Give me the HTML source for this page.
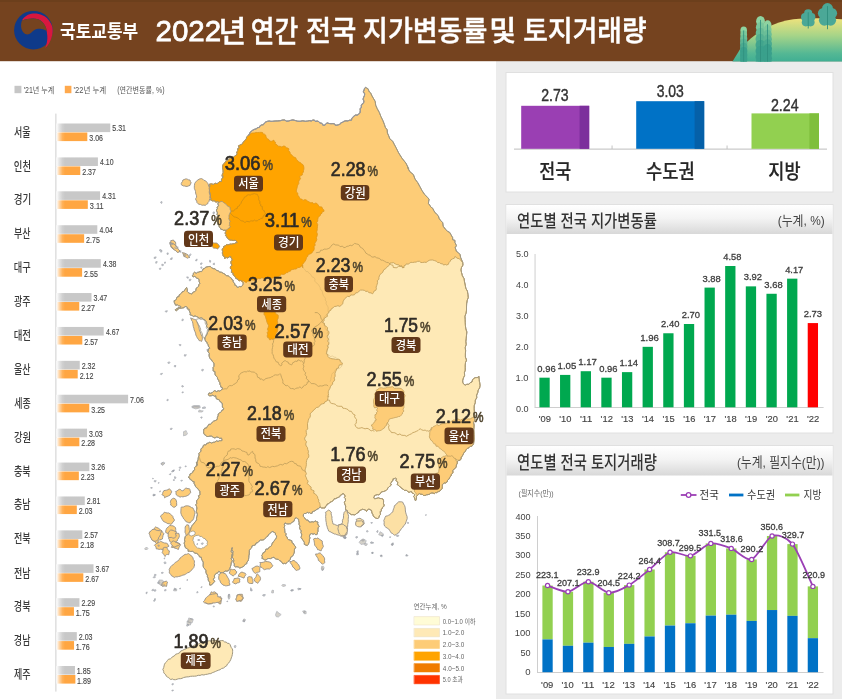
<!DOCTYPE html>
<html lang="ko"><head><meta charset="utf-8"><title>2022년 연간 전국 지가변동률 및 토지거래량</title>
<style>
html,body{margin:0;padding:0;background:#fff;}
body{width:842px;height:699px;overflow:hidden;position:relative;font-family:"Liberation Sans", "Noto Sans CJK KR", sans-serif;}
svg{position:absolute;left:0;top:0;display:block;}
text{font-family:"Liberation Sans", "Noto Sans CJK KR", sans-serif;}
</style></head><body>
<svg width="842" height="699" viewBox="0 0 842 699">
<defs>
<linearGradient id="gGray" gradientUnits="userSpaceOnUse" x1="56.5" y1="0" x2="65" y2="0"><stop offset="0" stop-color="#ffffff"/><stop offset="0.3" stop-color="#e6e6e6"/><stop offset="0.7" stop-color="#d0d0d0"/><stop offset="1" stop-color="#c8c8c8"/></linearGradient>
<linearGradient id="gOr" gradientUnits="userSpaceOnUse" x1="56.5" y1="0" x2="65" y2="0"><stop offset="0" stop-color="#ffffff"/><stop offset="0.3" stop-color="#ffd9ae"/><stop offset="0.7" stop-color="#ffb25a"/><stop offset="1" stop-color="#ffa642"/></linearGradient>
<linearGradient id="gTitle" x1="0" y1="0" x2="0" y2="1"><stop offset="0" stop-color="#ffffff"/><stop offset="0.45" stop-color="#f4f4f4"/><stop offset="1" stop-color="#d8d8d8"/></linearGradient>
<linearGradient id="gHill" x1="0" y1="0" x2="0" y2="1"><stop offset="0" stop-color="#efe27c"/><stop offset="0.4" stop-color="#a6d488"/><stop offset="0.8" stop-color="#55b894"/><stop offset="1" stop-color="#3fae93"/></linearGradient>
<clipPath id="hdr"><rect x="0" y="0" width="842" height="61.4"/></clipPath>
</defs>
<rect x="0" y="0" width="842" height="699" fill="#ffffff"/>
<rect x="496" y="61" width="346" height="638" fill="#ececec"/>
<g clip-path="url(#hdr)">
<rect x="0" y="0" width="842" height="61.4" fill="#75431f"/>
<rect x="0" y="0" width="842" height="2" fill="#6c3f1c"/>
<path d="M732.2 62 L 740.5 48.5 C 746 42, 756 33.5, 764.8 28.5 C 774 23.5, 784 20.3, 793.3 19.2 C 803 18.2, 815 18, 821.8 18.2 L 842 19.2 L 842 62 Z" fill="url(#gHill)"/>
<g>
<ellipse cx="743.7" cy="30.6" rx="3.3" ry="4.0" fill="#8dd3a0"/>
<ellipse cx="743.7" cy="34.6" rx="3.4" ry="4.0" fill="#7cc89c"/>
<ellipse cx="743.7" cy="38.7" rx="3.6" ry="4.0" fill="#6bbe98"/>
<ellipse cx="743.7" cy="42.8" rx="3.7" ry="4.0" fill="#5bb494"/>
<ellipse cx="743.7" cy="46.8" rx="3.7" ry="4.0" fill="#4aaa90"/>
<ellipse cx="743.7" cy="50.9" rx="3.7" ry="4.0" fill="#3aa08c"/>
<ellipse cx="743.7" cy="54.9" rx="3.7" ry="4.0" fill="#3aa08c"/>
<ellipse cx="743.7" cy="59.0" rx="3.7" ry="4.0" fill="#3aa08c"/>
<ellipse cx="743.7" cy="63.0" rx="3.7" ry="4.0" fill="#3aa08c"/>
<rect x="743.30" y="30.5" width="0.8" height="32.5" fill="#2f8f7e"/>
</g>
<g>
<ellipse cx="760.5" cy="21.2" rx="4.4" ry="5.3" fill="#8dd3a0"/>
<ellipse cx="760.5" cy="27.2" rx="4.6" ry="5.3" fill="#7ac79b"/>
<ellipse cx="760.5" cy="33.1" rx="4.8" ry="5.3" fill="#67bb96"/>
<ellipse cx="760.5" cy="39.1" rx="5.0" ry="5.3" fill="#54b092"/>
<ellipse cx="760.5" cy="45.1" rx="5.0" ry="5.3" fill="#41a48d"/>
<ellipse cx="760.5" cy="51.1" rx="5.0" ry="5.3" fill="#3aa08c"/>
<ellipse cx="760.5" cy="57.0" rx="5.0" ry="5.3" fill="#3aa08c"/>
<ellipse cx="760.5" cy="63.0" rx="5.0" ry="5.3" fill="#3aa08c"/>
<rect x="760.10" y="19.9" width="0.8" height="43.1" fill="#2f8f7e"/>
</g>
<g>
<ellipse cx="767.6" cy="24.9" rx="3.9" ry="4.6" fill="#8dd3a0"/>
<ellipse cx="767.6" cy="29.7" rx="4.0" ry="4.6" fill="#7cc89c"/>
<ellipse cx="767.6" cy="34.4" rx="4.2" ry="4.6" fill="#6bbe98"/>
<ellipse cx="767.6" cy="39.2" rx="4.3" ry="4.6" fill="#5bb494"/>
<ellipse cx="767.6" cy="43.9" rx="4.4" ry="4.6" fill="#4aaa90"/>
<ellipse cx="767.6" cy="48.7" rx="4.4" ry="4.6" fill="#3aa08c"/>
<ellipse cx="767.6" cy="53.5" rx="4.4" ry="4.6" fill="#3aa08c"/>
<ellipse cx="767.6" cy="58.2" rx="4.4" ry="4.6" fill="#3aa08c"/>
<ellipse cx="767.6" cy="63.0" rx="4.4" ry="4.6" fill="#3aa08c"/>
<rect x="767.20" y="24.2" width="0.8" height="38.8" fill="#2f8f7e"/>
</g>
<g fill="#4ba897">
<circle cx="808.2" cy="13.4" r="4.1"/>
<circle cx="804.9" cy="17.0" r="3.9"/>
<circle cx="811.5" cy="17.0" r="3.9"/>
<circle cx="805.9" cy="22.3" r="4.1"/>
<circle cx="810.5" cy="22.3" r="4.1"/>
<ellipse cx="808.2" cy="18.7" rx="4.7" ry="6.8"/>
</g>
<rect x="807.75" y="12.3" width="0.9" height="16.2" fill="#2f8f7e"/>
<g fill="#4ba897">
<circle cx="827.5" cy="8.6" r="5.5"/>
<circle cx="823.1" cy="13.3" r="5.2"/>
<circle cx="831.9" cy="13.3" r="5.2"/>
<circle cx="824.4" cy="20.2" r="5.5"/>
<circle cx="830.6" cy="20.2" r="5.5"/>
<ellipse cx="827.5" cy="15.5" rx="6.4" ry="9.0"/>
</g>
<rect x="827.05" y="6.1" width="0.9" height="23.1" fill="#2f8f7e"/>
<g transform="translate(33.4,30.2)">
<circle cx="0" cy="0" r="19.3" fill="#0f3a8a"/>
<path d="M-11.4 -9.6 C -9.5 -13.5, -5 -16.3, -0.4 -16.6 C 6 -17, 11.5 -14.5, 15 -10.5 C 18 -7, 19.3 -3.5, 19.3 0 C 19.3 6.5, 16.5 13.5, 11.8 17.9 C 13.5 13.5, 14.2 9, 13.9 5.7 C 13.5 0, 12.5 -4.5, 9.5 -7.8 C 6.5 -11, 3 -11.8, -0.4 -11.8 C -4.5 -11.8, -8.5 -11, -11.4 -9.6 Z" fill="#d8173f"/>
<path d="M-11.4 -9.6 C -8.5 -11, -4.5 -11.8, -0.4 -11.8 C 3 -11.8, 6.5 -11, 9.5 -7.8 C 11.8 -5.2, 13 -2.5, 13.5 1 C 12.5 0.2, 10.5 -0.9, 8.2 -1.2 C 6.8 -1.5, 5.8 -1.5, 4.6 -1.4 C 1.5 -1.2, -0.5 0.8, -2.5 2.9 C -4.8 5, -8 4.6, -10 2.4 C -12.5 -0.5, -13 -5.5, -11.4 -9.6 Z" fill="#75431f"/>
</g>
<text transform="translate(60.02 37.58) scale(0.1701 0.1802)" font-size="100" font-weight="700" fill="#ffffff" >국토교통부</text>
<text transform="translate(155.52 40.80) scale(0.2953 0.3028)" font-size="100" font-weight="400" fill="#ffffff" stroke="#ffffff" stroke-width="2.6">2022</text>
<text transform="translate(218.49 41.53) scale(0.3014 0.2956)" font-size="100" font-weight="500" fill="#ffffff" stroke="#ffffff" stroke-width="1.6">년</text>
<text transform="translate(250.85 41.53) scale(0.2583 0.2956)" font-size="100" font-weight="500" fill="#ffffff" stroke="#ffffff" stroke-width="1.6">연간</text>
<text transform="translate(306.04 41.00) scale(0.2730 0.2891)" font-size="100" font-weight="500" fill="#ffffff" stroke="#ffffff" stroke-width="1.6">전국</text>
<text transform="translate(363.05 41.03) scale(0.2702 0.2860)" font-size="100" font-weight="500" fill="#ffffff" stroke="#ffffff" stroke-width="1.6">지가변동률</text>
<text transform="translate(489.36 41.29) scale(0.2934 0.2891)" font-size="100" font-weight="500" fill="#ffffff" stroke="#ffffff" stroke-width="1.6">및</text>
<text transform="translate(523.36 41.00) scale(0.2679 0.2891)" font-size="100" font-weight="500" fill="#ffffff" stroke="#ffffff" stroke-width="1.6">토지거래량</text>
</g>
<g id="leftchart">
<rect x="14.5" y="85.8" width="6.9" height="7.4" fill="#c6c6c6"/>
<text transform="translate(23.65 92.90) scale(0.0706 0.0820)" font-size="100" font-weight="400" fill="#555" >'21년 누계</text>
<rect x="64.8" y="85.8" width="6.6" height="7.4" fill="#ffa94d"/>
<text transform="translate(73.62 92.90) scale(0.0754 0.0820)" font-size="100" font-weight="400" fill="#555" >'22년 누계</text>
<text transform="translate(117.18 92.90) scale(0.0706 0.0820)" font-size="100" font-weight="400" fill="#555" >(연간변동률, %)</text>
<rect x="55.2" y="113.6" width="1.3" height="578" fill="#dadada"/>
<text transform="translate(14.04 136.52) scale(0.0903 0.1204)" font-size="100" font-weight="500" fill="#3a3a3a" >서울</text>
<rect x="56.5" y="123.50" width="53.76" height="8.6" fill="url(#gGray)"/>
<rect x="56.5" y="132.50" width="30.81" height="8.6" fill="url(#gOr)"/>
<text transform="translate(112.28 131.41) scale(0.0704 0.0887)" font-size="100" font-weight="400" fill="#484848" stroke="#484848" stroke-width="1.5">5.31</text>
<text transform="translate(89.33 141.32) scale(0.0704 0.0845)" font-size="100" font-weight="400" fill="#484848" stroke="#484848" stroke-width="1.5">3.06</text>
<text transform="translate(13.84 170.63) scale(0.0935 0.1244)" font-size="100" font-weight="500" fill="#3a3a3a" >인천</text>
<rect x="56.5" y="157.41" width="41.42" height="8.6" fill="url(#gGray)"/>
<rect x="56.5" y="166.41" width="23.77" height="8.6" fill="url(#gOr)"/>
<text transform="translate(100.08 165.32) scale(0.0693 0.0887)" font-size="100" font-weight="400" fill="#484848" stroke="#484848" stroke-width="1.5">4.10</text>
<text transform="translate(82.22 175.22) scale(0.0708 0.0845)" font-size="100" font-weight="400" fill="#484848" stroke="#484848" stroke-width="1.5">2.37</text>
<text transform="translate(13.83 204.33) scale(0.0952 0.1204)" font-size="100" font-weight="500" fill="#3a3a3a" >경기</text>
<rect x="56.5" y="191.31" width="43.56" height="8.6" fill="url(#gGray)"/>
<rect x="56.5" y="200.31" width="31.32" height="8.6" fill="url(#gOr)"/>
<text transform="translate(102.22 199.22) scale(0.0697 0.0887)" font-size="100" font-weight="400" fill="#484848" stroke="#484848" stroke-width="1.5">4.31</text>
<text transform="translate(89.83 209.13) scale(0.0736 0.0845)" font-size="100" font-weight="400" fill="#484848" stroke="#484848" stroke-width="1.5">3.11</text>
<text transform="translate(13.95 238.23) scale(0.0898 0.1204)" font-size="100" font-weight="500" fill="#3a3a3a" >부산</text>
<rect x="56.5" y="225.22" width="40.81" height="8.6" fill="url(#gGray)"/>
<rect x="56.5" y="234.22" width="27.65" height="8.6" fill="url(#gOr)"/>
<text transform="translate(99.47 233.13) scale(0.0689 0.0887)" font-size="100" font-weight="400" fill="#484848" stroke="#484848" stroke-width="1.5">4.04</text>
<text transform="translate(86.10 243.03) scale(0.0708 0.0845)" font-size="100" font-weight="400" fill="#484848" stroke="#484848" stroke-width="1.5">2.75</text>
<text transform="translate(13.66 272.13) scale(0.0924 0.1217)" font-size="100" font-weight="500" fill="#3a3a3a" >대구</text>
<rect x="56.5" y="259.12" width="44.28" height="8.6" fill="url(#gGray)"/>
<rect x="56.5" y="268.12" width="25.61" height="8.6" fill="url(#gOr)"/>
<text transform="translate(102.94 267.04) scale(0.0697 0.0887)" font-size="100" font-weight="400" fill="#484848" stroke="#484848" stroke-width="1.5">4.38</text>
<text transform="translate(84.06 276.94) scale(0.0708 0.0845)" font-size="100" font-weight="400" fill="#484848" stroke="#484848" stroke-width="1.5">2.55</text>
<text transform="translate(14.04 306.03) scale(0.0903 0.1217)" font-size="100" font-weight="500" fill="#3a3a3a" >광주</text>
<rect x="56.5" y="293.03" width="34.99" height="8.6" fill="url(#gGray)"/>
<rect x="56.5" y="302.03" width="22.75" height="8.6" fill="url(#gOr)"/>
<text transform="translate(93.51 300.94) scale(0.0704 0.0887)" font-size="100" font-weight="400" fill="#484848" stroke="#484848" stroke-width="1.5">3.47</text>
<text transform="translate(81.20 310.93) scale(0.0708 0.0857)" font-size="100" font-weight="400" fill="#484848" stroke="#484848" stroke-width="1.5">2.27</text>
<text transform="translate(13.64 339.94) scale(0.0946 0.1217)" font-size="100" font-weight="500" fill="#3a3a3a" >대전</text>
<rect x="56.5" y="326.94" width="47.23" height="8.6" fill="url(#gGray)"/>
<rect x="56.5" y="335.94" width="25.81" height="8.6" fill="url(#gOr)"/>
<text transform="translate(105.89 334.85) scale(0.0697 0.0887)" font-size="100" font-weight="400" fill="#484848" stroke="#484848" stroke-width="1.5">4.67</text>
<text transform="translate(84.26 344.75) scale(0.0708 0.0845)" font-size="100" font-weight="400" fill="#484848" stroke="#484848" stroke-width="1.5">2.57</text>
<text transform="translate(13.95 373.97) scale(0.0898 0.1217)" font-size="100" font-weight="500" fill="#3a3a3a" >울산</text>
<rect x="56.5" y="360.84" width="23.26" height="8.6" fill="url(#gGray)"/>
<rect x="56.5" y="369.84" width="21.22" height="8.6" fill="url(#gOr)"/>
<text transform="translate(81.71 368.75) scale(0.0708 0.0887)" font-size="100" font-weight="400" fill="#484848" stroke="#484848" stroke-width="1.5">2.32</text>
<text transform="translate(79.67 378.74) scale(0.0708 0.0857)" font-size="100" font-weight="400" fill="#484848" stroke="#484848" stroke-width="1.5">2.12</text>
<text transform="translate(14.13 407.76) scale(0.0898 0.1204)" font-size="100" font-weight="500" fill="#3a3a3a" >세종</text>
<rect x="56.5" y="394.75" width="71.61" height="8.6" fill="url(#gGray)"/>
<rect x="56.5" y="403.75" width="32.75" height="8.6" fill="url(#gOr)"/>
<text transform="translate(130.06 402.66) scale(0.0708 0.0887)" font-size="100" font-weight="400" fill="#484848" stroke="#484848" stroke-width="1.5">7.06</text>
<text transform="translate(91.27 412.56) scale(0.0704 0.0845)" font-size="100" font-weight="400" fill="#484848" stroke="#484848" stroke-width="1.5">3.25</text>
<text transform="translate(13.93 441.77) scale(0.0935 0.1231)" font-size="100" font-weight="500" fill="#3a3a3a" >강원</text>
<rect x="56.5" y="428.65" width="30.51" height="8.6" fill="url(#gGray)"/>
<rect x="56.5" y="437.65" width="22.86" height="8.6" fill="url(#gOr)"/>
<text transform="translate(89.02 436.57) scale(0.0704 0.0887)" font-size="100" font-weight="400" fill="#484848" stroke="#484848" stroke-width="1.5">3.03</text>
<text transform="translate(81.30 446.47) scale(0.0708 0.0845)" font-size="100" font-weight="400" fill="#484848" stroke="#484848" stroke-width="1.5">2.28</text>
<text transform="translate(13.95 475.58) scale(0.0908 0.1204)" font-size="100" font-weight="500" fill="#3a3a3a" >충북</text>
<rect x="56.5" y="462.56" width="32.85" height="8.6" fill="url(#gGray)"/>
<rect x="56.5" y="471.56" width="22.35" height="8.6" fill="url(#gOr)"/>
<text transform="translate(91.37 470.47) scale(0.0704 0.0887)" font-size="100" font-weight="400" fill="#484848" stroke="#484848" stroke-width="1.5">3.26</text>
<text transform="translate(80.79 480.38) scale(0.0708 0.0845)" font-size="100" font-weight="400" fill="#484848" stroke="#484848" stroke-width="1.5">2.23</text>
<text transform="translate(13.95 509.48) scale(0.0898 0.1204)" font-size="100" font-weight="500" fill="#3a3a3a" >충남</text>
<rect x="56.5" y="496.47" width="28.26" height="8.6" fill="url(#gGray)"/>
<rect x="56.5" y="505.47" width="20.31" height="8.6" fill="url(#gOr)"/>
<text transform="translate(86.71 504.38) scale(0.0708 0.0887)" font-size="100" font-weight="400" fill="#484848" stroke="#484848" stroke-width="1.5">2.81</text>
<text transform="translate(78.75 514.28) scale(0.0708 0.0845)" font-size="100" font-weight="400" fill="#484848" stroke="#484848" stroke-width="1.5">2.03</text>
<text transform="translate(13.95 543.38) scale(0.0908 0.1217)" font-size="100" font-weight="500" fill="#3a3a3a" >전북</text>
<rect x="56.5" y="530.37" width="25.81" height="8.6" fill="url(#gGray)"/>
<rect x="56.5" y="539.37" width="21.84" height="8.6" fill="url(#gOr)"/>
<text transform="translate(84.26 538.28) scale(0.0708 0.0887)" font-size="100" font-weight="400" fill="#484848" stroke="#484848" stroke-width="1.5">2.57</text>
<text transform="translate(80.28 548.19) scale(0.0708 0.0845)" font-size="100" font-weight="400" fill="#484848" stroke="#484848" stroke-width="1.5">2.18</text>
<text transform="translate(13.95 577.51) scale(0.0898 0.1244)" font-size="100" font-weight="500" fill="#3a3a3a" >전남</text>
<rect x="56.5" y="564.28" width="37.03" height="8.6" fill="url(#gGray)"/>
<rect x="56.5" y="573.28" width="26.83" height="8.6" fill="url(#gOr)"/>
<text transform="translate(95.55 572.19) scale(0.0704 0.0887)" font-size="100" font-weight="400" fill="#484848" stroke="#484848" stroke-width="1.5">3.67</text>
<text transform="translate(85.28 582.09) scale(0.0708 0.0845)" font-size="100" font-weight="400" fill="#484848" stroke="#484848" stroke-width="1.5">2.67</text>
<text transform="translate(13.85 611.19) scale(0.0913 0.1217)" font-size="100" font-weight="500" fill="#3a3a3a" >경북</text>
<rect x="56.5" y="598.18" width="22.96" height="8.6" fill="url(#gGray)"/>
<rect x="56.5" y="607.18" width="17.45" height="8.6" fill="url(#gOr)"/>
<text transform="translate(81.40 606.10) scale(0.0708 0.0887)" font-size="100" font-weight="400" fill="#484848" stroke="#484848" stroke-width="1.5">2.29</text>
<text transform="translate(75.67 616.00) scale(0.0720 0.0857)" font-size="100" font-weight="400" fill="#484848" stroke="#484848" stroke-width="1.5">1.75</text>
<text transform="translate(13.86 645.21) scale(0.0903 0.1231)" font-size="100" font-weight="500" fill="#3a3a3a" >경남</text>
<rect x="56.5" y="632.09" width="20.31" height="8.6" fill="url(#gGray)"/>
<rect x="56.5" y="641.09" width="17.55" height="8.6" fill="url(#gOr)"/>
<text transform="translate(78.75 640.00) scale(0.0708 0.0887)" font-size="100" font-weight="400" fill="#484848" stroke="#484848" stroke-width="1.5">2.03</text>
<text transform="translate(75.78 649.91) scale(0.0720 0.0845)" font-size="100" font-weight="400" fill="#484848" stroke="#484848" stroke-width="1.5">1.76</text>
<text transform="translate(14.04 679.01) scale(0.0903 0.1204)" font-size="100" font-weight="500" fill="#3a3a3a" >제주</text>
<rect x="56.5" y="666.00" width="18.47" height="8.6" fill="url(#gGray)"/>
<rect x="56.5" y="675.00" width="18.88" height="8.6" fill="url(#gOr)"/>
<text transform="translate(76.69 673.91) scale(0.0720 0.0887)" font-size="100" font-weight="400" fill="#484848" stroke="#484848" stroke-width="1.5">1.85</text>
<text transform="translate(77.10 683.81) scale(0.0720 0.0845)" font-size="100" font-weight="400" fill="#484848" stroke="#484848" stroke-width="1.5">1.89</text>
</g>
<g id="map" stroke-linejoin="round" stroke-linecap="round">
<path d="M248.9 135.0 L249.5 133.7 L250.1 132.5 L251.4 131.1 L252.9 130.1 L254.6 129.3 L256.4 128.8 L257.5 127.6 L259.3 127.4 L260.1 125.8 L261.4 125.0 L263.3 124.7 L264.5 123.1 L265.8 121.9 L267.6 121.3 L269.3 121.0 L270.9 121.4 L272.6 121.3 L275.1 121.0 L277.7 120.9 L280.2 120.7 L282.7 120.0 L284.6 120.0 L286.4 121.1 L288.3 121.1 L290.2 120.5 L292.8 119.9 L295.2 120.5 L297.7 121.2 L300.2 121.3 L302.7 120.8 L305.2 121.3 L307.7 121.0 L310.2 120.5 L310.0 120.8 L311.5 120.9 L312.8 120.1 L314.3 120.1 L315.4 121.4 L317.2 121.1 L318.6 121.5 L319.9 122.9 L321.9 123.4 L322.9 125.1 L324.8 125.2 L325.9 123.8 L327.2 122.9 L329.1 123.5 L331.0 123.7 L332.9 123.6 L334.4 123.8 L335.5 125.3 L337.2 125.1 L338.6 124.7 L340.0 124.2 L340.8 122.9 L342.5 122.3 L344.0 121.3 L345.8 120.8 L347.7 120.9 L349.6 120.2 L351.5 120.1 L351.8 118.5 L352.9 117.2 L354.1 116.0 L355.4 115.1 L357.2 115.1 L358.6 114.3 L360.0 112.6 L360.3 110.7 L360.1 108.6 L361.4 107.5 L361.3 105.4 L362.2 104.0 L363.6 102.9 L363.9 101.1 L363.1 99.2 L363.6 97.4 L364.4 95.7 L364.7 93.8 L363.3 91.9 L364.1 90.0 L364.5 88.4 L365.8 87.4 L366.8 88.2 L367.9 88.6 L368.6 90.3 L369.4 92.0 L370.9 93.2 L371.5 95.0 L373.3 98.2 L375.2 101.4 L375.7 105.2 L377.2 108.6 L379.3 112.4 L380.9 116.5 L382.8 120.4 L384.4 124.4 L385.3 127.3 L387.2 129.8 L387.4 133.0 L388.7 135.8 L389.9 139.0 L392.7 141.2 L394.2 144.2 L395.8 147.2 L398.6 152.8 L401.9 158.1 L405.9 163.1 L408.7 168.7 L407.6 167.6 L409.8 171.6 L413.4 174.6 L415.0 179.0 L417.7 182.6 L419.9 186.6 L422.0 190.6 L424.5 194.3 L427.7 197.6 L429.1 199.2 L428.7 201.3 L428.4 203.4 L429.7 205.1 L430.9 207.1 L432.9 208.5 L433.8 210.7 L435.2 212.6 L436.7 214.3 L438.4 215.9 L439.0 218.2 L440.2 220.1 L442.7 222.5 L443.2 226.2 L445.2 229.0 L447.7 231.4 L449.7 232.4 L450.7 234.2 L451.7 236.0 L452.7 237.7 L452.6 239.7 L455.0 240.4 L454.9 242.4 L455.7 243.9 L456.4 245.7 L455.2 247.7 L455.9 249.6 L456.4 251.4 L458.2 252.5 L460.1 254.6 L460.6 257.4 L461.7 259.9 L462.7 262.5 L462.9 265.1 L461.5 267.4 L460.9 269.9 L461.5 272.5 L462.3 275.7 L464.0 278.6 L464.5 281.9 L465.2 285.1 L465.8 288.3 L467.4 291.2 L467.9 294.4 L468.2 297.6 L467.1 300.6 L466.6 303.8 L466.5 306.9 L466.5 310.1 L466.0 313.2 L464.9 316.3 L465.1 319.4 L465.2 322.6 L465.4 325.7 L465.8 328.9 L466.8 331.9 L466.5 335.1 L466.2 338.2 L465.8 341.3 L466.1 344.5 L465.2 347.6 L465.6 350.7 L465.4 353.9 L465.4 357.1 L466.5 360.1 L465.5 362.5 L465.2 365.1 L465.2 367.6 L465.2 370.2 L464.4 372.6 L464.6 375.4 L463.5 377.7 L462.7 380.2 L462.7 382.3 L463.5 383.9 L465.2 385.2 L466.8 384.3 L468.9 384.3 L470.2 382.7 L472.0 382.0 L472.5 380.0 L473.6 378.6 L475.2 377.7 L476.6 377.6 L477.9 377.4 L479.0 376.4 L478.9 378.0 L479.2 379.6 L479.3 381.1 L479.7 382.7 L480.0 385.4 L479.6 387.9 L478.1 390.2 L477.7 392.7 L476.6 395.1 L476.7 397.8 L475.3 400.1 L475.2 402.7 L474.2 405.7 L474.1 408.8 L474.3 411.9 L474.0 415.0 L475.2 415.0 L474.3 417.4 L474.8 420.0 L473.5 422.4 L474.0 425.0 L473.7 429.7 L473.9 434.4 L474.0 439.1 L473.5 443.8 L472.7 445.0 L471.9 446.2 L470.2 446.3 L469.0 447.6 L467.3 448.4 L466.1 449.7 L465.2 451.3 L463.9 452.8 L463.0 454.5 L462.2 456.3 L461.0 457.3 L461.0 458.9 L460.2 460.1 L458.6 460.5 L457.3 461.6 L457.2 463.3 L456.4 464.9 L456.2 466.6 L455.4 468.1 L453.9 469.1 L452.7 470.6 L452.9 472.8 L451.4 474.1 L450.9 475.9 L449.7 477.4 L449.0 479.1 L447.6 480.1 L447.1 482.0 L445.6 482.9 L444.1 482.8 L443.3 483.9 L442.3 484.6 L442.3 486.5 L442.1 488.4 L440.8 490.0 L439.9 491.0 L438.7 491.5 L437.6 491.9 L436.6 492.6 L435.4 492.6 L434.3 493.6 L433.0 492.9 L431.5 492.9 L430.1 493.6 L429.2 494.3 L428.0 494.6 L426.5 494.7 L425.1 495.5 L423.5 495.4 L422.3 494.3 L420.8 494.2 L419.4 493.6 L418.4 494.3 L417.5 495.0 L416.4 496.2 L416.5 497.9 L416.2 499.4 L415.5 500.8 L414.9 499.4 L414.7 497.9 L413.7 496.6 L414.9 494.8 L413.7 493.6 L412.2 493.0 L411.5 491.5 L410.3 491.7 L409.1 492.3 L407.9 491.7 L407.0 490.5 L405.8 490.3 L404.4 490.3 L403.1 489.1 L401.5 488.3 L400.8 487.1 L399.5 486.5 L398.7 485.4 L397.2 484.5 L398.0 482.4 L396.7 481.4 L396.0 480.3 L396.5 478.9 L395.5 477.9 L394.3 478.7 L392.9 478.9 L393.1 480.3 L391.9 481.1 L391.5 482.2 L390.5 483.3 L391.3 485.0 L390.1 486.0 L388.9 486.9 L387.9 487.9 L387.2 489.3 L386.2 490.4 L384.9 490.9 L383.6 491.5 L382.0 491.7 L380.8 492.5 L380.1 494.0 L378.8 494.8 L377.2 494.6 L375.7 495.1 L374.3 495.7 L374.2 496.9 L373.6 497.9 L374.6 498.7 L375.8 498.6 L377.2 498.2 L378.6 497.9 L380.0 498.5 L381.5 498.6 L383.0 499.2 L383.6 500.8 L383.5 502.2 L383.5 503.7 L384.1 505.0 L383.8 506.4 L382.5 507.2 L382.2 508.6 L381.1 509.3 L381.5 511.0 L380.1 511.5 L380.3 513.0 L380.4 514.5 L379.3 515.8 L378.9 517.3 L377.9 518.6 L376.7 518.3 L375.5 517.9 L374.2 517.0 L373.3 515.9 L372.9 514.3 L372.0 513.1 L371.8 511.7 L371.5 510.3 L370.0 509.6 L368.6 508.9 L367.4 510.1 L366.5 511.5 L365.5 509.9 L363.6 509.5 L362.3 509.2 L361.2 509.9 L360.0 510.3 L358.9 511.0 L358.6 512.5 L357.2 512.9 L356.0 514.2 L354.7 514.8 L352.9 514.6 L351.2 514.6 L350.0 513.6 L348.6 512.9 L347.7 511.9 L347.1 510.5 L345.7 510.0 L345.5 508.1 L345.7 506.1 L344.9 504.3 L344.4 502.3 L345.5 500.5 L345.4 498.6 L344.4 497.6 L345.3 496.1 L344.6 495.0 L343.6 493.6 L342.2 493.8 L341.4 495.0 L340.2 495.3 L339.7 496.7 L338.6 497.2 L337.1 497.8 L335.7 498.6 L334.2 498.7 L333.6 499.8 L332.9 500.8 L331.5 501.6 L330.0 502.2 L329.0 503.5 L327.2 504.0 L326.6 505.7 L325.4 506.3 L325.0 507.9 L323.4 507.9 L321.6 507.9 L320.1 506.8 L319.4 507.9 L318.4 508.7 L317.1 509.2 L316.0 510.0 L315.0 510.8 L313.7 511.3 L312.4 511.7 L312.1 513.3 L310.7 513.5 L309.7 512.6 L308.3 513.0 L307.3 512.2 L306.1 513.5 L304.3 513.5 L303.3 514.8 L303.4 516.5 L304.5 517.6 L305.2 518.9 L306.4 519.9 L308.1 520.2 L309.0 521.9 L310.7 522.1 L312.1 521.7 L313.8 522.1 L315.0 520.8 L316.4 521.6 L318.0 522.1 L317.7 523.7 L318.3 525.1 L319.3 526.3 L318.1 527.8 L318.0 529.7 L318.0 531.5 L317.4 532.7 L317.3 534.2 L315.9 534.9 L314.7 533.7 L313.0 534.2 L311.6 533.6 L310.0 534.4 L309.4 536.2 L310.0 537.9 L309.4 539.7 L309.4 541.4 L308.9 542.9 L308.3 544.4 L307.3 545.6 L305.8 545.1 L304.3 544.4 L304.3 542.3 L303.2 540.6 L302.1 539.0 L301.0 537.6 L301.5 535.8 L301.7 534.1 L300.8 532.6 L301.3 530.9 L300.1 529.4 L299.5 527.8 L300.0 526.1 L299.0 524.5 L299.1 522.6 L298.7 520.8 L298.6 519.3 L297.4 518.7 L296.5 517.8 L295.0 518.4 L294.4 519.9 L293.9 521.4 L292.6 522.1 L291.4 522.9 L290.4 523.8 L289.2 523.8 L288.0 524.0 L286.4 523.7 L285.0 522.9 L284.3 524.3 L284.9 525.9 L284.1 527.2 L284.7 528.9 L284.8 530.8 L285.0 532.6 L286.2 533.8 L285.7 535.8 L287.1 536.9 L287.4 538.6 L288.5 539.6 L290.1 540.1 L291.8 540.7 L292.0 542.7 L293.5 543.5 L294.0 545.0 L295.3 546.2 L295.7 547.8 L294.5 549.0 L294.4 550.5 L294.4 552.1 L293.9 553.6 L293.2 555.1 L292.3 556.4 L290.6 557.3 L290.3 559.3 L289.2 560.7 L287.9 561.6 L286.9 562.7 L285.8 563.7 L284.6 563.3 L283.1 563.8 L282.0 562.8 L281.1 561.3 L279.5 560.6 L278.3 559.4 L276.6 559.2 L275.1 558.7 L274.0 557.2 L272.3 557.7 L270.6 558.6 L268.7 558.5 L267.2 558.8 L266.1 560.1 L264.4 559.8 L263.2 558.9 L261.8 558.3 L262.5 557.0 L261.7 555.4 L262.6 554.2 L263.1 552.7 L264.7 552.1 L265.4 550.8 L265.9 549.1 L268.0 549.1 L268.7 547.6 L270.1 546.8 L271.3 545.9 L271.9 544.4 L272.3 543.1 L273.2 542.0 L274.2 541.1 L274.7 539.8 L275.9 538.8 L276.4 537.5 L276.7 535.9 L275.4 534.7 L275.5 533.2 L274.1 532.4 L272.9 531.5 L271.6 531.8 L270.8 532.8 L269.9 533.6 L268.5 534.5 L267.9 536.2 L266.5 537.1 L265.2 538.3 L264.0 539.7 L262.2 540.1 L260.3 540.1 L259.0 541.2 L257.9 542.6 L256.1 543.0 L255.4 545.0 L253.6 545.4 L252.0 545.9 L251.7 547.7 L250.6 548.7 L249.4 550.3 L249.3 552.1 L249.3 554.0 L248.9 555.8 L248.8 557.6 L248.5 559.4 L248.1 560.9 L246.9 562.1 L246.8 563.7 L245.5 564.1 L244.7 565.1 L244.0 566.2 L242.6 566.9 L241.2 567.6 L239.7 568.0 L238.4 567.1 L237.0 566.7 L235.4 566.9 L234.1 565.8 L234.4 563.8 L233.3 562.6 L233.8 560.7 L233.3 558.8 L232.2 557.0 L232.8 555.1 L232.7 553.2 L233.0 551.3 L231.7 549.5 L232.2 547.6 L231.7 549.5 L231.1 551.3 L232.5 553.3 L231.8 555.1 L231.8 557.0 L231.1 558.8 L232.4 560.8 L231.3 562.6 L231.1 564.5 L230.6 566.2 L230.0 568.0 L229.3 569.4 L228.5 570.7 L226.8 571.2 L225.1 571.0 L223.9 572.2 L222.5 572.7 L221.0 573.0 L219.9 572.1 L218.9 571.2 L218.1 572.1 L217.5 573.2 L216.1 573.3 L215.2 574.6 L214.3 575.9 L214.6 577.6 L213.3 579.2 L214.7 581.4 L213.3 583.0 L212.3 584.0 L211.3 585.1 L209.7 585.1 L209.5 583.7 L209.9 582.3 L208.6 581.2 L208.2 579.7 L208.2 578.1 L207.4 576.8 L207.4 575.2 L206.5 574.0 L205.9 572.4 L205.9 570.5 L204.9 569.0 L203.6 567.6 L203.1 565.9 L203.2 564.0 L203.2 562.1 L202.3 560.6 L201.5 559.0 L201.4 557.3 L199.6 557.0 L199.0 555.7 L198.0 554.3 L196.7 553.4 L194.9 553.2 L193.7 552.1 L192.4 551.3 L190.7 551.5 L189.5 551.2 L188.2 551.4 L188.1 549.7 L187.2 548.7 L185.7 548.1 L184.9 546.5 L184.6 544.8 L184.1 543.1 L184.8 541.5 L184.5 539.7 L184.9 538.1 L185.2 536.4 L186.6 535.3 L187.4 533.9 L188.0 532.6 L188.9 531.6 L189.9 530.6 L190.7 529.3 L190.9 527.8 L191.6 526.5 L192.3 525.2 L193.3 524.2 L194.1 523.1 L195.0 522.0 L195.9 521.0 L196.6 519.8 L196.5 518.1 L196.9 516.4 L197.4 514.8 L197.0 513.1 L196.3 511.6 L196.6 509.8 L196.9 508.0 L196.5 506.4 L195.7 504.8 L196.7 503.6 L196.6 502.1 L196.6 500.7 L197.5 499.6 L198.3 498.6 L199.0 497.4 L198.4 495.8 L200.1 494.7 L199.9 493.2 L199.8 491.2 L198.5 489.7 L197.4 488.2 L196.2 487.4 L195.4 486.3 L194.9 484.9 L194.0 483.4 L194.1 481.6 L192.7 481.6 L191.9 480.3 L190.7 479.9 L189.9 479.1 L189.5 477.8 L188.2 477.4 L189.1 476.5 L189.8 475.4 L189.9 474.1 L191.4 473.4 L192.7 472.5 L193.2 470.8 L194.7 469.8 L194.4 467.7 L195.7 466.6 L197.1 465.2 L196.8 463.2 L197.4 461.6 L196.4 462.9 L196.7 464.6 L196.2 466.1 L197.5 464.8 L196.4 462.8 L197.4 461.4 L198.0 459.8 L198.2 458.1 L198.6 456.4 L199.2 455.1 L198.8 453.5 L199.9 452.3 L201.0 451.1 L200.8 449.4 L201.6 448.1 L202.9 447.4 L203.1 445.7 L204.1 444.8 L205.8 445.0 L206.7 443.4 L208.2 443.1 L209.8 442.2 L211.6 443.0 L213.2 442.3 L214.9 442.1 L216.4 440.9 L218.2 441.4 L219.3 440.7 L220.6 440.7 L221.9 440.6 L221.9 439.3 L221.5 438.1 L219.7 438.4 L218.2 437.3 L216.5 437.1 L214.9 438.0 L213.2 437.3 L211.7 436.2 L210.0 436.1 L208.2 436.5 L206.7 436.5 L205.8 435.3 L204.6 434.8 L203.7 433.3 L203.6 431.5 L203.7 430.2 L203.9 429.0 L204.9 428.1 L206.5 428.0 L207.1 426.5 L208.2 425.7 L208.8 424.3 L210.6 424.3 L211.5 423.2 L212.4 422.1 L213.5 421.2 L214.9 420.7 L216.5 420.1 L217.3 418.9 L217.4 417.3 L218.1 415.7 L218.2 414.0 L219.3 413.0 L220.7 412.4 L221.4 411.4 L221.9 410.2 L223.2 409.9 L223.6 408.4 L222.4 407.1 L222.4 405.7 L222.3 403.9 L221.5 402.4 L219.9 401.5 L219.3 399.9 L217.9 399.4 L216.5 399.0 L215.9 397.4 L215.7 395.7 L214.3 396.3 L212.9 395.1 L211.5 395.7 L209.7 395.9 L208.2 394.9 L209.0 392.9 L210.7 393.3 L212.0 392.8 L213.2 391.6 L214.7 390.6 L216.6 391.6 L218.2 390.7 L219.9 391.1 L221.1 390.0 L222.4 389.1 L222.4 387.7 L220.8 387.1 L220.7 385.7 L219.9 384.4 L219.9 382.8 L219.0 381.6 L218.6 380.2 L217.6 378.9 L217.4 377.4 L216.3 376.2 L215.2 375.0 L214.9 373.3 L215.0 371.6 L213.0 370.8 L213.2 369.1 L213.0 367.6 L213.9 366.4 L214.0 365.0 L213.9 363.0 L212.5 361.6 L211.5 360.0 L210.1 358.6 L209.3 356.9 L209.0 355.0 L209.4 353.2 L207.9 351.8 L208.2 350.0 L208.7 348.7 L209.9 348.1 L209.1 347.1 L208.3 346.1 L208.2 344.8 L207.3 343.7 L207.0 342.2 L205.7 341.4 L205.0 339.8 L204.9 338.1 L205.0 336.8 L206.1 335.9 L206.6 334.8 L207.3 333.8 L207.4 332.5 L208.2 331.5 L208.6 330.0 L208.6 328.5 L207.4 327.3 L206.3 326.1 L207.1 324.5 L206.6 323.2 L206.5 321.8 L205.6 320.9 L204.9 319.8 L203.4 319.4 L202.4 318.2 L201.0 317.8 L199.5 318.3 L198.2 317.3 L196.6 316.6 L195.1 315.9 L193.3 316.5 L192.3 315.6 L191.1 315.1 L189.9 314.8 L190.3 313.3 L189.8 312.0 L189.1 310.7 L189.2 309.3 L187.2 308.9 L187.4 307.4 L186.2 306.7 L184.9 306.5 L184.1 307.7 L182.9 307.9 L181.6 308.2 L179.5 308.2 L178.0 309.3 L176.6 310.7 L175.0 309.9 L176.0 308.9 L177.5 309.0 L178.1 307.5 L180.2 307.9 L180.8 306.5 L179.6 305.9 L178.3 305.7 L177.4 304.8 L175.7 305.3 L175.0 304.0 L174.3 302.4 L174.1 300.7 L175.3 300.2 L176.3 299.5 L176.6 298.2 L177.2 296.9 L179.0 296.5 L179.1 294.9 L180.4 294.0 L181.6 293.0 L182.4 291.6 L184.0 291.3 L184.9 289.9 L185.6 288.5 L186.6 287.4 L187.1 288.6 L187.4 289.9 L187.2 291.4 L188.1 292.3 L189.1 293.2 L190.4 293.5 L191.6 294.1 L192.5 293.0 L193.4 291.9 L194.9 291.6 L195.9 290.3 L196.0 288.4 L197.4 287.4 L198.6 286.3 L198.9 284.5 L199.9 283.3 L199.1 281.7 L199.1 279.9 L198.3 278.6 L196.8 278.2 L195.7 277.4 L194.9 276.2 L193.2 277.0 L192.4 275.8 L193.2 274.7 L193.3 273.3 L194.5 272.2 L196.2 273.3 L197.4 272.4 L198.8 272.1 L200.1 271.5 L201.6 271.6 L202.5 270.3 L203.2 268.8 L204.9 268.3 L205.7 267.1 L206.9 266.9 L208.2 266.6 L210.2 266.4 L211.6 267.7 L213.2 268.6 L215.1 268.8 L216.4 270.4 L218.2 270.8 L219.7 272.0 L221.6 272.3 L223.2 273.3 L224.9 274.1 L226.2 275.7 L228.2 275.8 L229.3 276.6 L230.3 277.6 L231.5 278.3 L231.8 279.5 L233.2 280.2 L233.2 281.6 L233.8 282.8 L234.9 283.7 L234.8 285.2 L236.2 285.5 L236.8 287.0 L238.1 287.4 L239.4 286.5 L241.1 286.8 L242.3 285.7 L242.9 284.6 L243.1 283.3 L243.1 282.4 L242.1 281.1 L240.7 280.5 L239.0 280.8 L238.2 279.6 L237.0 278.8 L235.7 278.3 L235.3 276.9 L234.2 275.9 L233.2 274.9 L233.3 273.3 L231.4 272.4 L231.5 270.8 L231.4 269.4 L230.2 268.1 L230.7 266.6 L232.0 265.2 L231.0 263.2 L231.0 261.5 L232.2 260.1 L232.0 258.8 L230.9 257.8 L230.8 256.5 L229.1 256.8 L227.9 258.0 L226.2 257.5 L224.6 258.4 L224.6 256.8 L223.1 255.9 L222.9 254.4 L222.2 253.0 L222.9 251.5 L222.2 250.1 L222.4 248.8 L223.6 247.9 L223.6 246.5 L225.2 245.9 L226.5 244.7 L227.7 244.8 L229.0 244.6 L230.1 244.1 L231.3 244.2 L232.5 243.9 L233.7 243.7 L234.9 243.4 L236.0 242.7 L237.2 242.7 L236.5 241.2 L235.0 240.2 L233.2 240.5 L231.5 240.1 L229.8 240.0 L228.4 239.0 L227.2 237.9 L226.7 236.8 L225.7 235.8 L226.1 234.4 L225.0 233.1 L226.0 231.4 L225.1 230.1 L223.5 230.3 L222.2 229.4 L220.8 229.2 L220.3 227.9 L219.4 227.2 L219.0 225.6 L217.9 224.4 L217.6 223.0 L217.3 221.6 L217.2 220.1 L216.7 218.6 L216.9 217.1 L217.9 215.8 L217.1 214.5 L217.5 212.9 L216.9 211.5 L216.3 210.0 L217.4 208.7 L217.2 207.2 L218.5 205.8 L218.0 203.8 L218.6 202.2 L217.2 201.6 L215.8 202.2 L214.9 200.9 L213.6 200.8 L212.2 200.8 L210.7 200.1 L211.0 198.3 L210.1 197.2 L210.3 195.2 L210.2 193.3 L209.3 191.5 L208.9 189.7 L208.6 187.9 L210.1 186.1 L209.3 184.3 L211.3 183.9 L213.3 184.4 L215.2 183.3 L217.2 183.6 L218.5 182.5 L219.7 181.5 L221.5 181.4 L221.5 179.4 L222.7 177.7 L222.9 175.7 L222.6 177.6 L222.1 175.1 L223.2 172.6 L223.1 170.1 L222.6 167.6 L222.7 165.6 L223.5 163.9 L225.1 162.6 L225.8 160.9 L227.6 160.7 L228.5 159.2 L230.1 158.8 L231.4 157.3 L233.4 157.3 L234.8 155.9 L236.4 155.1 L237.1 153.6 L236.7 151.9 L238.1 150.5 L237.6 148.8 L239.2 148.1 L238.5 145.8 L240.1 145.1 L242.2 144.0 L243.4 142.1 L244.9 140.4 L246.4 138.8 L246.5 137.1 L247.7 136.0 L248.9 135.0Z" fill="#fdcc77" stroke="#a0977f" stroke-width="1"/>
<path d="M450.2 261.3 L449.0 262.6 L448.3 264.4 L446.4 265.0 L445.2 264.4 L443.6 265.1 L442.7 263.8 L440.9 263.7 L439.4 262.6 L437.7 262.5 L436.3 261.2 L434.5 260.6 L432.7 260.0 L430.9 260.0 L429.2 260.3 L427.7 261.3 L426.2 262.4 L424.4 262.2 L422.7 262.5 L420.9 262.5 L419.5 261.3 L417.7 261.3 L416.1 262.1 L414.3 262.2 L412.6 262.5 L410.9 262.3 L409.5 263.3 L408.1 264.2 L406.4 263.8 L405.7 265.1 L404.0 265.8 L403.9 267.5 L402.5 267.7 L401.6 265.9 L400.1 266.3 L398.8 264.8 L396.8 264.6 L395.1 263.8 L393.6 262.7 L391.8 262.9 L390.1 263.0 L389.5 265.0 L388.0 266.3 L386.4 267.5 L385.6 268.8 L383.9 269.6 L383.2 271.0 L382.6 272.5 L381.3 273.5 L380.0 274.5 L379.4 275.9 L378.9 277.5 L378.9 279.3 L377.3 280.7 L377.6 282.6 L377.2 284.1 L376.7 285.6 L376.1 287.1 L376.4 288.8 L375.8 290.3 L374.1 291.0 L373.5 292.5 L372.6 293.8 L371.0 292.9 L369.0 292.7 L367.6 291.3 L365.8 291.4 L364.3 290.3 L362.6 290.1 L360.5 290.1 L359.0 291.3 L357.6 292.6 L355.7 292.9 L354.5 294.7 L352.6 295.1 L350.8 294.9 L349.5 296.7 L347.6 296.3 L346.2 297.5 L344.8 298.6 L343.8 300.1 L343.0 301.8 L342.8 303.8 L341.3 305.1 L339.8 306.4 L337.9 305.7 L336.3 306.3 L334.3 306.5 L333.0 307.9 L331.3 308.8 L330.8 310.3 L329.1 311.0 L328.8 312.6 L327.7 313.6 L327.1 314.8 L327.5 316.3 L326.1 317.0 L325.0 318.0 L323.8 318.8 L324.2 320.4 L323.4 321.5 L322.5 322.6 L324.4 323.3 L324.6 325.5 L326.3 326.4 L327.6 327.8 L327.2 330.1 L328.8 331.4 L329.0 333.1 L328.5 334.6 L327.1 335.9 L327.5 337.6 L328.6 339.1 L327.6 341.1 L328.8 342.6 L328.9 344.3 L327.3 345.6 L328.2 347.4 L327.5 348.9 L327.2 350.6 L326.7 352.2 L326.3 353.9 L327.8 354.7 L327.9 356.4 L328.8 357.6 L330.4 358.3 L332.0 358.8 L333.8 358.9 L335.4 359.3 L337.0 359.4 L338.6 359.3 L340.1 360.1 L340.4 361.7 L341.5 362.8 L342.6 363.9 L341.4 364.8 L339.5 364.8 L338.8 366.4 L338.4 368.0 L336.6 368.6 L336.3 370.2 L335.6 371.7 L335.0 373.2 L335.1 374.8 L335.1 376.4 L334.1 377.9 L334.7 379.9 L333.8 381.4 L332.6 382.4 L332.6 384.3 L331.3 385.2 L330.4 386.8 L329.8 388.6 L328.8 390.2 L328.3 391.7 L328.3 393.3 L328.5 395.0 L327.5 396.4 L328.8 396.3 L328.1 397.4 L327.8 398.7 L327.5 400.0 L326.5 401.3 L324.9 401.8 L324.2 403.4 L322.5 403.8 L320.7 404.4 L319.7 406.1 L318.2 407.2 L316.3 407.5 L315.2 408.9 L313.7 409.9 L312.7 411.4 L311.3 412.5 L310.1 413.9 L310.4 415.8 L309.9 417.4 L308.8 418.8 L308.3 420.3 L308.0 421.9 L307.5 423.4 L307.5 425.0 L307.6 427.0 L307.7 428.9 L306.1 430.6 L306.3 432.6 L306.6 434.6 L305.7 436.4 L304.6 438.1 L305.0 440.1 L306.5 441.7 L305.7 444.0 L306.2 446.0 L307.5 447.6 L307.7 449.5 L308.5 451.3 L308.1 453.3 L308.8 455.1 L308.7 457.2 L307.3 458.8 L306.6 460.6 L306.3 462.6 L306.4 464.5 L306.1 466.4 L305.6 468.3 L305.0 470.1 L305.6 471.9 L306.4 473.7 L305.3 475.8 L306.3 477.6 L306.9 479.5 L308.2 481.1 L307.3 483.5 L308.8 485.1 L310.0 486.2 L311.2 487.2 L310.9 489.4 L312.5 490.1 L314.1 490.9 L313.6 493.2 L315.3 493.9 L316.3 495.1 L317.5 496.6 L317.9 498.5 L318.8 500.1 L318.6 501.7 L319.7 503.1 L320.0 504.6 L320.1 506.8 L321.6 507.9 L323.4 507.9 L325.0 507.9 L325.4 506.3 L326.6 505.7 L327.2 504.0 L329.0 503.5 L330.0 502.2 L331.5 501.6 L332.9 500.8 L333.6 499.8 L334.2 498.7 L335.7 498.6 L337.1 497.8 L338.6 497.2 L339.7 496.7 L340.2 495.3 L341.4 495.0 L342.2 493.8 L343.6 493.6 L344.6 495.0 L345.3 496.1 L344.4 497.6 L345.4 498.6 L345.5 500.5 L344.4 502.3 L344.9 504.3 L345.7 506.1 L345.5 508.1 L345.7 510.0 L347.1 510.5 L347.7 511.9 L348.6 512.9 L350.0 513.6 L351.2 514.6 L352.9 514.6 L354.7 514.8 L356.0 514.2 L357.2 512.9 L358.6 512.5 L358.9 511.0 L360.0 510.3 L361.2 509.9 L362.3 509.2 L363.6 509.5 L365.5 509.9 L366.5 511.5 L367.4 510.1 L368.6 508.9 L370.0 509.6 L371.5 510.3 L371.8 511.7 L372.0 513.1 L372.9 514.3 L373.3 515.9 L374.2 517.0 L375.5 517.9 L376.7 518.3 L377.9 518.6 L378.9 517.3 L379.3 515.8 L380.4 514.5 L380.3 513.0 L380.1 511.5 L381.5 511.0 L381.1 509.3 L382.2 508.6 L382.5 507.2 L383.8 506.4 L384.1 505.0 L383.5 503.7 L383.5 502.2 L383.6 500.8 L383.0 499.2 L381.5 498.6 L380.0 498.5 L378.6 497.9 L377.2 498.2 L375.8 498.6 L374.6 498.7 L373.6 497.9 L374.2 496.9 L374.3 495.7 L375.7 495.1 L377.2 494.6 L378.8 494.8 L380.1 494.0 L380.8 492.5 L382.0 491.7 L383.6 491.5 L384.9 490.9 L386.2 490.4 L387.2 489.3 L387.9 487.9 L388.9 486.9 L390.1 486.0 L391.3 485.0 L390.5 483.3 L391.5 482.2 L391.9 481.1 L393.1 480.3 L392.9 478.9 L394.3 478.7 L395.5 477.9 L396.5 478.9 L396.0 480.3 L396.7 481.4 L398.0 482.4 L397.2 484.5 L398.7 485.4 L399.5 486.5 L400.8 487.1 L401.5 488.3 L403.1 489.1 L404.4 490.3 L405.8 490.3 L407.0 490.5 L407.9 491.7 L409.1 492.3 L410.3 491.7 L411.5 491.5 L412.2 493.0 L413.7 493.6 L414.9 494.8 L413.7 496.6 L414.7 497.9 L414.9 499.4 L415.5 500.8 L416.2 499.4 L416.5 497.9 L416.4 496.2 L417.5 495.0 L418.4 494.3 L419.4 493.6 L420.8 494.2 L422.3 494.3 L423.5 495.4 L425.1 495.5 L426.5 494.7 L428.0 494.6 L429.2 494.3 L430.1 493.6 L431.5 492.9 L433.0 492.9 L434.3 493.6 L435.4 492.6 L436.6 492.6 L437.6 491.9 L438.7 491.5 L439.9 491.0 L440.8 490.0 L442.1 488.4 L442.3 486.5 L442.3 484.6 L443.3 483.9 L444.1 482.8 L445.6 482.9 L447.1 482.0 L447.6 480.1 L449.0 479.1 L449.7 477.4 L450.9 475.9 L451.4 474.1 L452.9 472.8 L452.7 470.6 L453.9 469.1 L455.4 468.1 L456.2 466.6 L456.4 464.9 L457.2 463.3 L457.3 461.6 L458.6 460.5 L460.2 460.1 L461.0 458.9 L461.0 457.3 L462.2 456.3 L463.0 454.5 L463.9 452.8 L465.2 451.3 L466.1 449.7 L467.3 448.4 L469.0 447.6 L470.2 446.3 L471.9 446.2 L472.7 445.0 L473.5 443.8 L474.0 439.1 L473.9 434.4 L473.7 429.7 L474.0 425.0 L473.5 422.4 L474.8 420.0 L474.3 417.4 L475.2 415.0 L474.0 415.0 L474.3 411.9 L474.1 408.8 L474.2 405.7 L475.2 402.7 L475.3 400.1 L476.7 397.8 L476.6 395.1 L477.7 392.7 L478.1 390.2 L479.6 387.9 L480.0 385.4 L479.7 382.7 L479.3 381.1 L479.2 379.6 L478.9 378.0 L479.0 376.4 L477.9 377.4 L476.6 377.6 L475.2 377.7 L473.6 378.6 L472.5 380.0 L472.0 382.0 L470.2 382.7 L468.9 384.3 L466.8 384.3 L465.2 385.2 L463.5 383.9 L462.7 382.3 L462.7 380.2 L463.5 377.7 L464.6 375.4 L464.4 372.6 L465.2 370.2 L465.2 367.6 L465.2 365.1 L465.5 362.5 L466.5 360.1 L465.4 357.1 L465.4 353.9 L465.6 350.7 L465.2 347.6 L466.1 344.5 L465.8 341.3 L466.2 338.2 L466.5 335.1 L466.8 331.9 L465.8 328.9 L465.4 325.7 L465.2 322.6 L465.1 319.4 L464.9 316.3 L466.0 313.2 L466.5 310.1 L466.5 306.9 L466.6 303.8 L467.1 300.6 L468.2 297.6 L467.9 294.4 L467.4 291.2 L465.8 288.3 L465.2 285.1 L464.5 281.9 L464.0 278.6 L462.3 275.7 L461.5 272.5 L460.9 269.9 L461.5 267.4 L462.9 265.1 L462.7 262.5 L461.0 260.7 L459.5 258.8 L456.8 258.1 L455.2 256.3 L454.5 258.1 L452.7 258.8 L451.1 259.7Z" fill="#fee9b6" stroke="#c4a15e" stroke-width="0.9"/>
<path d="M248.9 135.0 L250.0 134.2 L251.2 133.3 L252.6 133.0 L254.3 132.9 L255.9 132.4 L257.6 132.5 L259.3 132.4 L260.9 132.3 L262.6 132.5 L263.1 134.0 L264.6 134.2 L265.6 135.0 L266.0 136.4 L266.4 137.8 L267.6 138.8 L268.9 139.6 L269.7 141.1 L271.4 141.3 L272.7 140.8 L273.9 140.1 L274.2 141.4 L275.6 142.3 L275.1 143.8 L276.8 144.6 L278.1 146.2 L280.2 146.3 L281.9 147.0 L283.5 146.0 L285.2 146.3 L286.0 147.8 L287.7 148.0 L288.9 148.8 L288.6 150.7 L290.0 152.1 L290.2 153.8 L291.6 154.7 L292.6 156.1 L293.9 157.1 L295.7 157.7 L296.4 159.4 L297.7 160.6 L298.7 162.0 L300.4 162.5 L301.4 163.8 L302.9 164.6 L303.6 166.0 L303.9 167.6 L303.9 169.1 L303.5 170.6 L303.4 172.1 L302.4 173.2 L302.3 175.0 L300.7 175.6 L299.7 176.9 L300.5 178.8 L299.4 180.1 L298.7 181.7 L298.8 183.6 L297.7 185.1 L297.3 186.8 L296.9 188.5 L296.4 190.1 L296.4 191.9 L297.9 193.3 L297.7 195.1 L298.8 196.2 L299.5 197.5 L300.2 198.9 L301.8 199.1 L303.1 200.4 L304.9 199.6 L306.4 200.1 L307.8 201.3 L309.3 202.0 L310.8 202.8 L312.7 202.6 L313.7 204.0 L315.8 203.0 L317.2 203.7 L318.2 205.1 L319.4 206.8 L321.8 206.9 L322.7 208.9 L323.9 209.9 L324.0 211.4 L322.3 211.5 L322.0 213.3 L320.7 213.9 L320.3 215.4 L319.2 216.5 L318.2 217.6 L317.8 219.3 L317.7 221.1 L316.7 222.7 L317.7 224.5 L317.5 226.4 L317.3 228.3 L317.2 230.2 L316.6 232.0 L317.4 234.0 L317.1 235.9 L316.4 237.7 L316.8 239.7 L316.0 241.5 L314.8 243.2 L315.2 245.2 L314.0 246.7 L314.3 248.5 L313.9 250.2 L312.8 251.5 L311.8 253.0 L310.2 253.9 L308.3 254.5 L307.7 256.5 L306.4 257.7 L306.0 259.6 L305.1 261.2 L303.9 262.7 L302.7 264.2 L302.2 265.8 L302.7 267.7 L302.6 266.4 L302.7 265.0 L301.3 266.4 L299.7 267.4 L297.7 267.5 L296.4 269.0 L294.5 269.1 L292.7 269.5 L291.2 269.7 L290.4 271.2 L288.9 271.3 L287.9 272.6 L286.3 272.7 L285.2 273.8 L283.6 274.5 L281.6 274.2 L280.2 275.5 L278.6 276.4 L276.9 277.0 L275.1 277.0 L273.3 277.8 L271.5 278.3 L269.4 277.3 L267.6 278.0 L265.7 277.8 L263.9 278.5 L261.9 277.7 L260.1 278.8 L258.1 278.3 L256.5 280.1 L254.5 280.2 L252.6 280.0 L251.1 279.7 L250.3 281.3 L248.9 281.3 L247.5 281.1 L246.5 282.5 L245.1 282.1 L244.1 281.0 L242.7 280.9 L241.4 280.5 L242.0 281.7 L243.1 282.4 L242.1 281.1 L240.7 280.5 L239.0 280.8 L238.2 279.6 L237.0 278.8 L235.7 278.3 L235.3 276.9 L234.2 275.9 L233.2 274.9 L233.3 273.3 L231.4 272.4 L231.5 270.8 L231.4 269.4 L230.2 268.1 L230.7 266.6 L232.0 265.2 L231.0 263.2 L231.0 261.5 L232.2 260.1 L232.0 258.8 L230.9 257.8 L230.8 256.5 L229.1 256.8 L227.9 258.0 L226.2 257.5 L224.6 258.4 L224.6 256.8 L223.1 255.9 L222.9 254.4 L222.2 253.0 L222.9 251.5 L222.2 250.1 L222.4 248.8 L223.6 247.9 L223.6 246.5 L225.2 245.9 L226.5 244.7 L227.7 244.8 L229.0 244.6 L230.1 244.1 L231.3 244.2 L232.5 243.9 L233.7 243.7 L234.9 243.4 L236.0 242.7 L237.2 242.7 L236.5 241.2 L235.0 240.2 L233.2 240.5 L231.5 240.1 L229.8 240.0 L228.4 239.0 L227.2 237.9 L226.7 236.8 L225.7 235.8 L226.1 234.4 L225.0 233.1 L226.0 231.4 L225.1 230.1 L226.8 229.9 L227.9 228.6 L229.4 228.0 L230.1 226.5 L229.2 225.4 L229.8 224.1 L229.4 222.9 L230.1 221.3 L229.4 220.0 L228.7 218.6 L229.1 217.2 L228.9 215.7 L229.4 214.3 L230.0 212.9 L230.8 211.5 L230.6 210.3 L230.0 209.2 L230.1 207.9 L229.4 206.8 L228.1 206.5 L227.2 205.8 L226.3 204.5 L225.1 203.6 L224.1 203.0 L223.2 202.2 L222.2 201.5 L220.9 201.4 L219.9 202.3 L218.6 202.2 L217.2 201.6 L215.8 202.2 L214.9 200.9 L213.6 200.8 L212.2 200.8 L210.7 200.1 L211.0 198.3 L210.1 197.2 L210.3 195.2 L210.2 193.3 L209.3 191.5 L208.9 189.7 L208.6 187.9 L210.1 186.1 L209.3 184.3 L211.3 183.9 L213.3 184.4 L215.2 183.3 L217.2 183.6 L218.5 182.5 L219.7 181.5 L221.5 181.4 L221.5 179.4 L222.7 177.7 L222.9 175.7 L222.6 177.6 L222.1 175.1 L223.2 172.6 L223.1 170.1 L222.6 167.6 L222.7 165.6 L223.5 163.9 L225.1 162.6 L225.8 160.9 L227.6 160.7 L228.5 159.2 L230.1 158.8 L231.4 157.3 L233.4 157.3 L234.8 155.9 L236.4 155.1 L237.1 153.6 L236.7 151.9 L238.1 150.5 L237.6 148.8 L239.2 148.1 L238.5 145.8 L240.1 145.1 L242.2 144.0 L243.4 142.1 L244.9 140.4 L246.4 138.8 L246.5 137.1 L247.7 136.0 L248.9 135.0Z" fill="#ffa400" stroke="#e0971a" stroke-width="0.8"/>
<path d="M376.4 390.2 L378.0 389.2 L379.4 388.0 L381.4 387.7 L383.6 388.2 L385.8 387.9 L387.9 387.0 L390.1 387.2 L392.4 386.6 L394.4 388.3 L396.7 388.2 L398.9 388.2 L401.1 388.5 L402.6 389.7 L403.9 391.4 L403.8 393.6 L405.1 395.7 L404.1 398.0 L404.6 400.2 L404.4 402.1 L403.9 403.9 L403.9 405.8 L403.9 407.7 L403.0 409.2 L403.9 411.1 L402.6 412.5 L402.3 414.1 L401.1 415.2 L400.1 416.3 L398.4 416.6 L396.8 417.3 L395.1 417.5 L393.5 418.0 L391.8 418.4 L390.1 418.8 L388.8 419.7 L388.6 421.4 L387.6 422.5 L386.7 423.7 L386.5 425.4 L385.1 426.3 L384.4 428.0 L382.8 429.0 L381.4 430.1 L379.8 430.7 L378.0 430.8 L376.4 431.3 L375.5 429.9 L373.9 429.6 L372.6 428.8 L372.8 427.3 L371.9 426.2 L371.3 425.0 L372.6 424.6 L373.2 423.6 L373.8 422.5 L374.9 421.9 L375.0 420.3 L376.4 420.0 L375.6 418.9 L374.8 417.8 L375.1 416.3 L374.9 414.8 L376.6 414.0 L376.4 412.5 L377.6 411.5 L376.4 409.8 L377.6 408.8 L376.8 407.3 L374.6 407.9 L373.8 406.4 L373.9 404.2 L373.6 402.0 L373.7 399.8 L374.6 397.7 L374.9 395.8 L374.6 393.7 L376.5 392.2Z" fill="#fdcc77" stroke="#c4a15e" stroke-width="0.8"/>
<path d="M430.2 431.3 L431.1 430.0 L431.7 428.6 L432.7 427.3 L433.9 426.3 L435.5 425.8 L436.8 424.5 L438.9 425.8 L440.2 424.5 L442.0 423.7 L444.0 423.6 L446.0 423.6 L447.7 422.5 L449.8 422.4 L451.5 421.3 L453.2 420.1 L455.2 420.0 L457.6 418.8 L460.3 420.1 L462.7 419.0 L465.2 418.8 L467.6 418.9 L470.1 419.0 L472.3 417.6 L474.7 417.5 L475.4 419.5 L474.5 421.3 L473.4 423.1 L474.0 425.0 L473.7 429.7 L473.9 434.4 L474.0 439.1 L473.5 443.8 L472.7 445.0 L471.9 446.2 L470.2 446.3 L469.0 447.6 L467.3 448.4 L466.1 449.7 L465.2 451.3 L463.9 452.8 L463.0 454.5 L462.2 456.3 L461.0 457.3 L461.0 458.9 L460.2 460.1 L458.9 460.1 L457.7 460.1 L456.1 459.3 L454.5 458.6 L452.7 458.8 L451.4 457.2 L449.2 457.5 L447.7 456.3 L446.9 454.9 L445.8 453.8 L445.1 452.4 L443.9 451.3 L442.5 450.6 L441.5 449.4 L440.1 448.6 L438.9 447.6 L438.0 446.2 L436.0 446.2 L435.6 444.1 L433.9 443.8 L433.1 442.5 L432.3 441.1 L430.9 440.2 L430.2 438.8 L429.3 436.9 L429.7 435.1 L429.7 433.2Z" fill="#fdcc77" stroke="#c4a15e" stroke-width="0.8"/>
<path d="M457.3 461.6 L457.2 463.3 L456.4 464.9 L456.2 466.6 L455.4 468.1 L453.9 469.1 L452.7 470.6 L452.9 472.8 L451.4 474.1 L450.9 475.9 L449.7 477.4 L449.0 479.1 L447.6 480.1 L447.1 482.0 L445.6 482.9 L444.1 482.8 L443.3 483.9 L442.3 484.6 L442.3 486.5 L442.1 488.4 L440.8 490.0 L439.9 491.0 L438.7 491.5 L437.6 491.9 L436.6 492.6 L435.4 492.6 L434.3 493.6 L433.0 492.9 L431.5 492.9 L430.1 493.6 L429.2 494.3 L428.0 494.6 L426.5 494.7 L425.1 495.5 L423.5 495.4 L422.3 494.3 L420.8 494.2 L419.4 493.6 L418.4 494.3 L417.5 495.0 L416.4 494.2 L415.8 492.9 L414.5 491.8 L414.4 490.0 L414.5 488.3 L415.8 487.2 L417.0 486.8 L418.0 486.1 L418.7 485.0 L420.2 484.4 L421.9 484.3 L423.0 482.9 L424.0 481.4 L426.0 481.8 L427.3 480.7 L428.6 479.6 L430.6 479.6 L431.5 477.9 L432.6 476.8 L433.9 475.9 L435.1 475.0 L435.9 473.4 L438.0 473.1 L438.7 471.4 L439.2 468.5 L438.6 465.7 L438.1 462.9 L438.1 460.0 L439.5 459.5 L440.7 458.8 L441.5 457.5 L442.6 457.1 L443.5 456.2 L444.8 456.3 L446.2 455.6 L447.6 456.3 L449.0 456.0 L450.3 456.3 L451.8 455.7 L453.1 456.6 L453.9 458.1 L455.6 458.6 L455.9 460.4Z" fill="#fdcc77" stroke="#c4a15e" stroke-width="0.8"/>
<path d="M263.9 311.3 L265.6 311.3 L267.1 310.2 L268.9 310.6 L270.4 311.1 L271.8 312.1 L273.7 311.0 L275.1 312.1 L275.7 313.5 L276.9 314.4 L278.2 315.1 L278.3 316.9 L278.1 318.5 L277.2 320.1 L277.6 321.8 L277.7 323.6 L278.9 325.1 L278.2 326.7 L277.7 328.3 L277.7 330.1 L277.3 331.8 L276.2 333.3 L276.4 335.1 L275.9 336.6 L275.4 338.1 L273.9 338.9 L272.7 339.5 L271.1 338.9 L270.1 340.1 L269.2 339.3 L269.0 337.9 L267.6 337.6 L267.1 336.0 L267.7 334.2 L267.1 332.6 L268.3 331.1 L267.4 329.2 L268.1 327.6 L268.6 325.8 L267.9 324.2 L267.1 322.6 L266.6 320.9 L266.2 319.2 L265.6 317.6 L265.3 315.8 L263.9 314.6 L264.1 313.0Z" fill="#ffa400" stroke="#d9992c" stroke-width="0.8"/>
<path d="M230.8 211.5 L232.0 210.9 L233.5 211.2 L234.4 210.0 L235.5 208.8 L237.2 208.6 L237.5 206.7 L239.3 205.9 L240.1 204.3 L241.1 203.3 L241.4 201.9 L242.2 200.8 L243.0 199.7 L243.8 198.5 L244.4 197.2 L245.5 196.7 L246.6 196.2 L247.2 195.0 L248.6 194.7 L250.2 195.1 L251.5 194.3 L253.0 194.0 L254.4 193.6 L255.8 194.1 L257.3 194.3 L257.9 195.8 L258.7 197.2 L258.7 198.5 L258.7 199.7 L259.4 200.8 L260.1 201.9 L259.6 203.4 L260.8 204.3 L260.5 205.8 L262.3 206.5 L262.3 207.9 L262.3 209.4 L263.1 210.2 L264.4 210.8 L264.3 212.0 L265.5 213.0 L265.1 214.3 L264.1 215.1 L263.3 215.9 L263.0 217.2 L262.4 218.4 L260.9 218.3 L260.1 219.3 L258.5 219.7 L257.3 220.8 L255.7 220.9 L254.4 220.1 L253.1 221.1 L251.5 220.8 L250.4 221.1 L249.3 221.9 L248.0 221.5 L246.7 221.3 L245.6 222.2 L244.4 222.2 L243.2 221.1 L241.5 220.8 L240.4 220.3 L239.5 219.5 L238.7 218.6 L237.3 217.8 L235.8 217.2 L234.2 216.9 L232.9 215.8 L231.8 214.8 L230.8 213.6Z" fill="none" stroke="#d38e12" stroke-width="0.9"/>
<path d="M218.6 202.2 L219.9 202.3 L220.9 201.4 L222.2 201.5 L223.2 202.2 L224.1 203.0 L225.1 203.6 L226.3 204.5 L227.2 205.8 L228.1 206.5 L229.4 206.8 L230.1 207.9 L230.0 209.2 L230.6 210.3 L230.8 211.5 L230.0 212.9 L229.4 214.3 L228.9 215.7 L229.1 217.2 L228.7 218.6 L229.4 220.0 L230.1 221.3 L229.4 222.9 L229.8 224.1 L229.2 225.4 L230.1 226.5 L229.4 228.0 L227.9 228.6 L226.8 229.9 L225.1 230.1 L225.1 230.1 L223.5 230.3 L222.2 229.4 L220.8 229.2 L220.3 227.9 L219.4 227.2 L219.0 225.6 L217.9 224.4 L217.6 223.0 L217.3 221.6 L217.2 220.1 L216.7 218.6 L216.9 217.1 L217.9 215.8 L217.1 214.5 L217.5 212.9 L216.9 211.5 L216.3 210.0 L217.4 208.7 L217.2 207.2 L218.5 205.8 L218.0 203.8Z" fill="#fdcc77" stroke="#a0977f" stroke-width="0.8"/>
<path d="M302.7 265.0 L303.1 266.9 L303.8 268.6 L305.2 270.0 L306.0 271.6 L307.9 271.6 L308.8 273.1 L310.2 273.8 L311.2 275.3 L312.0 276.9 L313.9 277.5 L315.0 279.1 L314.7 281.3 L316.4 282.6 L317.3 283.9 L318.7 284.8 L319.3 286.3 L320.2 287.6 L320.3 289.4 L322.0 290.5 L322.4 292.1 L322.7 293.8 L323.3 295.4 L324.3 296.8 L325.4 298.2 L325.2 300.1 L326.3 301.4 L326.1 303.3 L326.7 304.9 L327.7 306.3 L328.2 307.8 L328.1 309.5 L328.0 311.2 L329.0 312.6 L327.4 313.5 L326.4 315.0 L325.2 316.3 L323.9 317.3 L323.9 319.4 L322.2 320.1 L322.2 322.0 L324.1 323.2 L324.0 325.1 L325.0 326.7 L325.3 328.6 L326.5 330.1 L327.8 331.5 L327.1 333.6 L328.2 335.1 L329.2 336.6 L328.8 338.4 L329.0 340.1 L329.0 341.7 L328.7 343.3 L328.4 344.8 L328.2 346.4 L328.2 348.3 L326.8 349.6 L326.5 351.4 L326.8 353.0 L327.4 354.4 L329.0 355.1 L330.3 356.6 L332.5 356.0 L334.0 357.1 L335.9 357.4 L337.3 358.9 L339.0 359.6 L340.2 360.4 L341.2 361.5 L342.2 362.6 L342.2 363.9 L342.1 365.2 L341.5 366.4 L340.5 367.6 L339.2 368.4 L337.7 368.9 L335.9 369.4 L334.8 370.6 L334.0 372.2 L332.5 373.2 L331.7 374.6 L331.5 376.4 L330.9 378.0 L330.8 379.8 L330.2 381.4" fill="none" stroke="#c4a15e" stroke-width="0.8" opacity="0.4"/>
<path d="M316.3 252.7 L318.0 252.4 L319.7 252.3 L320.7 250.2 L322.5 250.2 L324.2 249.1 L326.3 249.2 L328.2 248.7 L330.0 247.7 L331.0 246.2 L332.2 244.8 L333.8 243.9 L335.3 244.9 L337.1 245.0 L338.8 245.2 L340.1 246.7 L342.5 246.1 L343.8 247.7 L345.5 247.3 L346.9 246.3 L348.6 246.1 L350.1 245.2 L351.8 245.7 L353.2 244.7 L354.6 243.4 L356.3 243.9 L358.0 244.3 L359.3 245.1 L360.0 246.9 L361.3 247.7 L362.9 248.6 L363.8 250.2 L365.1 251.4 L365.8 253.1 L367.2 253.9 L368.5 254.8 L370.1 255.2 L371.3 256.7 L372.9 257.2 L375.0 256.6 L376.4 257.7 L378.1 258.1 L379.7 258.5 L380.8 260.1 L382.6 260.2 L384.5 261.2 L386.3 262.3 L388.4 262.6 L390.1 264.0 L391.3 264.9 L393.0 265.3 L393.3 267.5 L395.1 267.7 L396.9 267.7 L398.3 266.4 L400.1 266.3 L401.6 265.9 L402.5 267.7 L403.9 267.5" fill="none" stroke="#c4a15e" stroke-width="0.9"/>
<path d="M222.4 389.1 L223.8 389.1 L225.1 388.7 L226.5 389.1 L227.5 387.9 L228.2 386.6 L229.7 385.6 L231.5 385.7 L232.7 385.4 L233.6 384.3 L234.8 384.1 L235.5 383.1 L236.7 382.6 L237.3 381.6 L237.6 380.1 L239.1 379.1 L239.0 377.4 L238.7 375.7 L239.9 374.6 L240.6 373.3 L242.0 372.6 L243.3 372.0 L244.8 371.6 L246.2 372.0 L247.6 371.1 L249.0 371.3 L250.0 370.8 L251.2 372.0 L252.8 372.0 L254.3 372.2 L255.5 373.2 L257.0 374.0 L257.2 375.8 L257.7 377.3 L259.5 377.8 L260.0 379.3 L261.6 378.8 L262.8 380.2 L264.3 380.1 L265.4 378.7 L267.0 378.3 L268.6 377.9 L270.1 377.7 L271.4 376.9 L272.9 376.5 L274.1 375.2 L275.5 374.8 L277.2 375.1 L278.8 374.8 L280.0 373.6 L280.8 374.7 L281.1 376.0 L281.5 377.2 L282.0 378.6 L282.7 380.0 L282.9 381.5 L282.8 383.2 L284.2 384.0 L285.0 385.1 L286.1 385.8 L287.6 385.4 L288.6 386.5 L289.6 387.2 L290.2 388.4 L291.5 388.6 L293.0 388.5 L294.3 389.4 L295.6 388.5 L297.0 388.0 L298.6 387.9 L299.9 386.8 L301.6 388.3 L302.9 387.2 L303.5 386.0 L304.5 385.3 L305.8 385.1 L307.1 383.9 L307.2 382.2 L308.3 381.9 L309.4 381.5 L310.4 382.5 L311.3 383.6 L312.9 383.6 L314.3 383.7 L315.6 384.0 L316.5 385.1 L317.6 385.8 L318.7 386.4 L320.1 385.8 L321.6 386.0 L323.0 385.8 L324.4 385.1 L325.6 385.0 L326.9 385.0 L327.9 385.8" fill="none" stroke="#c4a15e" stroke-width="0.9"/>
<path d="M273.9 338.9 L273.6 340.7 L273.4 342.4 L272.5 344.0 L272.9 345.7 L272.5 347.6 L272.1 349.5 L272.2 351.5 L272.1 353.3 L273.1 354.8 L273.6 356.5 L273.9 358.1 L274.9 359.4 L275.7 360.8 L276.5 362.0 L278.1 362.2 L278.6 363.6 L279.4 365.0 L280.8 365.8 L282.0 364.9 L281.7 363.1 L282.9 362.2 L284.1 360.9 L285.8 360.8 L286.7 361.7 L288.2 362.1 L288.6 363.6 L290.1 364.2 L291.5 365.0 L292.3 363.9 L292.8 362.6 L294.3 362.2 L295.2 361.0 L297.1 361.5 L297.9 360.0 L299.2 359.9 L300.2 361.1 L301.5 360.8 L302.5 361.5 L303.1 362.5 L303.6 363.6 L304.3 362.0 L304.2 360.1 L305.1 358.6 L305.0 356.8 L306.0 355.5 L307.2 354.3 L308.0 352.7 L309.1 351.4 L310.1 350.0 L311.2 348.6 L311.7 346.6 L313.6 345.7 L314.5 344.4 L314.1 342.7 L315.1 341.4 L314.6 340.1 L314.3 338.6 L314.4 337.2 L313.1 336.0 L313.1 334.4 L312.9 332.9 L311.7 331.7 L311.8 330.0 L314.3 327.3 L317.6 325.4 L320.4 323.1 L322.7 320.1 L321.1 318.8 L320.7 316.9 L320.2 315.1 L318.8 313.8 L317.3 312.6 L315.2 312.6" fill="none" stroke="#c4a15e" stroke-width="0.9"/>
<path d="M303.6 363.6 L303.0 364.8 L304.0 366.0 L303.6 367.2 L303.1 368.8 L303.7 370.1 L304.4 371.5 L305.7 372.7 L305.0 374.5 L305.8 375.8 L306.8 376.8 L306.2 378.4 L307.2 379.3 L308.3 380.1 L308.6 381.5" fill="none" stroke="#c4a15e" stroke-width="0.9"/>
<path d="M198.8 456.3 L199.3 457.5 L199.8 458.8 L200.1 460.1 L200.8 461.7 L202.0 462.5 L203.8 462.6 L204.6 464.0 L205.8 465.0 L206.3 466.6 L207.6 467.6 L209.3 467.9 L211.1 467.5 L212.6 468.8 L214.0 467.8 L215.4 466.8 L217.0 466.2 L218.8 466.3 L220.6 465.2 L221.0 462.9 L223.0 462.0 L223.8 460.1 L224.0 457.8 L225.6 456.3 L227.3 454.8 L227.6 452.6 L228.4 451.0 L230.2 450.8 L230.8 449.0 L232.6 448.8 L234.2 448.9 L235.8 449.5 L237.3 448.6 L238.9 448.8 L240.7 449.4 L242.0 451.0 L243.9 451.3 L245.4 452.0 L247.0 452.5 L247.3 454.6 L248.9 455.1 L249.9 453.6 L251.2 452.4 L252.6 451.3 L253.0 453.2 L254.8 454.4 L255.1 456.3 L255.0 458.0 L255.7 459.5 L255.8 461.1 L256.4 462.6 L258.2 463.3 L259.5 464.4 L260.1 466.3 L261.7 466.6 L263.2 467.1 L264.9 467.1 L266.4 467.6 L267.8 466.6 L269.6 467.6 L271.1 466.9 L272.6 466.3 L274.3 466.7 L275.9 466.2 L277.4 465.9 L278.9 465.1 L280.7 464.4 L282.8 465.1 L284.4 463.3 L286.4 463.8 L288.0 462.9 L289.6 461.8 L291.4 461.3 L293.3 461.6 L294.5 463.5 L296.4 463.8 L297.1 465.4 L298.8 465.9 L300.5 466.2 L301.4 467.6 L302.0 469.5 L303.6 470.5 L305.2 471.4" fill="none" stroke="#c4a15e" stroke-width="0.9"/>
<path d="M327.5 400.0 L329.5 400.2 L330.2 402.6 L331.8 403.5 L333.8 403.8 L335.4 404.3 L336.7 405.8 L338.3 406.2 L340.1 406.3 L341.9 406.3 L342.9 408.2 L344.6 408.4 L346.3 408.8 L348.0 409.6 L349.3 411.2 L351.3 411.3 L352.3 412.8 L353.3 414.3 L355.1 415.0 L354.5 416.7 L355.5 418.2 L356.6 419.6 L356.3 421.3 L356.3 423.0 L355.0 424.5 L355.6 426.3 L356.8 427.7 L358.3 428.3 L360.1 428.1 L361.9 427.6 L363.5 428.3 L365.1 428.8 L367.0 428.3 L368.6 428.9 L370.1 430.1 L371.2 430.9 L372.8 430.1 L373.8 431.3" fill="none" stroke="#c4a15e" stroke-width="0.9"/>
<path d="M387.6 422.5 L387.9 424.1 L389.1 425.5 L388.5 427.2 L388.9 428.8 L389.3 430.3 L390.8 431.2 L391.4 432.6 L393.2 432.6 L394.9 432.8 L396.4 433.8 L397.9 434.9 L399.9 433.9 L401.4 435.1 L403.1 435.4 L404.8 435.4 L406.4 436.3 L408.0 435.4 L409.7 434.5 L411.4 433.8 L412.9 432.6 L414.7 432.1 L416.4 431.3 L417.8 430.7 L418.9 429.6 L420.2 428.8 L421.7 429.8 L423.3 430.4 L425.2 430.1 L426.3 430.9 L427.7 430.8 L428.9 431.3 L430.0 430.3 L431.0 429.1 L431.4 427.6" fill="none" stroke="#c4a15e" stroke-width="0.9"/>
<path d="M225.1 460.1 L227.0 459.7 L228.8 459.1 L230.1 457.6 L231.6 458.1 L233.3 457.5 L234.8 457.8 L236.4 458.1 L238.0 458.8 L239.7 459.5 L241.4 460.1 L242.7 461.6 L244.8 461.5 L246.4 462.6 L247.7 464.1 L248.8 465.6 L248.9 467.6 L247.8 469.1 L248.4 471.0 L247.6 472.6 L248.7 474.0 L248.5 475.7 L249.0 477.2 L248.9 478.9 L248.8 480.7 L249.4 482.3 L250.7 483.6 L251.4 485.1 L252.4 486.6 L251.3 488.7 L252.6 490.1 L252.5 491.8 L250.3 492.2 L250.1 493.9 L249.1 494.9 L247.7 495.2 L246.4 495.6 L244.7 495.6 L243.2 496.1 L241.8 497.2 L240.1 497.1 L238.2 496.4 L236.3 496.9 L234.5 497.2 L232.6 497.6 L230.8 496.5 L228.8 497.6 L227.0 496.7 L225.1 496.4 L224.4 494.8 L223.1 493.9 L221.7 493.1 L220.1 492.6 L219.6 491.0 L218.3 489.7 L218.9 487.7 L217.6 486.4 L217.3 484.4 L218.0 482.6 L217.6 480.6 L218.8 478.9 L219.2 477.0 L219.8 475.1 L221.4 473.5 L221.3 471.4 L222.1 469.9 L222.2 468.3 L223.2 466.9 L222.6 465.1 L224.1 463.8 L224.2 461.7Z" fill="none" stroke="#c4a15e" stroke-width="0.9"/>
<path d="M193.6 537.2 L194.7 536.4 L195.8 535.6 L197.2 535.4 L198.7 535.3 L200.0 536.5 L201.5 536.4 L202.6 537.4 L203.6 538.3 L205.1 538.6 L205.7 539.9 L207.1 540.7 L207.5 542.2 L207.0 543.3 L207.4 544.6 L206.7 545.7 L205.4 546.2 L204.4 547.0 L203.6 548.0 L202.4 547.8 L201.3 548.8 L200.1 548.6 L198.9 548.1 L197.5 548.2 L196.5 547.2 L195.8 546.2 L195.0 545.4 L194.4 544.3 L193.9 543.1 L193.8 541.7 L192.9 540.7 L193.1 539.5 L193.3 538.3Z" fill="#ffffff" stroke="#a0977f" stroke-width="0.8"/>
<path d="M189.3 532.9 L190.6 531.8 L192.2 531.1 L193.8 531.2 L195.1 532.1 L195.1 533.6 L194.4 535.0 L192.9 535.4 L191.5 536.0 L190.4 535.6 L189.3 535.0Z" fill="#ffffff" stroke="#a0977f" stroke-width="0.8"/>
<path d="M195.7 319.8 L196.8 319.2 L198.0 318.9 L199.1 318.5 L200.3 319.3 L201.5 319.4 L202.9 319.2 L204.2 320.2 L205.2 321.5 L205.2 323.1 L205.8 324.4 L206.6 325.7 L206.3 327.7 L207.5 329.5 L207.2 331.5 L207.2 333.0 L206.4 334.2 L205.9 335.6 L205.8 336.9 L204.6 337.7 L204.6 339.0 L203.9 337.7 L202.9 336.5 L202.5 335.1 L202.3 333.6 L201.6 332.3 L200.6 330.8 L200.7 328.9 L199.9 327.3 L199.4 325.9 L198.5 324.6 L197.9 323.2 L197.1 322.1 L196.1 321.2Z" fill="#ffffff" stroke="#a0977f" stroke-width="0.8"/>
<path d="M248.9 135.0 L249.5 133.7 L250.1 132.5 L251.4 131.1 L252.9 130.1 L254.6 129.3 L256.4 128.8 L257.5 127.6 L259.3 127.4 L260.1 125.8 L261.4 125.0 L263.3 124.7 L264.5 123.1 L265.8 121.9 L267.6 121.3 L269.3 121.0 L270.9 121.4 L272.6 121.3 L275.1 121.0 L277.7 120.9 L280.2 120.7 L282.7 120.0 L284.6 120.0 L286.4 121.1 L288.3 121.1 L290.2 120.5 L292.8 119.9 L295.2 120.5 L297.7 121.2 L300.2 121.3 L302.7 120.8 L305.2 121.3 L307.7 121.0 L310.2 120.5 L310.0 120.8 L311.5 120.9 L312.8 120.1 L314.3 120.1 L315.4 121.4 L317.2 121.1 L318.6 121.5 L319.9 122.9 L321.9 123.4 L322.9 125.1 L324.8 125.2 L325.9 123.8 L327.2 122.9 L329.1 123.5 L331.0 123.7 L332.9 123.6 L334.4 123.8 L335.5 125.3 L337.2 125.1 L338.6 124.7 L340.0 124.2 L340.8 122.9 L342.5 122.3 L344.0 121.3 L345.8 120.8 L347.7 120.9 L349.6 120.2 L351.5 120.1 L351.8 118.5 L352.9 117.2 L354.1 116.0 L355.4 115.1 L357.2 115.1 L358.6 114.3 L360.0 112.6 L360.3 110.7 L360.1 108.6 L361.4 107.5 L361.3 105.4 L362.2 104.0 L363.6 102.9 L363.9 101.1 L363.1 99.2 L363.6 97.4 L364.4 95.7 L364.7 93.8 L363.3 91.9 L364.1 90.0 L364.5 88.4 L365.8 87.4 L366.8 88.2 L367.9 88.6 L368.6 90.3 L369.4 92.0 L370.9 93.2 L371.5 95.0 L373.3 98.2 L375.2 101.4 L375.7 105.2 L377.2 108.6 L379.3 112.4 L380.9 116.5 L382.8 120.4 L384.4 124.4 L385.3 127.3 L387.2 129.8 L387.4 133.0 L388.7 135.8 L389.9 139.0 L392.7 141.2 L394.2 144.2 L395.8 147.2 L398.6 152.8 L401.9 158.1 L405.9 163.1 L408.7 168.7 L407.6 167.6 L409.8 171.6 L413.4 174.6 L415.0 179.0 L417.7 182.6 L419.9 186.6 L422.0 190.6 L424.5 194.3 L427.7 197.6 L429.1 199.2 L428.7 201.3 L428.4 203.4 L429.7 205.1 L430.9 207.1 L432.9 208.5 L433.8 210.7 L435.2 212.6 L436.7 214.3 L438.4 215.9 L439.0 218.2 L440.2 220.1 L442.7 222.5 L443.2 226.2 L445.2 229.0 L447.7 231.4 L449.7 232.4 L450.7 234.2 L451.7 236.0 L452.7 237.7 L452.6 239.7 L455.0 240.4 L454.9 242.4 L455.7 243.9 L456.4 245.7 L455.2 247.7 L455.9 249.6 L456.4 251.4 L458.2 252.5 L460.1 254.6 L460.6 257.4 L461.7 259.9 L462.7 262.5 L462.9 265.1 L461.5 267.4 L460.9 269.9 L461.5 272.5 L462.3 275.7 L464.0 278.6 L464.5 281.9 L465.2 285.1 L465.8 288.3 L467.4 291.2 L467.9 294.4 L468.2 297.6 L467.1 300.6 L466.6 303.8 L466.5 306.9 L466.5 310.1 L466.0 313.2 L464.9 316.3 L465.1 319.4 L465.2 322.6 L465.4 325.7 L465.8 328.9 L466.8 331.9 L466.5 335.1 L466.2 338.2 L465.8 341.3 L466.1 344.5 L465.2 347.6 L465.6 350.7 L465.4 353.9 L465.4 357.1 L466.5 360.1 L465.5 362.5 L465.2 365.1 L465.2 367.6 L465.2 370.2 L464.4 372.6 L464.6 375.4 L463.5 377.7 L462.7 380.2 L462.7 382.3 L463.5 383.9 L465.2 385.2 L466.8 384.3 L468.9 384.3 L470.2 382.7 L472.0 382.0 L472.5 380.0 L473.6 378.6 L475.2 377.7 L476.6 377.6 L477.9 377.4 L479.0 376.4 L478.9 378.0 L479.2 379.6 L479.3 381.1 L479.7 382.7 L480.0 385.4 L479.6 387.9 L478.1 390.2 L477.7 392.7 L476.6 395.1 L476.7 397.8 L475.3 400.1 L475.2 402.7 L474.2 405.7 L474.1 408.8 L474.3 411.9 L474.0 415.0 L475.2 415.0 L474.3 417.4 L474.8 420.0 L473.5 422.4 L474.0 425.0 L473.7 429.7 L473.9 434.4 L474.0 439.1 L473.5 443.8 L472.7 445.0 L471.9 446.2 L470.2 446.3 L469.0 447.6 L467.3 448.4 L466.1 449.7 L465.2 451.3 L463.9 452.8 L463.0 454.5 L462.2 456.3 L461.0 457.3 L461.0 458.9 L460.2 460.1 L458.6 460.5 L457.3 461.6 L457.2 463.3 L456.4 464.9 L456.2 466.6 L455.4 468.1 L453.9 469.1 L452.7 470.6 L452.9 472.8 L451.4 474.1 L450.9 475.9 L449.7 477.4 L449.0 479.1 L447.6 480.1 L447.1 482.0 L445.6 482.9 L444.1 482.8 L443.3 483.9 L442.3 484.6 L442.3 486.5 L442.1 488.4 L440.8 490.0 L439.9 491.0 L438.7 491.5 L437.6 491.9 L436.6 492.6 L435.4 492.6 L434.3 493.6 L433.0 492.9 L431.5 492.9 L430.1 493.6 L429.2 494.3 L428.0 494.6 L426.5 494.7 L425.1 495.5 L423.5 495.4 L422.3 494.3 L420.8 494.2 L419.4 493.6 L418.4 494.3 L417.5 495.0 L416.4 496.2 L416.5 497.9 L416.2 499.4 L415.5 500.8 L414.9 499.4 L414.7 497.9 L413.7 496.6 L414.9 494.8 L413.7 493.6 L412.2 493.0 L411.5 491.5 L410.3 491.7 L409.1 492.3 L407.9 491.7 L407.0 490.5 L405.8 490.3 L404.4 490.3 L403.1 489.1 L401.5 488.3 L400.8 487.1 L399.5 486.5 L398.7 485.4 L397.2 484.5 L398.0 482.4 L396.7 481.4 L396.0 480.3 L396.5 478.9 L395.5 477.9 L394.3 478.7 L392.9 478.9 L393.1 480.3 L391.9 481.1 L391.5 482.2 L390.5 483.3 L391.3 485.0 L390.1 486.0 L388.9 486.9 L387.9 487.9 L387.2 489.3 L386.2 490.4 L384.9 490.9 L383.6 491.5 L382.0 491.7 L380.8 492.5 L380.1 494.0 L378.8 494.8 L377.2 494.6 L375.7 495.1 L374.3 495.7 L374.2 496.9 L373.6 497.9 L374.6 498.7 L375.8 498.6 L377.2 498.2 L378.6 497.9 L380.0 498.5 L381.5 498.6 L383.0 499.2 L383.6 500.8 L383.5 502.2 L383.5 503.7 L384.1 505.0 L383.8 506.4 L382.5 507.2 L382.2 508.6 L381.1 509.3 L381.5 511.0 L380.1 511.5 L380.3 513.0 L380.4 514.5 L379.3 515.8 L378.9 517.3 L377.9 518.6 L376.7 518.3 L375.5 517.9 L374.2 517.0 L373.3 515.9 L372.9 514.3 L372.0 513.1 L371.8 511.7 L371.5 510.3 L370.0 509.6 L368.6 508.9 L367.4 510.1 L366.5 511.5 L365.5 509.9 L363.6 509.5 L362.3 509.2 L361.2 509.9 L360.0 510.3 L358.9 511.0 L358.6 512.5 L357.2 512.9 L356.0 514.2 L354.7 514.8 L352.9 514.6 L351.2 514.6 L350.0 513.6 L348.6 512.9 L347.7 511.9 L347.1 510.5 L345.7 510.0 L345.5 508.1 L345.7 506.1 L344.9 504.3 L344.4 502.3 L345.5 500.5 L345.4 498.6 L344.4 497.6 L345.3 496.1 L344.6 495.0 L343.6 493.6 L342.2 493.8 L341.4 495.0 L340.2 495.3 L339.7 496.7 L338.6 497.2 L337.1 497.8 L335.7 498.6 L334.2 498.7 L333.6 499.8 L332.9 500.8 L331.5 501.6 L330.0 502.2 L329.0 503.5 L327.2 504.0 L326.6 505.7 L325.4 506.3 L325.0 507.9 L323.4 507.9 L321.6 507.9 L320.1 506.8 L319.4 507.9 L318.4 508.7 L317.1 509.2 L316.0 510.0 L315.0 510.8 L313.7 511.3 L312.4 511.7 L312.1 513.3 L310.7 513.5 L309.7 512.6 L308.3 513.0 L307.3 512.2 L306.1 513.5 L304.3 513.5 L303.3 514.8 L303.4 516.5 L304.5 517.6 L305.2 518.9 L306.4 519.9 L308.1 520.2 L309.0 521.9 L310.7 522.1 L312.1 521.7 L313.8 522.1 L315.0 520.8 L316.4 521.6 L318.0 522.1 L317.7 523.7 L318.3 525.1 L319.3 526.3 L318.1 527.8 L318.0 529.7 L318.0 531.5 L317.4 532.7 L317.3 534.2 L315.9 534.9 L314.7 533.7 L313.0 534.2 L311.6 533.6 L310.0 534.4 L309.4 536.2 L310.0 537.9 L309.4 539.7 L309.4 541.4 L308.9 542.9 L308.3 544.4 L307.3 545.6 L305.8 545.1 L304.3 544.4 L304.3 542.3 L303.2 540.6 L302.1 539.0 L301.0 537.6 L301.5 535.8 L301.7 534.1 L300.8 532.6 L301.3 530.9 L300.1 529.4 L299.5 527.8 L300.0 526.1 L299.0 524.5 L299.1 522.6 L298.7 520.8 L298.6 519.3 L297.4 518.7 L296.5 517.8 L295.0 518.4 L294.4 519.9 L293.9 521.4 L292.6 522.1 L291.4 522.9 L290.4 523.8 L289.2 523.8 L288.0 524.0 L286.4 523.7 L285.0 522.9 L284.3 524.3 L284.9 525.9 L284.1 527.2 L284.7 528.9 L284.8 530.8 L285.0 532.6 L286.2 533.8 L285.7 535.8 L287.1 536.9 L287.4 538.6 L288.5 539.6 L290.1 540.1 L291.8 540.7 L292.0 542.7 L293.5 543.5 L294.0 545.0 L295.3 546.2 L295.7 547.8 L294.5 549.0 L294.4 550.5 L294.4 552.1 L293.9 553.6 L293.2 555.1 L292.3 556.4 L290.6 557.3 L290.3 559.3 L289.2 560.7 L287.9 561.6 L286.9 562.7 L285.8 563.7 L284.6 563.3 L283.1 563.8 L282.0 562.8 L281.1 561.3 L279.5 560.6 L278.3 559.4 L276.6 559.2 L275.1 558.7 L274.0 557.2 L272.3 557.7 L270.6 558.6 L268.7 558.5 L267.2 558.8 L266.1 560.1 L264.4 559.8 L263.2 558.9 L261.8 558.3 L262.5 557.0 L261.7 555.4 L262.6 554.2 L263.1 552.7 L264.7 552.1 L265.4 550.8 L265.9 549.1 L268.0 549.1 L268.7 547.6 L270.1 546.8 L271.3 545.9 L271.9 544.4 L272.3 543.1 L273.2 542.0 L274.2 541.1 L274.7 539.8 L275.9 538.8 L276.4 537.5 L276.7 535.9 L275.4 534.7 L275.5 533.2 L274.1 532.4 L272.9 531.5 L271.6 531.8 L270.8 532.8 L269.9 533.6 L268.5 534.5 L267.9 536.2 L266.5 537.1 L265.2 538.3 L264.0 539.7 L262.2 540.1 L260.3 540.1 L259.0 541.2 L257.9 542.6 L256.1 543.0 L255.4 545.0 L253.6 545.4 L252.0 545.9 L251.7 547.7 L250.6 548.7 L249.4 550.3 L249.3 552.1 L249.3 554.0 L248.9 555.8 L248.8 557.6 L248.5 559.4 L248.1 560.9 L246.9 562.1 L246.8 563.7 L245.5 564.1 L244.7 565.1 L244.0 566.2 L242.6 566.9 L241.2 567.6 L239.7 568.0 L238.4 567.1 L237.0 566.7 L235.4 566.9 L234.1 565.8 L234.4 563.8 L233.3 562.6 L233.8 560.7 L233.3 558.8 L232.2 557.0 L232.8 555.1 L232.7 553.2 L233.0 551.3 L231.7 549.5 L232.2 547.6 L231.7 549.5 L231.1 551.3 L232.5 553.3 L231.8 555.1 L231.8 557.0 L231.1 558.8 L232.4 560.8 L231.3 562.6 L231.1 564.5 L230.6 566.2 L230.0 568.0 L229.3 569.4 L228.5 570.7 L226.8 571.2 L225.1 571.0 L223.9 572.2 L222.5 572.7 L221.0 573.0 L219.9 572.1 L218.9 571.2 L218.1 572.1 L217.5 573.2 L216.1 573.3 L215.2 574.6 L214.3 575.9 L214.6 577.6 L213.3 579.2 L214.7 581.4 L213.3 583.0 L212.3 584.0 L211.3 585.1 L209.7 585.1 L209.5 583.7 L209.9 582.3 L208.6 581.2 L208.2 579.7 L208.2 578.1 L207.4 576.8 L207.4 575.2 L206.5 574.0 L205.9 572.4 L205.9 570.5 L204.9 569.0 L203.6 567.6 L203.1 565.9 L203.2 564.0 L203.2 562.1 L202.3 560.6 L201.5 559.0 L201.4 557.3 L199.6 557.0 L199.0 555.7 L198.0 554.3 L196.7 553.4 L194.9 553.2 L193.7 552.1 L192.4 551.3 L190.7 551.5 L189.5 551.2 L188.2 551.4 L188.1 549.7 L187.2 548.7 L185.7 548.1 L184.9 546.5 L184.6 544.8 L184.1 543.1 L184.8 541.5 L184.5 539.7 L184.9 538.1 L185.2 536.4 L186.6 535.3 L187.4 533.9 L188.0 532.6 L188.9 531.6 L189.9 530.6 L190.7 529.3 L190.9 527.8 L191.6 526.5 L192.3 525.2 L193.3 524.2 L194.1 523.1 L195.0 522.0 L195.9 521.0 L196.6 519.8 L196.5 518.1 L196.9 516.4 L197.4 514.8 L197.0 513.1 L196.3 511.6 L196.6 509.8 L196.9 508.0 L196.5 506.4 L195.7 504.8 L196.7 503.6 L196.6 502.1 L196.6 500.7 L197.5 499.6 L198.3 498.6 L199.0 497.4 L198.4 495.8 L200.1 494.7 L199.9 493.2 L199.8 491.2 L198.5 489.7 L197.4 488.2 L196.2 487.4 L195.4 486.3 L194.9 484.9 L194.0 483.4 L194.1 481.6 L192.7 481.6 L191.9 480.3 L190.7 479.9 L189.9 479.1 L189.5 477.8 L188.2 477.4 L189.1 476.5 L189.8 475.4 L189.9 474.1 L191.4 473.4 L192.7 472.5 L193.2 470.8 L194.7 469.8 L194.4 467.7 L195.7 466.6 L197.1 465.2 L196.8 463.2 L197.4 461.6 L196.4 462.9 L196.7 464.6 L196.2 466.1 L197.5 464.8 L196.4 462.8 L197.4 461.4 L198.0 459.8 L198.2 458.1 L198.6 456.4 L199.2 455.1 L198.8 453.5 L199.9 452.3 L201.0 451.1 L200.8 449.4 L201.6 448.1 L202.9 447.4 L203.1 445.7 L204.1 444.8 L205.8 445.0 L206.7 443.4 L208.2 443.1 L209.8 442.2 L211.6 443.0 L213.2 442.3 L214.9 442.1 L216.4 440.9 L218.2 441.4 L219.3 440.7 L220.6 440.7 L221.9 440.6 L221.9 439.3 L221.5 438.1 L219.7 438.4 L218.2 437.3 L216.5 437.1 L214.9 438.0 L213.2 437.3 L211.7 436.2 L210.0 436.1 L208.2 436.5 L206.7 436.5 L205.8 435.3 L204.6 434.8 L203.7 433.3 L203.6 431.5 L203.7 430.2 L203.9 429.0 L204.9 428.1 L206.5 428.0 L207.1 426.5 L208.2 425.7 L208.8 424.3 L210.6 424.3 L211.5 423.2 L212.4 422.1 L213.5 421.2 L214.9 420.7 L216.5 420.1 L217.3 418.9 L217.4 417.3 L218.1 415.7 L218.2 414.0 L219.3 413.0 L220.7 412.4 L221.4 411.4 L221.9 410.2 L223.2 409.9 L223.6 408.4 L222.4 407.1 L222.4 405.7 L222.3 403.9 L221.5 402.4 L219.9 401.5 L219.3 399.9 L217.9 399.4 L216.5 399.0 L215.9 397.4 L215.7 395.7 L214.3 396.3 L212.9 395.1 L211.5 395.7 L209.7 395.9 L208.2 394.9 L209.0 392.9 L210.7 393.3 L212.0 392.8 L213.2 391.6 L214.7 390.6 L216.6 391.6 L218.2 390.7 L219.9 391.1 L221.1 390.0 L222.4 389.1 L222.4 387.7 L220.8 387.1 L220.7 385.7 L219.9 384.4 L219.9 382.8 L219.0 381.6 L218.6 380.2 L217.6 378.9 L217.4 377.4 L216.3 376.2 L215.2 375.0 L214.9 373.3 L215.0 371.6 L213.0 370.8 L213.2 369.1 L213.0 367.6 L213.9 366.4 L214.0 365.0 L213.9 363.0 L212.5 361.6 L211.5 360.0 L210.1 358.6 L209.3 356.9 L209.0 355.0 L209.4 353.2 L207.9 351.8 L208.2 350.0 L208.7 348.7 L209.9 348.1 L209.1 347.1 L208.3 346.1 L208.2 344.8 L207.3 343.7 L207.0 342.2 L205.7 341.4 L205.0 339.8 L204.9 338.1 L205.0 336.8 L206.1 335.9 L206.6 334.8 L207.3 333.8 L207.4 332.5 L208.2 331.5 L208.6 330.0 L208.6 328.5 L207.4 327.3 L206.3 326.1 L207.1 324.5 L206.6 323.2 L206.5 321.8 L205.6 320.9 L204.9 319.8 L203.4 319.4 L202.4 318.2 L201.0 317.8 L199.5 318.3 L198.2 317.3 L196.6 316.6 L195.1 315.9 L193.3 316.5 L192.3 315.6 L191.1 315.1 L189.9 314.8 L190.3 313.3 L189.8 312.0 L189.1 310.7 L189.2 309.3 L187.2 308.9 L187.4 307.4 L186.2 306.7 L184.9 306.5 L184.1 307.7 L182.9 307.9 L181.6 308.2 L179.5 308.2 L178.0 309.3 L176.6 310.7 L175.0 309.9 L176.0 308.9 L177.5 309.0 L178.1 307.5 L180.2 307.9 L180.8 306.5 L179.6 305.9 L178.3 305.7 L177.4 304.8 L175.7 305.3 L175.0 304.0 L174.3 302.4 L174.1 300.7 L175.3 300.2 L176.3 299.5 L176.6 298.2 L177.2 296.9 L179.0 296.5 L179.1 294.9 L180.4 294.0 L181.6 293.0 L182.4 291.6 L184.0 291.3 L184.9 289.9 L185.6 288.5 L186.6 287.4 L187.1 288.6 L187.4 289.9 L187.2 291.4 L188.1 292.3 L189.1 293.2 L190.4 293.5 L191.6 294.1 L192.5 293.0 L193.4 291.9 L194.9 291.6 L195.9 290.3 L196.0 288.4 L197.4 287.4 L198.6 286.3 L198.9 284.5 L199.9 283.3 L199.1 281.7 L199.1 279.9 L198.3 278.6 L196.8 278.2 L195.7 277.4 L194.9 276.2 L193.2 277.0 L192.4 275.8 L193.2 274.7 L193.3 273.3 L194.5 272.2 L196.2 273.3 L197.4 272.4 L198.8 272.1 L200.1 271.5 L201.6 271.6 L202.5 270.3 L203.2 268.8 L204.9 268.3 L205.7 267.1 L206.9 266.9 L208.2 266.6 L210.2 266.4 L211.6 267.7 L213.2 268.6 L215.1 268.8 L216.4 270.4 L218.2 270.8 L219.7 272.0 L221.6 272.3 L223.2 273.3 L224.9 274.1 L226.2 275.7 L228.2 275.8 L229.3 276.6 L230.3 277.6 L231.5 278.3 L231.8 279.5 L233.2 280.2 L233.2 281.6 L233.8 282.8 L234.9 283.7 L234.8 285.2 L236.2 285.5 L236.8 287.0 L238.1 287.4 L239.4 286.5 L241.1 286.8 L242.3 285.7 L242.9 284.6 L243.1 283.3 L243.1 282.4 L242.1 281.1 L240.7 280.5 L239.0 280.8 L238.2 279.6 L237.0 278.8 L235.7 278.3 L235.3 276.9 L234.2 275.9 L233.2 274.9 L233.3 273.3 L231.4 272.4 L231.5 270.8 L231.4 269.4 L230.2 268.1 L230.7 266.6 L232.0 265.2 L231.0 263.2 L231.0 261.5 L232.2 260.1 L232.0 258.8 L230.9 257.8 L230.8 256.5 L229.1 256.8 L227.9 258.0 L226.2 257.5 L224.6 258.4 L224.6 256.8 L223.1 255.9 L222.9 254.4 L222.2 253.0 L222.9 251.5 L222.2 250.1 L222.4 248.8 L223.6 247.9 L223.6 246.5 L225.2 245.9 L226.5 244.7 L227.7 244.8 L229.0 244.6 L230.1 244.1 L231.3 244.2 L232.5 243.9 L233.7 243.7 L234.9 243.4 L236.0 242.7 L237.2 242.7 L236.5 241.2 L235.0 240.2 L233.2 240.5 L231.5 240.1 L229.8 240.0 L228.4 239.0 L227.2 237.9 L226.7 236.8 L225.7 235.8 L226.1 234.4 L225.0 233.1 L226.0 231.4 L225.1 230.1 L223.5 230.3 L222.2 229.4 L220.8 229.2 L220.3 227.9 L219.4 227.2 L219.0 225.6 L217.9 224.4 L217.6 223.0 L217.3 221.6 L217.2 220.1 L216.7 218.6 L216.9 217.1 L217.9 215.8 L217.1 214.5 L217.5 212.9 L216.9 211.5 L216.3 210.0 L217.4 208.7 L217.2 207.2 L218.5 205.8 L218.0 203.8 L218.6 202.2 L217.2 201.6 L215.8 202.2 L214.9 200.9 L213.6 200.8 L212.2 200.8 L210.7 200.1 L211.0 198.3 L210.1 197.2 L210.3 195.2 L210.2 193.3 L209.3 191.5 L208.9 189.7 L208.6 187.9 L210.1 186.1 L209.3 184.3 L211.3 183.9 L213.3 184.4 L215.2 183.3 L217.2 183.6 L218.5 182.5 L219.7 181.5 L221.5 181.4 L221.5 179.4 L222.7 177.7 L222.9 175.7 L222.6 177.6 L222.1 175.1 L223.2 172.6 L223.1 170.1 L222.6 167.6 L222.7 165.6 L223.5 163.9 L225.1 162.6 L225.8 160.9 L227.6 160.7 L228.5 159.2 L230.1 158.8 L231.4 157.3 L233.4 157.3 L234.8 155.9 L236.4 155.1 L237.1 153.6 L236.7 151.9 L238.1 150.5 L237.6 148.8 L239.2 148.1 L238.5 145.8 L240.1 145.1 L242.2 144.0 L243.4 142.1 L244.9 140.4 L246.4 138.8 L246.5 137.1 L247.7 136.0 L248.9 135.0Z" fill="none" stroke="#a0977f" stroke-width="0.9"/>
<path d="M248.9 135.0 L249.5 133.7 L250.1 132.5 L251.4 131.1 L252.9 130.1 L254.6 129.3 L256.4 128.8 L257.5 127.6 L259.3 127.4 L260.1 125.8 L261.4 125.0 L263.3 124.7 L264.5 123.1 L265.8 121.9 L267.6 121.3 L269.3 121.0 L270.9 121.4 L272.6 121.3 L275.1 121.0 L277.7 120.9 L280.2 120.7 L282.7 120.0 L284.6 120.0 L286.4 121.1 L288.3 121.1 L290.2 120.5 L292.8 119.9 L295.2 120.5 L297.7 121.2 L300.2 121.3 L302.7 120.8 L305.2 121.3 L307.7 121.0 L310.2 120.5 L310.0 120.8 L311.5 120.9 L312.8 120.1 L314.3 120.1 L315.4 121.4 L317.2 121.1 L318.6 121.5 L319.9 122.9 L321.9 123.4 L322.9 125.1 L324.8 125.2 L325.9 123.8 L327.2 122.9 L329.1 123.5 L331.0 123.7 L332.9 123.6 L334.4 123.8 L335.5 125.3 L337.2 125.1 L338.6 124.7 L340.0 124.2 L340.8 122.9 L342.5 122.3 L344.0 121.3 L345.8 120.8 L347.7 120.9 L349.6 120.2 L351.5 120.1 L351.8 118.5 L352.9 117.2 L354.1 116.0 L355.4 115.1 L357.2 115.1 L358.6 114.3 L360.0 112.6 L360.3 110.7 L360.1 108.6 L361.4 107.5 L361.3 105.4 L362.2 104.0 L363.6 102.9 L363.9 101.1 L363.1 99.2 L363.6 97.4 L364.4 95.7 L364.7 93.8 L363.3 91.9 L364.1 90.0 L364.5 88.4 L365.8 87.4" fill="none" stroke="#9496a0" stroke-width="1.1" opacity="0.8"/>
<path d="M195.0 182.9 L195.9 181.8 L196.7 180.8 L197.9 180.0 L199.0 179.2 L200.2 178.8 L201.5 178.6 L202.8 179.2 L203.8 180.2 L205.1 180.7 L206.3 181.4 L207.1 182.5 L207.9 183.6 L208.4 184.8 L208.7 186.1 L209.3 187.2 L209.1 188.6 L209.5 190.1 L209.3 191.5 L209.3 192.9 L209.6 194.3 L210.1 195.7 L209.8 197.1 L209.9 198.6 L209.3 200.0 L209.1 201.3 L208.1 202.3 L207.9 203.6 L206.4 204.4 L205.1 205.5 L204.0 205.0 L202.7 205.3 L201.5 205.0 L200.4 204.4 L199.0 204.3 L197.9 203.6 L196.9 202.5 L196.8 201.0 L195.8 200.0 L195.7 198.5 L196.6 197.2 L196.5 195.7 L196.0 194.4 L195.6 193.0 L195.5 191.5 L195.1 190.1 L194.4 188.7 L194.3 187.2 L194.4 185.7 L194.6 184.3Z" fill="#fdcc77" stroke="#958f86" stroke-width="0.9"/>
<path d="M181.5 182.9 L182.4 181.6 L182.9 180.0 L184.1 179.6 L185.2 179.0 L186.5 178.9 L187.6 179.3 L188.7 179.9 L190.0 180.0 L190.4 181.5 L191.2 182.9 L190.4 184.0 L190.0 185.4 L188.6 185.9 L187.2 186.4 L186.0 186.4 L184.8 186.0 L183.6 186.0 L181.7 185.0Z" fill="#fdcc77" stroke="#958f86" stroke-width="0.9"/>
<path d="M170.7 240.8 L172.1 240.3 L173.6 240.1 L174.0 241.2 L175.3 241.8 L175.7 242.9 L175.7 244.3 L175.9 245.8 L176.0 247.2 L174.9 248.3 L174.3 249.8 L173.0 248.8 L171.7 247.9 L170.9 246.9 L170.6 245.6 L170.3 244.4 L170.6 243.2 L170.8 242.0Z" fill="#fdcc77" stroke="#958f86" stroke-width="0.9"/>
<path d="M212.6 242.7 L214.1 243.1 L215.6 243.0 L217.1 243.2 L217.9 244.3 L219.0 245.2 L219.6 246.4 L218.8 247.8 L217.6 248.9 L216.4 248.4 L215.1 248.1 L213.8 248.2 L212.5 247.1 L211.6 245.7 L212.2 244.2Z" fill="#ffa400" stroke="#958f86" stroke-width="0.9"/>
<path d="M170.0 242.7 L171.2 243.3 L172.5 243.7 L173.8 243.9 L175.1 245.2 L176.5 246.2 L177.5 247.7 L178.1 249.1 L179.3 250.1 L180.0 251.4 L178.9 251.9 L178.0 252.7 L176.8 251.9 L175.9 250.7 L174.5 250.2 L173.5 248.8 L172.4 247.4 L171.0 246.4 L170.6 245.2 L170.1 244.0Z" fill="#fdcc77" stroke="#958f86" stroke-width="0.9"/>
<path d="M182.5 252.7 L183.8 252.9 L185.1 253.3 L186.3 253.9 L187.8 254.7 L188.5 256.4 L190.0 257.2 L188.7 257.6 L187.5 258.2 L186.3 257.5 L185.1 256.8 L183.8 256.4 L183.6 255.1 L183.1 253.9Z" fill="#fdcc77" stroke="#958f86" stroke-width="0.9"/>
<path d="M190.8 318.2 L192.1 318.4 L193.3 319.0 L194.5 319.4 L195.7 319.8 L196.6 320.8 L197.0 322.0 L197.4 323.2 L198.1 324.8 L198.7 326.4 L199.1 328.1 L199.4 329.8 L200.0 331.5 L200.7 333.1 L201.2 334.8 L202.1 336.3 L202.4 338.1 L202.2 339.8 L201.6 341.4 L200.4 340.8 L199.1 340.6 L198.3 339.2 L197.3 337.9 L196.6 336.5 L195.8 334.9 L195.6 333.1 L194.9 331.5 L194.2 329.9 L193.9 328.2 L193.3 326.5 L193.0 324.8 L192.8 323.2 L192.4 321.5 L191.6 320.5 L191.3 319.3Z" fill="#fdcc77" stroke="#958f86" stroke-width="0.9"/>
<path d="M325.7 512.2 L326.8 511.6 L327.6 510.6 L328.7 510.0 L330.1 511.0 L331.3 512.2 L331.1 513.8 L331.5 515.4 L332.0 517.0 L331.9 518.6 L332.2 520.4 L332.6 522.2 L333.0 524.0 L334.5 524.3 L335.9 525.0 L337.3 525.5 L338.7 524.8 L340.1 524.4 L341.6 524.0 L342.5 522.3 L342.4 520.3 L343.3 518.6 L343.5 517.0 L343.5 515.4 L343.8 513.8 L344.2 512.2 L345.0 511.3 L345.9 510.6 L347.0 510.0 L347.1 511.7 L347.5 513.3 L348.3 514.8 L348.5 516.5 L348.3 518.1 L348.2 519.7 L348.3 521.3 L348.0 522.9 L347.7 524.5 L347.7 526.1 L347.4 527.7 L347.6 529.3 L347.0 531.0 L347.2 532.9 L346.7 534.7 L345.6 535.6 L344.4 536.1 L343.3 536.9 L342.2 536.1 L340.7 536.1 L339.5 535.4 L338.2 535.0 L336.8 534.7 L335.6 534.1 L334.3 534.0 L333.1 533.2 L331.9 532.8 L331.0 532.0 L329.7 531.7 L328.7 531.1 L328.1 529.5 L327.4 527.8 L327.0 526.1 L326.4 524.4 L326.3 522.6 L325.9 520.8 L325.8 518.7 L325.6 516.5 L325.9 514.3Z" fill="#fce0a4" stroke="#958f86" stroke-width="0.9"/>
<path d="M394.4 505.8 L396.0 504.6 L397.2 503.0 L398.7 501.8 L400.1 501.8 L401.5 501.8 L402.9 502.3 L403.5 504.0 L404.6 505.5 L405.1 507.2 L405.3 509.1 L405.4 511.0 L405.8 512.9 L406.4 514.8 L407.1 516.6 L407.2 518.6 L406.7 520.1 L406.2 521.5 L405.7 523.0 L405.1 524.4 L403.7 525.6 L402.8 527.3 L401.5 528.6 L400.5 530.0 L399.5 531.4 L398.7 532.9 L397.2 533.4 L396.1 534.7 L394.6 535.2 L393.6 534.6 L392.7 533.6 L391.5 533.2 L390.5 531.8 L389.6 530.3 L388.6 528.9 L387.2 528.1 L385.8 527.2 L384.6 526.1 L384.0 524.2 L384.2 522.2 L383.8 520.3 L384.6 518.9 L385.0 517.4 L385.8 516.1 L387.3 515.9 L388.7 515.2 L390.1 514.6 L390.8 513.5 L391.7 512.5 L392.9 511.8 L393.1 510.2 L393.6 508.8 L394.2 507.3Z" fill="#fce0a4" stroke="#958f86" stroke-width="0.9"/>
<path d="M356.5 519.3 L357.6 518.8 L358.8 518.4 L360.0 518.3 L361.2 519.0 L362.4 519.7 L363.6 520.3 L363.8 522.0 L364.3 523.6 L363.2 524.9 L361.8 525.8 L360.6 525.9 L359.4 525.4 L358.3 525.1 L357.7 524.0 L356.7 523.2 L356.0 522.2 L356.5 520.8Z" fill="#fce0a4" stroke="#958f86" stroke-width="0.9"/>
<path d="M338.6 525.1 L340.0 524.7 L341.5 524.4 L342.9 524.1 L343.9 525.1 L345.1 525.9 L346.4 526.5 L346.6 528.2 L347.3 529.8 L347.2 531.5 L346.4 532.6 L345.8 533.9 L345.0 535.1 L343.9 535.7 L342.6 535.4 L341.4 535.8 L340.5 534.9 L339.6 534.0 L338.9 532.9 L338.6 531.5 L338.2 530.0 L337.9 528.6 L338.2 527.5 L338.4 526.3Z" fill="#fce0a4" stroke="#958f86" stroke-width="0.9"/>
<path d="M170.8 493.6 L170.1 495.0 L168.5 495.9 L167.2 496.5 L165.8 496.9 L164.7 497.9 L164.4 496.7 L163.9 495.6 L162.9 495.2 L161.9 494.7 L162.6 493.6 L162.9 492.3 L163.9 490.6 L165.1 490.4 L166.4 490.2 L168.0 489.7 L169.4 488.7 L170.5 490.0 L171.6 491.2 L171.4 492.5Z" fill="#fdcc77" stroke="#958f86" stroke-width="0.9"/>
<path d="M175.8 491.5 L177.1 491.0 L178.1 490.0 L179.3 489.3 L180.6 489.5 L181.6 490.7 L182.9 490.8 L184.0 489.9 L184.8 488.9 L185.8 487.9 L186.9 488.4 L188.1 488.7 L189.3 488.6 L190.0 489.7 L190.2 491.0 L190.8 492.2 L190.1 493.2 L189.3 494.1 L188.6 495.1 L187.2 495.7 L185.8 496.3 L184.3 496.5 L182.9 496.9 L181.4 496.6 L180.0 497.2 L178.9 496.3 L177.6 495.9 L176.5 495.1 L176.0 493.9 L176.0 492.7Z" fill="#fdcc77" stroke="#958f86" stroke-width="0.9"/>
<path d="M176.6 503.3 L176.8 505.3 L175.9 506.1 L175.1 507.0 L173.8 507.3 L172.6 506.7 L171.7 505.7 L170.6 505.0 L170.9 503.7 L170.4 502.5 L170.5 501.2 L171.3 499.5 L172.4 498.7 L173.8 498.2 L175.6 499.2 L176.4 501.0 L176.6 502.1Z" fill="#fdcc77" stroke="#958f86" stroke-width="0.9"/>
<path d="M181.5 507.2 L183.5 507.0 L185.2 506.0 L187.2 505.8 L188.8 506.0 L190.1 506.6 L191.4 507.5 L192.9 507.9 L193.7 509.5 L194.5 511.2 L195.1 512.9 L194.5 514.8 L194.1 516.8 L193.6 518.7 L192.7 520.3 L191.0 521.3 L190.1 522.9 L188.6 522.7 L187.2 522.1 L185.8 521.5 L184.9 520.0 L183.6 518.8 L182.9 517.2 L181.9 515.9 L181.3 514.4 L180.8 512.9 L180.9 511.0 L181.0 509.1Z" fill="#fdcc77" stroke="#958f86" stroke-width="0.9"/>
<path d="M160.7 515.8 L162.0 514.7 L163.4 513.7 L164.3 512.2 L165.7 512.6 L167.1 513.0 L168.6 512.9 L170.2 513.9 L171.6 515.1 L172.9 516.5 L173.1 518.0 L174.2 519.2 L174.3 520.8 L173.0 521.8 L172.2 523.4 L170.8 524.4 L169.4 523.7 L167.8 523.7 L166.5 522.9 L165.3 522.3 L164.0 521.7 L162.9 520.8 L162.0 519.2 L161.2 517.6Z" fill="#fdcc77" stroke="#958f86" stroke-width="0.9"/>
<path d="M175.6 530.7 L175.2 531.9 L174.5 532.9 L174.1 534.2 L173.7 535.5 L172.5 535.8 L171.3 536.0 L170.1 536.2 L169.0 535.2 L168.3 533.9 L167.1 533.1 L165.7 532.5 L165.7 531.1 L166.1 529.7 L166.5 528.4 L168.0 527.2 L168.9 526.4 L169.7 525.4 L171.3 525.7 L172.9 525.8 L174.3 526.6 L175.5 527.6 L175.7 529.1Z" fill="#fdcc77" stroke="#958f86" stroke-width="0.9"/>
<path d="M163.8 534.1 L163.0 535.6 L162.7 537.3 L162.4 539.0 L161.1 539.5 L159.8 539.8 L158.4 540.8 L157.9 542.5 L156.5 543.5 L155.1 542.3 L153.8 541.0 L152.1 540.1 L151.9 538.5 L150.8 537.3 L150.5 535.7 L150.4 534.4 L150.1 533.1 L149.6 531.9 L150.7 531.4 L151.6 530.7 L152.7 530.1 L153.9 529.2 L154.6 527.8 L155.8 526.8 L156.8 527.6 L158.1 527.9 L159.1 528.8 L160.2 529.4 L161.0 530.3 L161.9 531.1 L162.4 532.2 L163.4 533.0Z" fill="#fdcc77" stroke="#958f86" stroke-width="0.9"/>
<path d="M179.3 536.5 L178.7 538.0 L177.7 539.4 L177.2 541.0 L176.1 541.6 L175.0 542.2 L173.8 543.0 L172.4 543.2 L171.4 542.7 L170.5 542.1 L169.7 541.1 L169.4 539.7 L168.6 538.7 L168.9 537.4 L168.7 536.0 L168.5 534.7 L170.3 533.6 L171.8 533.1 L173.2 532.5 L174.3 533.1 L175.5 533.3 L177.2 533.3 L178.8 533.4 L179.2 534.9Z" fill="#fdcc77" stroke="#958f86" stroke-width="0.9"/>
<path d="M168.8 546.2 L167.4 547.2 L165.9 548.1 L164.7 548.7 L163.7 549.6 L162.2 549.4 L160.7 549.2 L159.2 549.4 L157.8 549.0 L156.3 548.9 L155.9 546.7 L154.4 545.3 L155.4 544.3 L156.5 543.5 L157.8 543.0 L159.3 542.2 L160.7 541.2 L161.9 541.9 L163.2 542.5 L164.6 543.0 L166.2 543.1 L167.6 543.8 L168.1 545.1Z" fill="#fdcc77" stroke="#958f86" stroke-width="0.9"/>
<path d="M180.4 545.1 L179.6 546.4 L178.9 547.7 L178.5 549.4 L177.3 549.1 L176.2 548.4 L175.0 548.2 L173.4 547.5 L171.3 547.3 L172.0 546.2 L172.4 545.0 L173.3 543.5 L174.7 542.3 L176.9 542.5 L178.1 542.8 L179.3 543.4Z" fill="#fdcc77" stroke="#958f86" stroke-width="0.9"/>
<path d="M189.8 531.1 L189.0 532.4 L188.2 533.5 L187.7 534.8 L186.9 535.5 L185.8 534.6 L185.6 533.4 L185.0 532.3 L185.1 531.0 L185.2 529.7 L185.1 528.4 L185.2 527.0 L185.8 525.8 L186.9 524.8 L188.5 525.0 L188.9 526.3 L189.1 527.7 L189.3 529.4Z" fill="#fdcc77" stroke="#958f86" stroke-width="0.9"/>
<path d="M169.3 569.3 L170.0 567.9 L170.8 566.5 L171.9 565.4 L173.2 564.7 L174.3 563.6 L175.3 562.4 L176.6 561.7 L177.9 560.8 L179.2 559.7 L180.0 558.1 L181.5 557.2 L182.5 556.0 L183.9 555.2 L185.1 554.3 L186.3 554.4 L187.4 553.9 L188.6 553.6 L189.8 554.6 L191.0 555.6 L192.2 556.5 L193.0 557.9 L193.3 559.5 L194.4 560.8 L194.4 562.2 L194.2 563.6 L194.6 565.0 L194.2 566.3 L193.8 567.6 L192.9 568.6 L192.1 569.7 L191.1 570.6 L190.1 571.5 L189.0 572.4 L187.6 572.8 L186.5 573.6 L185.4 574.3 L184.2 574.9 L182.9 575.1 L181.5 575.7 L180.1 576.2 L178.6 576.5 L177.2 576.9 L175.7 576.8 L174.3 577.5 L173.0 576.5 L171.5 575.8 L170.9 574.7 L170.1 573.8 L169.3 572.9 L169.4 571.7 L169.4 570.5Z" fill="#fdcc77" stroke="#958f86" stroke-width="0.9"/>
<path d="M219.0 574.3 L220.2 573.9 L221.0 572.9 L222.2 572.6 L223.6 573.2 L225.1 573.6 L226.2 574.6 L226.8 575.9 L227.5 577.2 L228.4 578.5 L229.0 579.9 L229.4 581.5 L229.2 582.7 L229.8 583.9 L229.8 585.1 L228.2 585.5 L226.5 585.8 L225.3 585.8 L224.2 585.3 L223.0 585.1 L222.1 584.1 L221.1 583.3 L220.4 582.2 L220.0 580.7 L218.9 579.5 L218.7 577.9 L218.7 576.7 L219.0 575.5Z" fill="#fdcc77" stroke="#958f86" stroke-width="0.9"/>
<path d="M236.7 572.2 L236.0 573.8 L234.6 574.7 L233.1 576.1 L231.9 575.1 L230.6 574.3 L229.3 573.2 L229.9 571.4 L230.2 569.3 L231.4 569.3 L232.6 569.7 L233.7 569.5 L234.9 569.5 L235.8 571.0Z" fill="#fdcc77" stroke="#958f86" stroke-width="0.9"/>
<path d="M245.7 575.0 L244.8 576.1 L244.0 578.1 L242.9 577.7 L241.8 577.3 L240.1 576.6 L238.2 576.3 L239.0 574.4 L239.8 573.3 L240.8 572.5 L242.0 572.0 L243.2 572.6 L245.0 573.2Z" fill="#fdcc77" stroke="#958f86" stroke-width="0.9"/>
<path d="M239.6 580.5 L239.8 582.1 L238.6 582.7 L237.3 582.9 L235.7 583.9 L233.6 583.2 L232.5 582.1 L233.1 581.1 L233.8 580.2 L234.2 578.5 L236.1 578.4 L238.0 577.9 L239.7 578.9Z" fill="#fdcc77" stroke="#958f86" stroke-width="0.9"/>
<path d="M252.8 580.3 L253.0 581.9 L252.7 583.5 L250.8 583.5 L249.3 583.3 L248.4 582.8 L247.7 581.7 L247.7 580.0 L247.6 578.7 L247.6 577.4 L249.3 576.5 L250.5 576.8 L251.8 577.0 L252.0 578.1 L252.5 579.1Z" fill="#fdcc77" stroke="#958f86" stroke-width="0.9"/>
<path d="M259.7 569.0 L259.8 570.3 L259.9 571.6 L258.8 572.1 L257.6 572.3 L256.5 572.7 L255.5 573.4 L254.4 572.8 L253.5 571.8 L252.7 570.2 L251.9 568.5 L253.0 568.1 L254.0 567.4 L254.9 566.8 L255.9 566.2 L257.6 566.1 L258.9 566.6 L260.1 567.4Z" fill="#fdcc77" stroke="#958f86" stroke-width="0.9"/>
<path d="M260.5 578.7 L260.1 580.5 L259.3 581.2 L258.5 581.9 L257.6 583.4 L256.8 582.6 L255.7 582.2 L254.7 581.0 L254.1 579.6 L254.6 578.4 L255.6 577.5 L256.2 576.4 L256.5 574.9 L257.3 573.7 L258.6 575.2 L259.8 576.5 L260.3 577.6Z" fill="#fdcc77" stroke="#958f86" stroke-width="0.9"/>
<path d="M212.8 601.2 L212.7 602.4 L212.4 603.5 L211.2 603.8 L209.9 603.9 L208.2 603.9 L206.3 603.4 L205.1 602.7 L205.7 600.8 L205.6 599.5 L205.9 598.3 L208.1 598.9 L209.5 598.5 L211.0 598.5 L211.9 600.2Z" fill="#fdcc77" stroke="#958f86" stroke-width="0.9"/>
<path d="M216.8 594.5 L216.0 595.8 L215.5 597.2 L214.1 597.6 L212.7 597.7 L211.9 597.7 L211.3 596.7 L210.7 595.7 L209.7 594.4 L210.7 593.2 L211.2 591.8 L212.6 592.4 L214.4 591.8 L216.0 592.7Z" fill="#fdcc77" stroke="#958f86" stroke-width="0.9"/>
<path d="M221.3 600.0 L221.1 601.9 L220.7 604.0 L219.0 603.7 L218.1 602.2 L217.7 601.3 L217.5 600.2 L217.4 599.0 L217.2 597.3 L219.1 597.2 L220.6 596.6 L220.8 597.8 L221.1 599.0Z" fill="#fdcc77" stroke="#958f86" stroke-width="0.9"/>
<path d="M243.2 598.1 L242.4 599.8 L241.2 601.4 L239.6 601.0 L238.4 600.8 L237.1 600.7 L236.1 599.6 L236.8 598.7 L237.1 597.6 L236.9 596.3 L236.9 595.0 L238.4 594.5 L239.9 594.3 L241.1 594.3 L242.3 594.3 L242.6 595.5 L242.7 596.7Z" fill="#fdcc77" stroke="#958f86" stroke-width="0.9"/>
<path d="M160.6 534.4 L159.7 536.2 L158.7 537.4 L158.3 539.0 L157.5 540.3 L156.3 540.9 L155.0 541.4 L153.8 541.0 L152.7 540.3 L151.6 539.6 L151.1 538.1 L150.2 536.8 L149.9 535.5 L149.5 534.3 L148.9 533.1 L150.0 531.9 L151.0 530.8 L152.1 529.6 L153.4 529.4 L154.8 529.3 L156.2 530.2 L157.8 530.6 L159.1 530.6 L160.4 530.8 L161.7 530.6 L161.5 531.9 L160.7 533.0Z" fill="#fdcc77" stroke="#958f86" stroke-width="0.9"/>
<path d="M175.5 533.6 L175.8 534.9 L176.3 536.2 L175.2 537.1 L174.4 538.2 L172.7 538.0 L171.2 537.3 L170.0 537.6 L168.7 537.5 L168.2 536.5 L168.1 535.4 L168.2 534.1 L168.3 532.8 L169.1 531.5 L170.6 530.1 L172.0 530.1 L173.4 530.6 L174.9 531.3 L176.5 531.9Z" fill="#fdcc77" stroke="#958f86" stroke-width="0.9"/>
<path d="M179.6 544.4 L178.2 545.7 L176.9 545.9 L175.7 546.5 L173.8 547.4 L172.9 546.0 L171.4 544.6 L170.6 543.2 L171.9 541.6 L173.3 540.9 L174.5 541.4 L175.5 542.2 L176.8 542.5 L177.9 543.2Z" fill="#fdcc77" stroke="#958f86" stroke-width="0.9"/>
<path d="M169.4 551.3 L169.0 553.0 L168.7 554.7 L167.6 554.5 L166.5 554.6 L165.6 555.4 L165.1 556.5 L164.3 555.4 L163.6 554.2 L162.2 552.7 L162.7 551.3 L163.0 549.8 L163.2 547.9 L164.8 547.3 L166.5 547.3 L167.1 548.2 L167.6 549.2 L168.3 550.4Z" fill="#fdcc77" stroke="#958f86" stroke-width="0.9"/>
<path d="M167.0 583.5 L166.9 584.6 L166.5 586.4 L165.4 586.1 L164.2 586.0 L162.3 586.2 L161.4 585.4 L160.9 584.4 L162.5 582.9 L162.7 582.2 L164.2 581.8 L166.3 581.1 L167.5 582.2Z" fill="#fdcc77" stroke="#958f86" stroke-width="0.9"/>
<path d="M313.7 539.0 L315.0 538.3 L316.6 538.5 L318.0 537.9 L319.3 539.2 L320.8 540.1 L322.3 541.1 L322.3 543.0 L322.8 544.7 L323.4 546.5 L322.5 547.9 L321.7 549.3 L321.2 550.8 L320.0 550.6 L318.9 549.8 L317.6 549.7 L317.0 548.1 L315.9 546.7 L314.8 545.4 L314.5 543.8 L314.3 542.2 L314.0 540.6Z" fill="#fdcc77" stroke="#958f86" stroke-width="0.9"/>
<path d="M315.9 554.0 L317.4 554.0 L318.7 553.2 L320.1 552.9 L321.5 554.2 L322.8 555.7 L324.0 557.2 L324.7 558.9 L324.5 560.8 L324.9 562.6 L323.7 563.6 L322.3 564.1 L321.0 562.9 L319.9 561.5 L318.4 560.5 L318.1 558.7 L317.2 557.2 L316.2 555.8Z" fill="#fdcc77" stroke="#958f86" stroke-width="0.9"/>
<path d="M290.1 561.5 L291.6 561.5 L292.9 560.5 L294.4 560.5 L295.2 561.8 L296.8 562.4 L297.5 563.8 L298.7 564.7 L299.2 566.1 L299.8 567.5 L299.8 569.0 L298.8 569.7 L297.6 570.0 L296.5 570.5 L295.1 569.5 L294.1 567.9 L292.7 566.9 L292.1 565.0 L290.8 563.4Z" fill="#fdcc77" stroke="#958f86" stroke-width="0.9"/>
<path d="M260.1 562.6 L261.9 562.5 L263.7 562.1 L265.4 561.5 L267.2 561.6 L269.1 561.9 L270.8 562.6 L271.5 563.7 L272.1 564.8 L272.9 565.8 L271.9 566.9 L270.8 568.0 L269.7 569.0 L267.9 568.9 L266.1 569.1 L264.4 569.7 L263.1 568.8 L262.0 567.5 L260.5 566.9 L260.1 565.5 L260.4 564.0Z" fill="#fdcc77" stroke="#958f86" stroke-width="0.9"/>
<path d="M363.5 524.3 L361.7 525.3 L361.2 526.8 L359.2 526.9 L357.7 526.6 L356.4 525.9 L355.8 525.2 L355.6 524.0 L355.7 522.7 L356.4 521.3 L357.7 521.0 L359.1 521.0 L360.4 520.9 L361.7 520.8 L363.0 522.0 L363.2 523.2Z" fill="#fce0a4" stroke="#958f86" stroke-width="0.9"/>
<path d="M221.8 598.4 L221.5 599.6 L220.6 600.6 L220.2 601.8 L218.6 602.3 L216.9 602.4 L215.3 602.8 L214.1 603.0 L212.8 602.9 L211.6 603.4 L210.1 603.6 L208.6 603.8 L207.1 603.6 L205.9 602.8 L204.4 602.8 L203.3 601.8 L204.6 600.4 L205.4 598.7 L206.6 597.3 L207.5 596.4 L208.5 595.7 L209.7 594.9 L211.0 594.4 L212.6 594.1 L214.1 593.9 L215.7 593.6 L217.3 593.8 L217.7 595.2 L217.7 596.7 L219.2 596.9 L220.4 598.0Z" fill="#fdcc77" stroke="#958f86" stroke-width="0.9"/>
<path d="M243.0 598.2 L242.4 599.6 L240.6 600.4 L239.0 600.7 L237.9 601.2 L236.7 601.4 L236.3 600.2 L235.8 599.0 L236.5 597.6 L236.9 596.5 L237.6 595.6 L238.3 594.6 L240.4 594.8 L241.6 596.3 L242.4 597.2Z" fill="#fdcc77" stroke="#958f86" stroke-width="0.9"/>
<path d="M164.2 463.5 L163.4 464.3 L162.0 464.4 L161.2 464.0 L161.6 462.9 L163.1 462.8Z" fill="#c3beb3" stroke="#8d9199" stroke-width="0.7" opacity="0.70"/>
<path d="M174.3 470.5 L173.8 471.4 L173.2 471.2 L173.0 471.0 L173.1 470.0 L174.3 470.0Z" fill="#a4a8af" stroke="#8d9199" stroke-width="0.7" opacity="0.75"/>
<path d="M170.9 474.1 L170.3 474.9 L169.6 474.6 L169.3 474.4 L169.6 474.0 L170.6 473.7Z" fill="#a4a8af" stroke="#8d9199" stroke-width="0.7" opacity="0.75"/>
<path d="M186.2 466.4 L185.9 467.0 L185.4 466.9 L185.1 466.2 L185.4 465.8 L185.9 466.0Z" fill="#a4a8af" stroke="#8d9199" stroke-width="0.7" opacity="0.75"/>
<path d="M174.5 480.2 L173.7 480.4 L173.3 480.4 L173.0 480.0 L173.1 479.8 L174.0 479.8Z" fill="#a4a8af" stroke="#8d9199" stroke-width="0.7" opacity="0.75"/>
<path d="M152.0 487.9 L152.1 488.3 L150.8 488.2 L150.5 487.8 L150.7 487.6 L151.9 487.5Z" fill="#a4a8af" stroke="#8d9199" stroke-width="0.7" opacity="0.75"/>
<path d="M155.1 495.3 L154.7 495.4 L153.9 495.8 L153.6 494.9 L154.2 494.4 L154.9 494.4Z" fill="#a4a8af" stroke="#8d9199" stroke-width="0.7" opacity="0.75"/>
<path d="M153.3 478.6 L153.2 478.9 L152.7 479.0 L152.6 478.7 L152.6 478.2 L152.9 478.3Z" fill="#a4a8af" stroke="#8d9199" stroke-width="0.7" opacity="0.75"/>
<path d="M160.5 491.3 L160.2 491.9 L159.7 492.1 L159.4 491.3 L159.7 491.0 L160.4 490.9Z" fill="#a4a8af" stroke="#8d9199" stroke-width="0.7" opacity="0.75"/>
<path d="M182.3 480.7 L181.7 481.0 L181.1 481.2 L180.7 480.6 L181.4 480.3 L181.9 480.3Z" fill="#a4a8af" stroke="#8d9199" stroke-width="0.7" opacity="0.75"/>
<path d="M179.7 470.1 L179.7 470.4 L179.2 470.5 L178.8 470.0 L179.0 469.7 L179.4 469.7Z" fill="#a4a8af" stroke="#8d9199" stroke-width="0.7" opacity="0.75"/>
<path d="M158.9 482.9 L158.8 483.4 L158.3 483.3 L158.3 482.8 L158.5 482.6 L158.7 482.4Z" fill="#a4a8af" stroke="#8d9199" stroke-width="0.7" opacity="0.75"/>
<path d="M199.7 540.3 L199.2 540.6 L197.9 540.5 L197.9 539.9 L197.9 539.5 L199.2 539.5Z" fill="#a4a8af" stroke="#8d9199" stroke-width="0.7" opacity="0.75"/>
<path d="M203.2 543.9 L202.7 544.4 L201.5 544.2 L201.1 543.6 L201.9 543.1 L202.7 542.9Z" fill="#a4a8af" stroke="#8d9199" stroke-width="0.7" opacity="0.75"/>
<path d="M197.6 544.4 L197.3 544.8 L196.9 544.6 L196.7 544.2 L197.0 544.0 L197.4 543.5Z" fill="#a4a8af" stroke="#8d9199" stroke-width="0.7" opacity="0.75"/>
<path d="M147.9 548.7 L147.3 549.4 L145.0 549.6 L144.7 548.7 L145.5 547.7 L146.6 547.5Z" fill="#c3beb3" stroke="#8d9199" stroke-width="0.7" opacity="0.70"/>
<path d="M159.3 545.9 L159.2 546.3 L158.3 546.4 L157.8 545.6 L158.2 544.9 L159.0 545.1Z" fill="#a4a8af" stroke="#8d9199" stroke-width="0.7" opacity="0.75"/>
<path d="M166.1 563.1 L165.7 563.5 L164.5 563.7 L164.0 562.7 L164.7 561.8 L165.4 562.1Z" fill="#a4a8af" stroke="#8d9199" stroke-width="0.7" opacity="0.75"/>
<path d="M155.4 577.2 L154.9 577.6 L153.6 577.9 L153.2 577.3 L153.9 576.5 L154.7 576.8Z" fill="#a4a8af" stroke="#8d9199" stroke-width="0.7" opacity="0.75"/>
<path d="M153.7 590.3 L153.0 590.8 L151.9 590.6 L151.7 590.4 L152.3 589.5 L153.0 589.2Z" fill="#a4a8af" stroke="#8d9199" stroke-width="0.7" opacity="0.75"/>
<path d="M147.0 593.0 L146.7 593.8 L146.0 593.5 L145.9 593.1 L146.2 592.3 L147.0 592.1Z" fill="#a4a8af" stroke="#8d9199" stroke-width="0.7" opacity="0.75"/>
<path d="M176.8 589.9 L176.5 590.9 L173.7 590.8 L173.4 589.8 L174.2 589.3 L175.3 589.1Z" fill="#c3beb3" stroke="#8d9199" stroke-width="0.7" opacity="0.70"/>
<path d="M154.9 600.8 L154.5 601.3 L153.9 601.4 L153.6 600.5 L154.0 600.0 L154.6 600.0Z" fill="#a4a8af" stroke="#8d9199" stroke-width="0.7" opacity="0.75"/>
<path d="M190.7 622.9 L190.5 625.0 L188.0 625.0 L187.1 623.6 L187.1 621.0 L189.3 620.8Z" fill="#c3beb3" stroke="#8d9199" stroke-width="0.7" opacity="0.70"/>
<path d="M245.0 620.3 L244.5 621.9 L242.8 621.5 L242.8 620.9 L243.6 620.1 L244.2 620.0Z" fill="#a4a8af" stroke="#8d9199" stroke-width="0.7" opacity="0.75"/>
<path d="M229.3 596.0 L229.0 597.2 L228.4 597.4 L228.3 595.5 L228.5 594.4 L229.1 594.3Z" fill="#a4a8af" stroke="#8d9199" stroke-width="0.7" opacity="0.75"/>
<path d="M197.9 592.5 L197.3 592.8 L196.9 593.1 L196.8 592.1 L197.1 591.5 L197.6 591.7Z" fill="#a4a8af" stroke="#8d9199" stroke-width="0.7" opacity="0.75"/>
<path d="M187.6 580.1 L187.4 580.6 L186.9 580.4 L186.6 580.0 L186.9 579.7 L187.5 579.5Z" fill="#a4a8af" stroke="#8d9199" stroke-width="0.7" opacity="0.75"/>
<path d="M164.7 558.6 L164.7 559.0 L164.0 558.9 L163.9 558.6 L164.2 558.2 L164.6 557.9Z" fill="#a4a8af" stroke="#8d9199" stroke-width="0.7" opacity="0.75"/>
<path d="M202.0 587.1 L201.7 587.6 L201.2 587.9 L200.9 587.2 L201.3 586.7 L201.8 586.8Z" fill="#a4a8af" stroke="#8d9199" stroke-width="0.7" opacity="0.75"/>
<path d="M214.3 606.5 L214.2 607.0 L213.5 607.1 L213.2 606.5 L213.2 605.9 L213.9 606.0Z" fill="#a4a8af" stroke="#8d9199" stroke-width="0.7" opacity="0.75"/>
<path d="M227.7 601.4 L227.5 601.8 L227.1 602.0 L226.8 601.6 L227.0 601.1 L227.4 601.1Z" fill="#a4a8af" stroke="#8d9199" stroke-width="0.7" opacity="0.75"/>
<path d="M251.2 588.7 L251.1 589.7 L250.6 589.7 L250.5 588.3 L250.5 587.8 L251.1 588.1Z" fill="#a4a8af" stroke="#8d9199" stroke-width="0.7" opacity="0.75"/>
<path d="M163.1 573.1 L162.3 573.5 L161.6 573.3 L161.0 572.8 L161.5 572.5 L162.6 572.3Z" fill="#a4a8af" stroke="#8d9199" stroke-width="0.7" opacity="0.75"/>
<path d="M159.9 583.3 L159.6 583.8 L157.8 583.5 L157.5 582.8 L158.1 581.7 L159.5 581.9Z" fill="#a4a8af" stroke="#8d9199" stroke-width="0.7" opacity="0.75"/>
<path d="M164.5 585.1 L163.2 586.0 L162.2 586.1 L161.5 584.6 L162.3 584.5 L163.2 584.2Z" fill="#c3beb3" stroke="#8d9199" stroke-width="0.7" opacity="0.70"/>
<path d="M180.6 588.6 L180.3 589.1 L179.6 588.9 L179.5 588.5 L179.9 588.3 L180.5 588.2Z" fill="#a4a8af" stroke="#8d9199" stroke-width="0.7" opacity="0.75"/>
<path d="M192.3 619.5 L191.3 619.9 L190.3 619.8 L189.5 619.3 L190.4 618.5 L192.2 618.8Z" fill="#a4a8af" stroke="#8d9199" stroke-width="0.7" opacity="0.75"/>
<path d="M161.9 251.3 L161.9 251.8 L160.8 252.3 L160.6 251.3 L161.1 250.6 L161.5 250.3Z" fill="#a4a8af" stroke="#8d9199" stroke-width="0.7" opacity="0.75"/>
<path d="M168.4 253.8 L168.1 254.4 L167.0 254.3 L167.0 253.6 L166.9 253.1 L167.8 252.9Z" fill="#a4a8af" stroke="#8d9199" stroke-width="0.7" opacity="0.75"/>
<path d="M172.2 258.6 L172.0 259.4 L170.5 259.5 L170.2 259.2 L171.1 258.0 L172.0 257.8Z" fill="#a4a8af" stroke="#8d9199" stroke-width="0.7" opacity="0.75"/>
<path d="M163.3 265.4 L162.7 265.6 L162.1 265.9 L161.8 265.2 L161.9 264.1 L163.1 264.4Z" fill="#a4a8af" stroke="#8d9199" stroke-width="0.7" opacity="0.75"/>
<path d="M160.8 268.7 L160.6 269.3 L159.7 269.6 L159.2 268.9 L159.7 268.1 L160.7 268.2Z" fill="#a4a8af" stroke="#8d9199" stroke-width="0.7" opacity="0.75"/>
<path d="M190.8 255.0 L190.2 255.8 L189.4 255.9 L189.3 254.9 L189.9 254.3 L190.4 254.0Z" fill="#a4a8af" stroke="#8d9199" stroke-width="0.7" opacity="0.75"/>
<path d="M202.0 263.7 L201.5 264.4 L200.6 264.5 L200.4 264.1 L200.8 263.0 L201.7 262.9Z" fill="#a4a8af" stroke="#8d9199" stroke-width="0.7" opacity="0.75"/>
<path d="M210.7 261.2 L210.5 262.3 L209.4 261.9 L209.5 261.5 L209.5 260.3 L210.6 260.8Z" fill="#a4a8af" stroke="#8d9199" stroke-width="0.7" opacity="0.75"/>
<path d="M214.6 263.7 L214.5 264.7 L213.1 264.4 L212.9 264.2 L213.3 263.4 L214.3 263.2Z" fill="#a4a8af" stroke="#8d9199" stroke-width="0.7" opacity="0.75"/>
<path d="M167.2 311.0 L166.8 312.1 L165.7 312.1 L165.1 311.5 L165.9 310.8 L166.9 310.9Z" fill="#a4a8af" stroke="#8d9199" stroke-width="0.7" opacity="0.75"/>
<path d="M183.5 320.1 L182.9 320.7 L181.9 320.7 L181.9 319.8 L182.3 319.2 L182.7 319.0Z" fill="#a4a8af" stroke="#8d9199" stroke-width="0.7" opacity="0.75"/>
<path d="M180.8 345.3 L180.2 346.1 L179.9 345.7 L179.2 344.9 L179.2 344.4 L180.5 344.4Z" fill="#a4a8af" stroke="#8d9199" stroke-width="0.7" opacity="0.75"/>
<path d="M186.2 355.0 L185.3 356.3 L184.7 356.2 L184.1 355.0 L184.8 354.4 L185.5 354.8Z" fill="#a4a8af" stroke="#8d9199" stroke-width="0.7" opacity="0.75"/>
<path d="M169.7 363.0 L169.3 363.4 L168.3 363.6 L167.7 363.0 L168.5 361.9 L169.5 362.0Z" fill="#a4a8af" stroke="#8d9199" stroke-width="0.7" opacity="0.75"/>
<path d="M175.6 366.3 L175.5 367.0 L174.7 367.0 L174.3 366.4 L174.4 365.5 L175.7 365.5Z" fill="#a4a8af" stroke="#8d9199" stroke-width="0.7" opacity="0.75"/>
<path d="M162.4 373.6 L161.6 374.7 L161.0 374.6 L160.3 374.2 L161.1 373.2 L161.5 373.4Z" fill="#a4a8af" stroke="#8d9199" stroke-width="0.7" opacity="0.75"/>
<path d="M183.4 386.4 L182.8 387.2 L182.3 387.0 L181.5 386.2 L182.3 385.3 L182.8 385.9Z" fill="#a4a8af" stroke="#8d9199" stroke-width="0.7" opacity="0.75"/>
<path d="M200.0 406.5 L198.3 407.4 L194.2 407.4 L191.7 406.5 L193.7 405.5 L199.1 405.5Z" fill="#c3beb3" stroke="#8d9199" stroke-width="0.7" opacity="0.70"/>
<path d="M203.4 370.3 L202.8 370.8 L202.0 371.1 L201.6 369.7 L202.2 369.5 L202.7 369.2Z" fill="#a4a8af" stroke="#8d9199" stroke-width="0.7" opacity="0.75"/>
<path d="M208.4 350.2 L207.9 351.1 L207.0 350.6 L206.9 350.1 L207.1 349.1 L207.8 349.6Z" fill="#a4a8af" stroke="#8d9199" stroke-width="0.7" opacity="0.75"/>
<path d="M188.6 277.8 L188.3 278.2 L187.1 278.1 L186.8 277.6 L186.8 276.8 L188.0 277.1Z" fill="#a4a8af" stroke="#8d9199" stroke-width="0.7" opacity="0.75"/>
<path d="M190.9 280.0 L190.3 280.8 L189.4 280.8 L189.2 279.8 L189.8 279.1 L190.7 279.3Z" fill="#a4a8af" stroke="#8d9199" stroke-width="0.7" opacity="0.75"/>
<path d="M157.0 262.3 L156.5 263.1 L156.1 263.5 L155.6 262.7 L155.9 261.6 L157.0 261.7Z" fill="#a4a8af" stroke="#8d9199" stroke-width="0.7" opacity="0.75"/>
<path d="M205.7 407.8 L205.2 408.2 L203.1 408.5 L202.0 408.0 L203.0 407.3 L204.2 406.9Z" fill="#a4a8af" stroke="#8d9199" stroke-width="0.7" opacity="0.75"/>
<path d="M162.0 202.7 L161.7 203.4 L161.2 203.3 L160.4 202.5 L161.0 201.6 L161.7 201.7Z" fill="#a4a8af" stroke="#8d9199" stroke-width="0.7" opacity="0.75"/>
<path d="M173.0 244.0 L171.6 244.9 L170.9 244.9 L169.8 243.5 L170.2 242.9 L171.7 242.9Z" fill="#a4a8af" stroke="#8d9199" stroke-width="0.7" opacity="0.75"/>
<path d="M178.1 247.5 L177.0 248.4 L175.3 248.6 L174.4 247.7 L175.6 246.8 L176.6 246.8Z" fill="#c3beb3" stroke="#8d9199" stroke-width="0.7" opacity="0.70"/>
<path d="M185.9 255.6 L185.8 255.8 L184.6 256.1 L184.2 255.3 L184.5 254.2 L185.3 254.3Z" fill="#a4a8af" stroke="#8d9199" stroke-width="0.7" opacity="0.75"/>
<path d="M161.1 250.5 L160.6 250.8 L159.5 250.7 L159.4 250.0 L159.8 249.6 L160.5 249.6Z" fill="#a4a8af" stroke="#8d9199" stroke-width="0.7" opacity="0.75"/>
<path d="M156.0 257.5 L155.5 258.4 L154.3 258.6 L154.0 258.1 L154.4 257.1 L155.8 256.9Z" fill="#a4a8af" stroke="#8d9199" stroke-width="0.7" opacity="0.75"/>
<path d="M197.1 259.9 L196.9 260.7 L195.8 261.0 L195.4 260.3 L196.0 259.5 L196.8 259.2Z" fill="#a4a8af" stroke="#8d9199" stroke-width="0.7" opacity="0.75"/>
<path d="M202.0 267.7 L201.8 268.4 L200.8 268.1 L200.7 267.6 L201.0 266.7 L201.8 267.2Z" fill="#a4a8af" stroke="#8d9199" stroke-width="0.7" opacity="0.75"/>
<path d="M165.6 262.6 L165.1 263.5 L164.7 263.2 L164.0 262.6 L164.8 262.2 L165.6 262.2Z" fill="#a4a8af" stroke="#8d9199" stroke-width="0.7" opacity="0.75"/>
<path d="M180.9 251.1 L180.6 252.3 L179.9 252.2 L178.9 251.0 L179.5 250.9 L180.7 250.9Z" fill="#a4a8af" stroke="#8d9199" stroke-width="0.7" opacity="0.75"/>
<path d="M214.5 212.5 L214.1 213.8 L213.3 214.0 L212.9 212.8 L213.5 211.8 L214.2 212.0Z" fill="#a4a8af" stroke="#8d9199" stroke-width="0.7" opacity="0.75"/>
<path d="M200.1 407.7 L198.8 408.2 L195.7 408.9 L191.8 407.5 L194.8 406.4 L198.6 406.7Z" fill="#c3beb3" stroke="#8d9199" stroke-width="0.7" opacity="0.70"/>
<path d="M203.0 411.1 L202.2 412.0 L198.5 412.0 L198.4 411.5 L199.2 410.0 L201.4 410.7Z" fill="#c3beb3" stroke="#8d9199" stroke-width="0.7" opacity="0.70"/>
<path d="M202.1 417.4 L201.6 418.3 L201.2 418.3 L200.7 417.7 L200.9 417.0 L201.5 416.9Z" fill="#a4a8af" stroke="#8d9199" stroke-width="0.7" opacity="0.75"/>
<path d="M187.2 434.2 L185.9 435.2 L183.4 435.8 L183.4 433.4 L183.4 431.8 L185.8 430.7Z" fill="#c3beb3" stroke="#8d9199" stroke-width="0.7" opacity="0.70"/>
<path d="M172.0 429.0 L171.6 429.5 L170.4 429.5 L170.3 428.7 L170.8 428.2 L171.9 428.3Z" fill="#a4a8af" stroke="#8d9199" stroke-width="0.7" opacity="0.75"/>
<path d="M164.7 463.2 L163.0 465.3 L162.2 465.3 L160.8 463.9 L161.4 463.2 L162.9 462.3Z" fill="#c3beb3" stroke="#8d9199" stroke-width="0.7" opacity="0.70"/>
<path d="M173.6 471.1 L172.8 471.9 L171.8 472.1 L171.6 471.5 L172.0 470.8 L173.0 470.6Z" fill="#a4a8af" stroke="#8d9199" stroke-width="0.7" opacity="0.75"/>
<path d="M175.8 477.9 L175.6 478.5 L174.4 478.3 L174.4 477.6 L174.4 476.7 L175.6 477.0Z" fill="#a4a8af" stroke="#8d9199" stroke-width="0.7" opacity="0.75"/>
<path d="M156.0 481.0 L155.4 482.1 L154.7 482.0 L154.3 481.5 L154.3 480.6 L155.7 480.8Z" fill="#a4a8af" stroke="#8d9199" stroke-width="0.7" opacity="0.75"/>
<path d="M154.3 494.9 L154.2 495.9 L153.2 495.9 L152.8 495.1 L153.3 494.2 L154.0 494.2Z" fill="#a4a8af" stroke="#8d9199" stroke-width="0.7" opacity="0.75"/>
<path d="M180.8 467.9 L180.6 468.3 L179.4 468.2 L179.2 467.5 L179.8 466.8 L180.5 467.1Z" fill="#a4a8af" stroke="#8d9199" stroke-width="0.7" opacity="0.75"/>
<path d="M168.1 399.9 L168.1 400.6 L167.0 400.7 L166.7 400.1 L167.4 399.3 L167.9 399.4Z" fill="#a4a8af" stroke="#8d9199" stroke-width="0.7" opacity="0.75"/>
<path d="M183.3 392.3 L182.9 393.0 L182.2 392.9 L182.0 392.7 L182.4 391.8 L182.9 391.9Z" fill="#a4a8af" stroke="#8d9199" stroke-width="0.7" opacity="0.75"/>
<path d="M155.9 575.3 L155.1 576.1 L154.6 576.0 L154.3 575.1 L154.8 574.2 L155.9 574.6Z" fill="#a4a8af" stroke="#8d9199" stroke-width="0.7" opacity="0.75"/>
<path d="M163.2 581.9 L161.6 585.1 L160.8 585.6 L158.8 583.5 L159.0 580.0 L162.3 580.1Z" fill="#c3beb3" stroke="#8d9199" stroke-width="0.7" opacity="0.70"/>
<path d="M166.0 590.4 L165.4 591.1 L164.6 591.0 L164.4 590.5 L164.8 589.6 L165.5 589.4Z" fill="#a4a8af" stroke="#8d9199" stroke-width="0.7" opacity="0.75"/>
<path d="M176.1 589.1 L175.5 589.8 L174.7 589.8 L174.1 589.0 L174.5 588.1 L175.4 588.5Z" fill="#a4a8af" stroke="#8d9199" stroke-width="0.7" opacity="0.75"/>
<path d="M155.9 590.4 L155.4 591.3 L154.3 591.2 L154.1 590.1 L154.5 589.9 L155.4 589.7Z" fill="#a4a8af" stroke="#8d9199" stroke-width="0.7" opacity="0.75"/>
<path d="M280.9 614.8 L278.3 617.0 L276.1 616.6 L275.5 614.8 L276.8 611.3 L278.6 612.8Z" fill="#c3beb3" stroke="#8d9199" stroke-width="0.7" opacity="0.70"/>
<path d="M245.2 619.9 L244.5 621.4 L243.2 620.9 L243.0 620.6 L243.7 619.0 L244.5 619.0Z" fill="#c3beb3" stroke="#8d9199" stroke-width="0.7" opacity="0.70"/>
<path d="M193.2 619.8 L192.0 623.1 L188.0 622.1 L188.0 620.7 L188.8 617.9 L191.1 618.8Z" fill="#c3beb3" stroke="#8d9199" stroke-width="0.7" opacity="0.70"/>
<path d="M188.6 625.4 L187.7 626.1 L186.7 626.1 L186.6 625.6 L186.9 624.4 L188.2 624.5Z" fill="#a4a8af" stroke="#8d9199" stroke-width="0.7" opacity="0.75"/>
<path d="M273.6 591.5 L273.6 592.8 L271.8 593.0 L271.6 592.0 L272.2 590.1 L273.6 590.5Z" fill="#c3beb3" stroke="#8d9199" stroke-width="0.7" opacity="0.70"/>
<path d="M285.7 585.6 L285.0 586.1 L282.8 586.5 L281.7 585.3 L282.9 584.4 L284.8 584.7Z" fill="#c3beb3" stroke="#8d9199" stroke-width="0.7" opacity="0.70"/>
<path d="M305.1 611.5 L304.5 612.7 L303.7 612.9 L302.6 611.1 L303.2 610.9 L304.8 610.7Z" fill="#c3beb3" stroke="#8d9199" stroke-width="0.7" opacity="0.70"/>
<path d="M265.0 595.6 L264.4 596.1 L263.2 596.1 L262.5 595.1 L263.5 594.5 L265.0 594.6Z" fill="#a4a8af" stroke="#8d9199" stroke-width="0.7" opacity="0.75"/>
<path d="M235.8 646.8 L235.4 647.7 L234.6 647.6 L234.1 646.1 L234.9 645.6 L235.4 645.5Z" fill="#a4a8af" stroke="#8d9199" stroke-width="0.7" opacity="0.75"/>
<path d="M173.4 684.0 L172.9 685.0 L172.4 684.9 L171.7 684.3 L172.4 683.6 L172.6 683.6Z" fill="#a4a8af" stroke="#8d9199" stroke-width="0.7" opacity="0.75"/>
<path d="M173.3 690.6 L172.7 691.0 L171.9 691.0 L171.8 690.7 L172.2 690.0 L173.0 690.0Z" fill="#a4a8af" stroke="#8d9199" stroke-width="0.7" opacity="0.75"/>
<path d="M323.5 569.3 L323.3 570.1 L322.0 570.7 L321.8 569.5 L322.3 567.2 L322.9 567.6Z" fill="#c3beb3" stroke="#8d9199" stroke-width="0.7" opacity="0.70"/>
<path d="M346.2 538.0 L345.4 538.6 L344.8 538.8 L344.3 537.7 L345.0 536.8 L345.6 536.9Z" fill="#a4a8af" stroke="#8d9199" stroke-width="0.7" opacity="0.75"/>
<path d="M358.5 551.8 L358.2 552.3 L357.1 552.0 L356.7 551.4 L357.6 550.9 L357.9 550.8Z" fill="#a4a8af" stroke="#8d9199" stroke-width="0.7" opacity="0.75"/>
<path d="M155.5 599.1 L155.3 599.9 L154.9 600.1 L154.2 599.1 L154.8 598.5 L155.2 598.6Z" fill="#a4a8af" stroke="#8d9199" stroke-width="0.7" opacity="0.75"/>
<path d="M300.8 588.9 L300.3 589.7 L300.0 590.0 L299.6 589.1 L299.5 588.4 L300.7 588.6Z" fill="#a4a8af" stroke="#8d9199" stroke-width="0.7" opacity="0.75"/>
<path d="M292.3 590.0 L291.8 591.2 L290.9 591.0 L290.6 590.4 L291.1 589.7 L291.8 589.8Z" fill="#a4a8af" stroke="#8d9199" stroke-width="0.7" opacity="0.75"/>
<path d="M252.0 590.1 L252.1 590.9 L251.1 590.9 L250.5 590.7 L250.7 589.7 L251.9 589.8Z" fill="#a4a8af" stroke="#8d9199" stroke-width="0.7" opacity="0.75"/>
<path d="M229.9 597.4 L229.3 599.1 L228.6 599.2 L228.1 597.1 L228.5 594.6 L229.3 594.5Z" fill="#c3beb3" stroke="#8d9199" stroke-width="0.7" opacity="0.70"/>
<path d="M366.1 540.9 L365.3 543.6 L361.1 544.5 L359.1 542.3 L360.9 540.0 L363.3 539.5Z" fill="#c3beb3" stroke="#8d9199" stroke-width="0.7" opacity="0.70"/>
<path d="M383.4 534.2 L383.3 535.5 L381.0 535.6 L378.7 534.8 L380.2 531.7 L381.7 532.7Z" fill="#c3beb3" stroke="#8d9199" stroke-width="0.7" opacity="0.70"/>
<path d="M393.6 544.0 L393.1 544.9 L391.7 545.2 L391.7 544.0 L392.0 543.1 L393.3 543.0Z" fill="#c3beb3" stroke="#8d9199" stroke-width="0.7" opacity="0.70"/>
<path d="M358.7 554.2 L358.1 554.7 L356.7 554.9 L356.7 553.8 L357.4 553.1 L358.2 553.5Z" fill="#a4a8af" stroke="#8d9199" stroke-width="0.7" opacity="0.75"/>
<path d="M373.2 553.0 L373.1 553.6 L372.3 553.6 L371.7 553.1 L372.4 552.1 L372.8 552.2Z" fill="#a4a8af" stroke="#8d9199" stroke-width="0.7" opacity="0.75"/>
<path d="M382.1 555.8 L382.1 556.7 L381.3 556.6 L380.7 556.0 L380.9 555.7 L381.6 555.1Z" fill="#a4a8af" stroke="#8d9199" stroke-width="0.7" opacity="0.75"/>
<path d="M407.1 555.4 L406.9 555.9 L405.8 556.1 L405.8 555.5 L406.2 554.5 L406.7 554.5Z" fill="#a4a8af" stroke="#8d9199" stroke-width="0.7" opacity="0.75"/>
<path d="M324.0 568.3 L322.9 570.1 L321.3 569.2 L321.4 567.9 L321.6 566.4 L323.1 566.3Z" fill="#c3beb3" stroke="#8d9199" stroke-width="0.7" opacity="0.70"/>
<path d="M299.8 588.7 L299.2 589.5 L298.6 590.2 L297.7 588.8 L298.4 588.0 L299.1 588.3Z" fill="#a4a8af" stroke="#8d9199" stroke-width="0.7" opacity="0.75"/>
<path d="M306.2 613.1 L306.1 613.7 L304.1 613.7 L304.1 613.1 L303.9 611.9 L305.8 611.5Z" fill="#c3beb3" stroke="#8d9199" stroke-width="0.7" opacity="0.70"/>
<path d="M345.6 537.9 L345.6 538.3 L344.9 538.6 L344.0 537.3 L344.4 536.9 L345.4 537.3Z" fill="#a4a8af" stroke="#8d9199" stroke-width="0.7" opacity="0.75"/>
<path d="M372.1 543.0 L371.8 543.5 L371.2 543.4 L370.3 543.0 L371.0 541.8 L371.9 542.0Z" fill="#a4a8af" stroke="#8d9199" stroke-width="0.7" opacity="0.75"/>
<path d="M293.5 590.3 L292.7 590.9 L292.4 590.9 L291.7 590.5 L292.3 589.7 L292.9 589.8Z" fill="#a4a8af" stroke="#8d9199" stroke-width="0.7" opacity="0.75"/>
<path d="M345.0 537.5 L344.5 538.2 L343.4 538.0 L343.3 537.4 L343.7 536.5 L344.7 535.9Z" fill="#a4a8af" stroke="#8d9199" stroke-width="0.7" opacity="0.75"/>
<path d="M357.6 537.5 L357.0 537.8 L356.1 538.2 L355.7 536.9 L356.0 536.7 L357.0 536.5Z" fill="#a4a8af" stroke="#8d9199" stroke-width="0.7" opacity="0.75"/>
<path d="M364.2 540.0 L363.8 541.0 L362.1 541.0 L361.7 539.9 L362.6 539.1 L363.4 539.0Z" fill="#c3beb3" stroke="#8d9199" stroke-width="0.7" opacity="0.70"/>
<path d="M367.2 544.4 L366.6 545.4 L365.1 545.6 L364.2 544.7 L364.4 543.7 L367.0 543.8Z" fill="#c3beb3" stroke="#8d9199" stroke-width="0.7" opacity="0.70"/>
<path d="M373.4 542.8 L373.0 543.6 L372.8 543.6 L372.3 542.8 L372.3 542.3 L373.3 542.5Z" fill="#a4a8af" stroke="#8d9199" stroke-width="0.7" opacity="0.75"/>
<path d="M367.9 531.7 L367.3 532.0 L366.7 532.0 L366.5 531.6 L366.8 530.6 L367.3 530.6Z" fill="#a4a8af" stroke="#8d9199" stroke-width="0.7" opacity="0.75"/>
<path d="M378.0 531.4 L377.6 532.4 L377.0 532.4 L376.6 531.3 L377.1 530.8 L377.6 530.6Z" fill="#a4a8af" stroke="#8d9199" stroke-width="0.7" opacity="0.75"/>
<path d="M357.7 553.1 L357.2 553.3 L356.8 553.4 L356.8 553.0 L356.8 552.6 L357.5 552.3Z" fill="#a4a8af" stroke="#8d9199" stroke-width="0.7" opacity="0.75"/>
<path d="M372.7 552.9 L372.3 553.6 L371.9 553.5 L371.5 552.8 L371.8 552.5 L372.4 552.6Z" fill="#a4a8af" stroke="#8d9199" stroke-width="0.7" opacity="0.75"/>
<path d="M381.3 555.6 L380.9 556.3 L380.5 556.5 L380.3 555.8 L380.6 555.1 L381.3 555.4Z" fill="#a4a8af" stroke="#8d9199" stroke-width="0.7" opacity="0.75"/>
<path d="M392.9 544.1 L392.6 545.6 L391.9 545.1 L391.1 544.7 L391.9 543.7 L392.3 543.7Z" fill="#a4a8af" stroke="#8d9199" stroke-width="0.7" opacity="0.75"/>
<path d="M407.7 555.8 L407.5 556.1 L407.0 556.2 L406.7 556.0 L407.2 555.5 L407.3 555.4Z" fill="#a4a8af" stroke="#8d9199" stroke-width="0.7" opacity="0.75"/>
<path d="M426.3 515.1 L426.1 515.4 L425.5 515.4 L425.5 515.1 L425.6 514.7 L426.2 514.7Z" fill="#a4a8af" stroke="#8d9199" stroke-width="0.7" opacity="0.75"/>
<path d="M372.3 523.0 L371.5 523.4 L371.3 523.5 L370.8 522.7 L370.9 522.5 L372.0 522.5Z" fill="#a4a8af" stroke="#8d9199" stroke-width="0.7" opacity="0.75"/>
<path d="M398.7 535.6 L398.3 536.4 L397.0 536.5 L396.1 535.8 L396.9 534.9 L398.4 535.3Z" fill="#a4a8af" stroke="#8d9199" stroke-width="0.7" opacity="0.75"/>
<path d="M408.4 522.8 L408.5 523.4 L407.5 523.4 L407.4 523.0 L407.6 522.3 L408.2 522.6Z" fill="#a4a8af" stroke="#8d9199" stroke-width="0.7" opacity="0.75"/>
<path d="M382.8 535.9 L382.6 536.6 L382.1 536.7 L381.4 536.0 L382.0 535.0 L382.4 535.0Z" fill="#a4a8af" stroke="#8d9199" stroke-width="0.7" opacity="0.75"/>
<path d="M390.7 537.2 L390.4 537.6 L389.9 537.6 L389.3 537.1 L389.8 536.9 L390.3 536.8Z" fill="#a4a8af" stroke="#8d9199" stroke-width="0.7" opacity="0.75"/>
<path d="M163.0 669.2 L163.7 667.6 L164.1 665.9 L164.5 664.2 L165.4 662.8 L166.6 661.7 L167.5 660.4 L168.5 659.2 L170.3 658.9 L171.5 658.0 L172.5 656.7 L174.3 656.0 L175.6 654.3 L177.5 653.7 L179.4 653.0 L180.6 651.1 L182.5 650.4 L184.1 649.5 L185.9 648.8 L187.5 647.9 L189.2 647.7 L190.5 646.4 L192.4 646.5 L193.8 645.4 L195.4 644.8 L196.8 643.8 L198.7 643.9 L200.1 642.9 L201.9 642.1 L203.9 642.3 L205.7 641.5 L207.6 641.1 L209.4 640.7 L211.4 641.2 L213.2 640.5 L215.1 640.4 L216.6 640.6 L218.2 640.8 L219.7 640.9 L221.3 640.6 L223.1 640.6 L224.5 641.9 L226.3 642.1 L227.3 643.3 L229.1 643.4 L230.1 644.6 L230.6 646.0 L231.2 647.4 L232.1 648.6 L232.7 650.0 L232.6 651.4 L232.6 652.9 L232.3 654.6 L231.9 656.3 L231.3 657.9 L230.7 659.7 L229.8 661.3 L228.8 662.9 L227.4 664.0 L226.7 665.8 L225.1 666.7 L223.6 668.0 L221.6 668.5 L220.1 669.7 L218.5 670.2 L216.9 670.8 L215.4 671.5 L213.8 672.2 L212.3 672.7 L210.8 673.6 L209.1 673.7 L207.6 674.2 L205.7 674.4 L203.9 675.0 L201.9 674.7 L200.1 675.4 L198.2 675.3 L196.4 676.0 L194.5 676.2 L192.6 676.2 L190.7 676.3 L188.8 676.8 L186.9 676.9 L185.0 677.2 L183.5 677.6 L182.0 678.3 L180.4 678.7 L178.8 678.7 L177.2 679.2 L175.5 679.7 L173.8 679.7 L172.4 679.0 L170.8 679.5 L169.5 678.7 L168.7 677.5 L167.4 677.0 L166.3 676.2 L165.8 674.9 L164.8 673.9 L163.8 672.9 L163.7 671.6 L163.3 670.4Z" fill="#fee9b6" stroke="#a0977f" stroke-width="1"/>
<text transform="translate(224.76 169.80) scale(0.1839 0.1972)" font-size="100" font-weight="400" fill="#2f2b26" stroke="#2f2b26" stroke-width="3.4">3.06</text>
<text transform="translate(262.53 169.86) scale(0.1185 0.1371)" font-size="100" font-weight="400" fill="#51462f" stroke="#51462f" stroke-width="4">%</text>
<rect x="234.0" y="175.8" width="29.0" height="15.8" rx="3.4" ry="3.4" fill="#623819" stroke="none"/>
<text transform="translate(238.36 188.35) scale(0.1109 0.1226)" font-size="100" font-weight="500" fill="#ffffff" >서울</text>
<text transform="translate(174.10 225.30) scale(0.1808 0.1972)" font-size="100" font-weight="400" fill="#2f2b26" stroke="#2f2b26" stroke-width="3.4">2.37</text>
<text transform="translate(211.28 225.36) scale(0.1185 0.1371)" font-size="100" font-weight="400" fill="#51462f" stroke="#51462f" stroke-width="4">%</text>
<rect x="184.0" y="230.8" width="29.0" height="16.3" rx="3.4" ry="3.4" fill="#623819" stroke="none"/>
<text transform="translate(188.11 243.81) scale(0.1148 0.1267)" font-size="100" font-weight="500" fill="#ffffff" >인천</text>
<text transform="translate(264.76 227.30) scale(0.1851 0.1972)" font-size="100" font-weight="400" fill="#2f2b26" stroke="#2f2b26" stroke-width="3.4">3.11</text>
<text transform="translate(301.28 227.36) scale(0.1185 0.1371)" font-size="100" font-weight="400" fill="#51462f" stroke="#51462f" stroke-width="4">%</text>
<rect x="274.0" y="234.6" width="29.0" height="15.8" rx="3.4" ry="3.4" fill="#623819" stroke="none"/>
<text transform="translate(278.10 247.10) scale(0.1169 0.1226)" font-size="100" font-weight="500" fill="#ffffff" >경기</text>
<text transform="translate(330.86 176.05) scale(0.1781 0.1972)" font-size="100" font-weight="400" fill="#2f2b26" stroke="#2f2b26" stroke-width="3.4">2.28</text>
<text transform="translate(367.53 176.11) scale(0.1185 0.1371)" font-size="100" font-weight="400" fill="#51462f" stroke="#51462f" stroke-width="4">%</text>
<rect x="340.8" y="185.1" width="28.5" height="15.3" rx="3.4" ry="3.4" fill="#623819" stroke="none"/>
<text transform="translate(344.73 197.45) scale(0.1148 0.1253)" font-size="100" font-weight="500" fill="#ffffff" >강원</text>
<text transform="translate(315.86 272.30) scale(0.1781 0.1972)" font-size="100" font-weight="400" fill="#2f2b26" stroke="#2f2b26" stroke-width="3.4">2.23</text>
<text transform="translate(352.53 272.36) scale(0.1185 0.1371)" font-size="100" font-weight="400" fill="#51462f" stroke="#51462f" stroke-width="4">%</text>
<rect x="324.5" y="275.9" width="28.5" height="16.3" rx="3.4" ry="3.4" fill="#623819" stroke="none"/>
<text transform="translate(328.49 288.60) scale(0.1115 0.1226)" font-size="100" font-weight="500" fill="#ffffff" >충북</text>
<text transform="translate(248.04 291.05) scale(0.1772 0.1972)" font-size="100" font-weight="400" fill="#2f2b26" stroke="#2f2b26" stroke-width="3.4">3.25</text>
<text transform="translate(284.53 291.11) scale(0.1185 0.1371)" font-size="100" font-weight="400" fill="#51462f" stroke="#51462f" stroke-width="4">%</text>
<rect x="257.0" y="295.9" width="29.2" height="16.3" rx="3.4" ry="3.4" fill="#623819" stroke="none"/>
<text transform="translate(261.59 308.60) scale(0.1102 0.1226)" font-size="100" font-weight="500" fill="#ffffff" >세종</text>
<text transform="translate(208.36 330.30) scale(0.1781 0.1972)" font-size="100" font-weight="400" fill="#2f2b26" stroke="#2f2b26" stroke-width="3.4">2.03</text>
<text transform="translate(245.03 330.36) scale(0.1185 0.1371)" font-size="100" font-weight="400" fill="#51462f" stroke="#51462f" stroke-width="4">%</text>
<rect x="217.5" y="334.6" width="29.2" height="15.8" rx="3.4" ry="3.4" fill="#623819" stroke="none"/>
<text transform="translate(221.87 347.10) scale(0.1102 0.1226)" font-size="100" font-weight="500" fill="#ffffff" >충남</text>
<text transform="translate(274.58 337.80) scale(0.1849 0.1972)" font-size="100" font-weight="400" fill="#2f2b26" stroke="#2f2b26" stroke-width="3.4">2.57</text>
<text transform="translate(312.53 337.86) scale(0.1185 0.1371)" font-size="100" font-weight="400" fill="#51462f" stroke="#51462f" stroke-width="4">%</text>
<rect x="283.2" y="341.6" width="29.2" height="15.8" rx="3.4" ry="3.4" fill="#623819" stroke="none"/>
<text transform="translate(287.25 354.08) scale(0.1162 0.1239)" font-size="100" font-weight="500" fill="#ffffff" >대전</text>
<text transform="translate(384.11 332.30) scale(0.1742 0.2000)" font-size="100" font-weight="400" fill="#2f2b26" stroke="#2f2b26" stroke-width="3.4">1.75</text>
<text transform="translate(420.03 332.36) scale(0.1185 0.1371)" font-size="100" font-weight="400" fill="#51462f" stroke="#51462f" stroke-width="4">%</text>
<rect x="391.5" y="337.1" width="29.0" height="15.8" rx="3.4" ry="3.4" fill="#623819" stroke="none"/>
<text transform="translate(395.63 349.58) scale(0.1121 0.1239)" font-size="100" font-weight="500" fill="#ffffff" >경북</text>
<text transform="translate(366.60 386.05) scale(0.1808 0.1972)" font-size="100" font-weight="400" fill="#2f2b26" stroke="#2f2b26" stroke-width="3.4">2.55</text>
<text transform="translate(403.78 386.11) scale(0.1185 0.1371)" font-size="100" font-weight="400" fill="#51462f" stroke="#51462f" stroke-width="4">%</text>
<rect x="375.0" y="390.9" width="29.2" height="15.8" rx="3.4" ry="3.4" fill="#623819" stroke="none"/>
<text transform="translate(379.02 403.33) scale(0.1135 0.1239)" font-size="100" font-weight="500" fill="#ffffff" >대구</text>
<text transform="translate(247.11 420.30) scale(0.1781 0.1972)" font-size="100" font-weight="400" fill="#2f2b26" stroke="#2f2b26" stroke-width="3.4">2.18</text>
<text transform="translate(283.78 420.36) scale(0.1185 0.1371)" font-size="100" font-weight="400" fill="#51462f" stroke="#51462f" stroke-width="4">%</text>
<rect x="256.5" y="425.9" width="29.0" height="15.8" rx="3.4" ry="3.4" fill="#623819" stroke="none"/>
<text transform="translate(260.74 438.33) scale(0.1115 0.1239)" font-size="100" font-weight="500" fill="#ffffff" >전북</text>
<text transform="translate(205.86 476.25) scale(0.1781 0.2000)" font-size="100" font-weight="400" fill="#2f2b26" stroke="#2f2b26" stroke-width="3.4">2.27</text>
<text transform="translate(242.53 476.11) scale(0.1185 0.1371)" font-size="100" font-weight="400" fill="#51462f" stroke="#51462f" stroke-width="4">%</text>
<rect x="215.0" y="482.1" width="29.2" height="15.8" rx="3.4" ry="3.4" fill="#623819" stroke="none"/>
<text transform="translate(219.48 494.58) scale(0.1109 0.1239)" font-size="100" font-weight="500" fill="#ffffff" >광주</text>
<text transform="translate(254.59 495.30) scale(0.1822 0.1972)" font-size="100" font-weight="400" fill="#2f2b26" stroke="#2f2b26" stroke-width="3.4">2.67</text>
<text transform="translate(292.03 495.36) scale(0.1185 0.1371)" font-size="100" font-weight="400" fill="#51462f" stroke="#51462f" stroke-width="4">%</text>
<rect x="263.2" y="500.9" width="29.2" height="16.3" rx="3.4" ry="3.4" fill="#623819" stroke="none"/>
<text transform="translate(267.62 513.81) scale(0.1102 0.1267)" font-size="100" font-weight="500" fill="#ffffff" >전남</text>
<text transform="translate(330.30 460.55) scale(0.1810 0.1972)" font-size="100" font-weight="400" fill="#2f2b26" stroke="#2f2b26" stroke-width="3.4">1.76</text>
<text transform="translate(367.53 460.61) scale(0.1185 0.1371)" font-size="100" font-weight="400" fill="#51462f" stroke="#51462f" stroke-width="4">%</text>
<rect x="337.0" y="466.6" width="29.0" height="16.3" rx="3.4" ry="3.4" fill="#623819" stroke="none"/>
<text transform="translate(341.13 479.45) scale(0.1109 0.1253)" font-size="100" font-weight="500" fill="#ffffff" >경남</text>
<text transform="translate(399.59 467.80) scale(0.1822 0.1972)" font-size="100" font-weight="400" fill="#2f2b26" stroke="#2f2b26" stroke-width="3.4">2.75</text>
<text transform="translate(437.03 467.86) scale(0.1185 0.1371)" font-size="100" font-weight="400" fill="#51462f" stroke="#51462f" stroke-width="4">%</text>
<rect x="410.8" y="473.4" width="29.2" height="16.3" rx="3.4" ry="3.4" fill="#623819" stroke="none"/>
<text transform="translate(415.12 486.10) scale(0.1102 0.1226)" font-size="100" font-weight="500" fill="#ffffff" >부산</text>
<text transform="translate(435.85 422.50) scale(0.1808 0.2000)" font-size="100" font-weight="400" fill="#2f2b26" stroke="#2f2b26" stroke-width="3.4">2.12</text>
<text transform="translate(473.03 422.36) scale(0.1185 0.1371)" font-size="100" font-weight="400" fill="#51462f" stroke="#51462f" stroke-width="4">%</text>
<rect x="444.5" y="427.6" width="29.2" height="16.6" rx="3.4" ry="3.4" fill="#623819" stroke="none"/>
<text transform="translate(448.87 440.58) scale(0.1102 0.1239)" font-size="100" font-weight="500" fill="#ffffff" >울산</text>
<text transform="translate(173.56 647.55) scale(0.1797 0.1972)" font-size="100" font-weight="400" fill="#2f2b26" stroke="#2f2b26" stroke-width="3.4">1.89</text>
<text transform="translate(210.53 647.61) scale(0.1185 0.1371)" font-size="100" font-weight="400" fill="#51462f" stroke="#51462f" stroke-width="4">%</text>
<rect x="180.8" y="652.4" width="29.8" height="16.6" rx="3.4" ry="3.4" fill="#623819" stroke="none"/>
<text transform="translate(185.48 665.22) scale(0.1109 0.1226)" font-size="100" font-weight="500" fill="#ffffff" >제주</text>
<text transform="translate(413.61 609.40) scale(0.0646 0.0700)" font-size="100" font-weight="400" fill="#666" >연간누계, %</text>
<rect x="414.3" y="616.6" width="25.2" height="8.4" fill="#fffcd6" stroke="#e9dcc0" stroke-width="0.5"/>
<text transform="translate(442.76 623.50) scale(0.0600 0.0700)" font-size="100" font-weight="400" fill="#666" >0.0~1.0 이하</text>
<rect x="414.3" y="628.4" width="25.2" height="8.4" fill="#fee9b6" stroke="#e9dcc0" stroke-width="0.5"/>
<text transform="translate(442.48 635.25) scale(0.0648 0.0700)" font-size="100" font-weight="400" fill="#666" >1.0~2.0</text>
<rect x="414.3" y="640.1" width="25.2" height="8.4" fill="#fdcc77" stroke="#fdcc77" stroke-width="0.5"/>
<text transform="translate(442.68 647.00) scale(0.0642 0.0700)" font-size="100" font-weight="400" fill="#666" >2.0~3.0</text>
<rect x="414.3" y="651.9" width="25.2" height="8.4" fill="#ffa400" stroke="#ffa400" stroke-width="0.5"/>
<text transform="translate(442.74 658.75) scale(0.0640 0.0700)" font-size="100" font-weight="400" fill="#666" >3.0~4.0</text>
<rect x="414.3" y="663.6" width="25.2" height="8.4" fill="#f07c00" stroke="#f07c00" stroke-width="0.5"/>
<text transform="translate(442.87 670.50) scale(0.0636 0.0700)" font-size="100" font-weight="400" fill="#666" >4.0~5.0</text>
<rect x="414.3" y="675.4" width="25.2" height="8.4" fill="#ff3300" stroke="#ff3300" stroke-width="0.5"/>
<text transform="translate(442.77 682.25) scale(0.0569 0.0700)" font-size="100" font-weight="400" fill="#666" >5.0 초과</text>
</g>
<g id="p1">
<rect x="506" y="72.5" width="327" height="119.5" fill="#ffffff" stroke="#e0e0e0" stroke-width="1"/>
<rect x="514" y="148.6" width="313" height="1" fill="#bdbdbd"/>
<rect x="611.6" y="145.5" width="0.9" height="3.5" fill="#bdbdbd"/>
<rect x="726.6" y="145.5" width="0.9" height="3.5" fill="#bdbdbd"/>
<rect x="521.2" y="105.8" width="68.0" height="43.0" fill="#9a3fb3"/>
<rect x="579.6" y="105.8" width="9.6" height="43.0" fill="#7c2f9c"/>
<text transform="translate(541.19 101.04) scale(0.1411 0.1563)" font-size="100" font-weight="400" fill="#333" stroke="#333" stroke-width="2.5">2.73</text>
<text transform="translate(539.33 179.47) scale(0.1736 0.2033)" font-size="100" font-weight="500" fill="#262626" stroke="#262626" stroke-width="1">전국</text>
<rect x="636.2" y="101.2" width="68.0" height="47.6" fill="#0072c6"/>
<rect x="694.6" y="101.2" width="9.6" height="47.6" fill="#0560a8"/>
<text transform="translate(656.64 97.24) scale(0.1398 0.1563)" font-size="100" font-weight="400" fill="#333" stroke="#333" stroke-width="2.5">3.03</text>
<text transform="translate(645.91 179.47) scale(0.1771 0.2033)" font-size="100" font-weight="500" fill="#262626" stroke="#262626" stroke-width="1">수도권</text>
<rect x="751.5" y="113.4" width="67.5" height="35.4" fill="#92d050"/>
<rect x="809.4" y="113.4" width="9.6" height="35.4" fill="#7fbf3c"/>
<text transform="translate(770.89 111.20) scale(0.1422 0.1586)" font-size="100" font-weight="400" fill="#333" stroke="#333" stroke-width="2.5">2.24</text>
<text transform="translate(768.33 179.47) scale(0.1750 0.2033)" font-size="100" font-weight="500" fill="#262626" stroke="#262626" stroke-width="1">지방</text>
</g>
<g id="p2">
<rect x="506" y="204.5" width="327" height="228.5" fill="#ffffff" stroke="#e0e0e0" stroke-width="1"/>
<rect x="506.5" y="205" width="326" height="29" fill="url(#gTitle)"/>
<text transform="translate(517.04 227.02) scale(0.1435 0.1753)" font-size="100" font-weight="500" fill="#333" >연도별 전국 지가변동률</text>
<text transform="translate(777.69 225.05) scale(0.1191 0.1308)" font-size="100" font-weight="400" fill="#444" >(누계, %)</text>
<rect x="534.6" y="254" width="0.9" height="153.5" fill="#c9c9c9"/>
<rect x="534.6" y="407" width="289" height="0.9" fill="#c9c9c9"/>
<text transform="translate(515.94 411.61) scale(0.0908 0.0901)" font-size="100" font-weight="400" fill="#444" >0.0</text>
<text transform="translate(515.55 380.76) scale(0.0937 0.0901)" font-size="100" font-weight="400" fill="#444" >1.0</text>
<text transform="translate(515.84 349.91) scale(0.0915 0.0901)" font-size="100" font-weight="400" fill="#444" >2.0</text>
<text transform="translate(515.94 319.06) scale(0.0908 0.0901)" font-size="100" font-weight="400" fill="#444" >3.0</text>
<text transform="translate(516.12 288.21) scale(0.0895 0.0901)" font-size="100" font-weight="400" fill="#444" >4.0</text>
<text transform="translate(515.94 257.36) scale(0.0908 0.0901)" font-size="100" font-weight="400" fill="#444" >5.0</text>
<rect x="539.40" y="377.68" width="10.3" height="29.62" fill="#00a84f"/>
<text transform="translate(537.32 371.69) scale(0.0941 0.0944)" font-size="100" font-weight="400" fill="#3c3c3c" stroke="#3c3c3c" stroke-width="3">0.96</text>
<text transform="translate(538.68 422.21) scale(0.0934 0.0915)" font-size="100" font-weight="400" fill="#444" stroke="#444" stroke-width="1.5">'09</text>
<rect x="560.04" y="374.91" width="10.3" height="32.39" fill="#00a84f"/>
<text transform="translate(557.57 368.91) scale(0.0962 0.0944)" font-size="100" font-weight="400" fill="#3c3c3c" stroke="#3c3c3c" stroke-width="3">1.05</text>
<text transform="translate(559.32 422.21) scale(0.0934 0.0915)" font-size="100" font-weight="400" fill="#444" stroke="#444" stroke-width="1.5">'10</text>
<rect x="580.68" y="371.21" width="10.3" height="36.09" fill="#00a84f"/>
<text transform="translate(578.21 365.31) scale(0.0962 0.0971)" font-size="100" font-weight="400" fill="#3c3c3c" stroke="#3c3c3c" stroke-width="3">1.17</text>
<text transform="translate(579.93 422.30) scale(0.1000 0.0942)" font-size="100" font-weight="400" fill="#444" stroke="#444" stroke-width="1.5">'11</text>
<rect x="601.32" y="377.68" width="10.3" height="29.62" fill="#00a84f"/>
<text transform="translate(599.24 371.69) scale(0.0941 0.0944)" font-size="100" font-weight="400" fill="#3c3c3c" stroke="#3c3c3c" stroke-width="3">0.96</text>
<text transform="translate(600.60 422.30) scale(0.0942 0.0929)" font-size="100" font-weight="400" fill="#444" stroke="#444" stroke-width="1.5">'12</text>
<rect x="621.96" y="372.13" width="10.3" height="35.17" fill="#00a84f"/>
<text transform="translate(619.50 366.23) scale(0.0951 0.0971)" font-size="100" font-weight="400" fill="#3c3c3c" stroke="#3c3c3c" stroke-width="3">1.14</text>
<text transform="translate(621.24 422.21) scale(0.0934 0.0915)" font-size="100" font-weight="400" fill="#444" stroke="#444" stroke-width="1.5">'13</text>
<rect x="642.60" y="346.83" width="10.3" height="60.47" fill="#00a84f"/>
<text transform="translate(640.13 340.84) scale(0.0962 0.0944)" font-size="100" font-weight="400" fill="#3c3c3c" stroke="#3c3c3c" stroke-width="3">1.96</text>
<text transform="translate(641.89 422.30) scale(0.0926 0.0942)" font-size="100" font-weight="400" fill="#444" stroke="#444" stroke-width="1.5">'14</text>
<rect x="663.24" y="333.26" width="10.3" height="74.04" fill="#00a84f"/>
<text transform="translate(661.07 327.27) scale(0.0941 0.0944)" font-size="100" font-weight="400" fill="#3c3c3c" stroke="#3c3c3c" stroke-width="3">2.40</text>
<text transform="translate(662.52 422.21) scale(0.0934 0.0929)" font-size="100" font-weight="400" fill="#444" stroke="#444" stroke-width="1.5">'15</text>
<rect x="683.88" y="324.00" width="10.3" height="83.30" fill="#00a84f"/>
<text transform="translate(681.71 318.01) scale(0.0941 0.0944)" font-size="100" font-weight="400" fill="#3c3c3c" stroke="#3c3c3c" stroke-width="3">2.70</text>
<text transform="translate(683.16 422.21) scale(0.0934 0.0915)" font-size="100" font-weight="400" fill="#444" stroke="#444" stroke-width="1.5">'16</text>
<rect x="704.52" y="287.60" width="10.3" height="119.70" fill="#00a84f"/>
<text transform="translate(702.44 281.61) scale(0.0941 0.0944)" font-size="100" font-weight="400" fill="#3c3c3c" stroke="#3c3c3c" stroke-width="3">3.88</text>
<text transform="translate(703.80 422.30) scale(0.0942 0.0942)" font-size="100" font-weight="400" fill="#444" stroke="#444" stroke-width="1.5">'17</text>
<rect x="725.16" y="266.01" width="10.3" height="141.29" fill="#00a84f"/>
<text transform="translate(723.27 260.01) scale(0.0931 0.0944)" font-size="100" font-weight="400" fill="#3c3c3c" stroke="#3c3c3c" stroke-width="3">4.58</text>
<text transform="translate(724.44 422.21) scale(0.0934 0.0915)" font-size="100" font-weight="400" fill="#444" stroke="#444" stroke-width="1.5">'18</text>
<rect x="745.80" y="286.37" width="10.3" height="120.93" fill="#00a84f"/>
<text transform="translate(743.72 280.37) scale(0.0941 0.0944)" font-size="100" font-weight="400" fill="#3c3c3c" stroke="#3c3c3c" stroke-width="3">3.92</text>
<text transform="translate(745.08 422.21) scale(0.0934 0.0915)" font-size="100" font-weight="400" fill="#444" stroke="#444" stroke-width="1.5">'19</text>
<rect x="766.44" y="293.77" width="10.3" height="113.53" fill="#00a84f"/>
<text transform="translate(764.36 287.78) scale(0.0941 0.0944)" font-size="100" font-weight="400" fill="#3c3c3c" stroke="#3c3c3c" stroke-width="3">3.68</text>
<text transform="translate(765.72 422.21) scale(0.0934 0.0915)" font-size="100" font-weight="400" fill="#444" stroke="#444" stroke-width="1.5">'20</text>
<rect x="787.08" y="278.66" width="10.3" height="128.64" fill="#00a84f"/>
<text transform="translate(785.19 272.76) scale(0.0931 0.0971)" font-size="100" font-weight="400" fill="#3c3c3c" stroke="#3c3c3c" stroke-width="3">4.17</text>
<text transform="translate(786.36 422.30) scale(0.0942 0.0929)" font-size="100" font-weight="400" fill="#444" stroke="#444" stroke-width="1.5">'21</text>
<rect x="807.72" y="323.08" width="10.3" height="84.22" fill="#ff0000"/>
<text transform="translate(803.65 317.09) scale(0.0946 0.0944)" font-size="100" font-weight="400" fill="#3c3c3c" stroke="#3c3c3c" stroke-width="3">2.73</text>
<text transform="translate(807.00 422.30) scale(0.0942 0.0929)" font-size="100" font-weight="400" fill="#444" stroke="#444" stroke-width="1.5">'22</text>
</g>
<g id="p3">
<rect x="506" y="445.5" width="327" height="248.5" fill="#ffffff" stroke="#e0e0e0" stroke-width="1"/>
<rect x="506.5" y="446" width="326" height="29.5" fill="url(#gTitle)"/>
<text transform="translate(517.04 468.71) scale(0.1434 0.1772)" font-size="100" font-weight="500" fill="#333" >연도별 전국 토지거래량</text>
<text transform="translate(736.89 467.33) scale(0.1185 0.1365)" font-size="100" font-weight="400" fill="#444" >(누계, 필지수(만))</text>
<text transform="translate(518.58 495.80) scale(0.0699 0.0760)" font-size="100" font-weight="400" fill="#666" >(필지수(만))</text>
<line x1="680.8" y1="495" x2="696.5" y2="495" stroke="#9b3fb5" stroke-width="1.8"/>
<circle cx="688.6" cy="495" r="2.3" fill="#fff" stroke="#9b3fb5" stroke-width="1.3"/>
<text transform="translate(699.57 499.27) scale(0.1046 0.1165)" font-size="100" font-weight="400" fill="#333" >전국</text>
<rect x="729" y="493.6" width="14.4" height="2.8" fill="#0072c6"/>
<text transform="translate(747.09 499.27) scale(0.1019 0.1165)" font-size="100" font-weight="400" fill="#333" >수도권</text>
<rect x="785" y="493.6" width="14.4" height="2.8" fill="#92d050"/>
<text transform="translate(803.51 499.27) scale(0.0971 0.1165)" font-size="100" font-weight="400" fill="#333" >지방</text>
<rect x="537" y="516" width="0.9" height="156.5" fill="#c9c9c9"/>
<rect x="537" y="672" width="286.5" height="0.9" fill="#c9c9c9"/>
<text transform="translate(525.22 675.01) scale(0.0958 0.0930)" font-size="100" font-weight="400" fill="#444" >0</text>
<text transform="translate(520.43 655.58) scale(0.0913 0.0930)" font-size="100" font-weight="400" fill="#444" >50</text>
<text transform="translate(514.85 636.16) scale(0.0942 0.0930)" font-size="100" font-weight="400" fill="#444" >100</text>
<text transform="translate(514.85 616.73) scale(0.0942 0.0930)" font-size="100" font-weight="400" fill="#444" >150</text>
<text transform="translate(515.14 597.31) scale(0.0924 0.0930)" font-size="100" font-weight="400" fill="#444" >200</text>
<text transform="translate(515.14 577.88) scale(0.0924 0.0930)" font-size="100" font-weight="400" fill="#444" >250</text>
<text transform="translate(515.23 558.46) scale(0.0918 0.0930)" font-size="100" font-weight="400" fill="#444" >300</text>
<text transform="translate(515.23 539.03) scale(0.0918 0.0930)" font-size="100" font-weight="400" fill="#444" >350</text>
<text transform="translate(515.42 519.61) scale(0.0907 0.0930)" font-size="100" font-weight="400" fill="#444" >400</text>
<rect x="542.40" y="585.53" width="10.3" height="53.88" fill="#92d050"/>
<rect x="542.40" y="639.41" width="10.3" height="32.79" fill="#0072c6"/>
<text transform="translate(541.08 687.51) scale(0.0942 0.0930)" font-size="100" font-weight="400" fill="#444" stroke="#444" stroke-width="1.5">'09</text>
<rect x="562.81" y="591.74" width="10.3" height="54.04" fill="#92d050"/>
<rect x="562.81" y="645.78" width="10.3" height="26.42" fill="#0072c6"/>
<text transform="translate(561.49 687.51) scale(0.0942 0.0930)" font-size="100" font-weight="400" fill="#444" stroke="#444" stroke-width="1.5">'10</text>
<rect x="583.22" y="581.72" width="10.3" height="60.96" fill="#92d050"/>
<rect x="583.22" y="642.67" width="10.3" height="29.53" fill="#0072c6"/>
<text transform="translate(581.87 687.60) scale(0.1009 0.0957)" font-size="100" font-weight="400" fill="#444" stroke="#444" stroke-width="1.5">'11</text>
<rect x="603.63" y="592.75" width="10.3" height="54.20" fill="#92d050"/>
<rect x="603.63" y="646.95" width="10.3" height="25.25" fill="#0072c6"/>
<text transform="translate(602.30 687.60) scale(0.0950 0.0943)" font-size="100" font-weight="400" fill="#444" stroke="#444" stroke-width="1.5">'12</text>
<rect x="624.04" y="585.10" width="10.3" height="58.74" fill="#92d050"/>
<rect x="624.04" y="643.84" width="10.3" height="28.36" fill="#0072c6"/>
<text transform="translate(622.72 687.51) scale(0.0942 0.0930)" font-size="100" font-weight="400" fill="#444" stroke="#444" stroke-width="1.5">'13</text>
<rect x="644.45" y="569.48" width="10.3" height="66.98" fill="#92d050"/>
<rect x="644.45" y="636.46" width="10.3" height="35.74" fill="#0072c6"/>
<text transform="translate(643.13 687.60) scale(0.0934 0.0957)" font-size="100" font-weight="400" fill="#444" stroke="#444" stroke-width="1.5">'14</text>
<rect x="664.86" y="552.27" width="10.3" height="73.31" fill="#92d050"/>
<rect x="664.86" y="625.58" width="10.3" height="46.62" fill="#0072c6"/>
<text transform="translate(663.54 687.51) scale(0.0942 0.0943)" font-size="100" font-weight="400" fill="#444" stroke="#444" stroke-width="1.5">'15</text>
<rect x="685.27" y="555.84" width="10.3" height="67.40" fill="#92d050"/>
<rect x="685.27" y="623.25" width="10.3" height="48.95" fill="#0072c6"/>
<text transform="translate(683.95 687.51) scale(0.0942 0.0930)" font-size="100" font-weight="400" fill="#444" stroke="#444" stroke-width="1.5">'16</text>
<rect x="705.68" y="543.41" width="10.3" height="72.22" fill="#92d050"/>
<rect x="705.68" y="615.63" width="10.3" height="56.57" fill="#0072c6"/>
<text transform="translate(704.35 687.60) scale(0.0950 0.0957)" font-size="100" font-weight="400" fill="#444" stroke="#444" stroke-width="1.5">'17</text>
<rect x="726.09" y="548.42" width="10.3" height="66.28" fill="#92d050"/>
<rect x="726.09" y="614.70" width="10.3" height="57.50" fill="#0072c6"/>
<text transform="translate(724.77 687.51) scale(0.0942 0.0930)" font-size="100" font-weight="400" fill="#444" stroke="#444" stroke-width="1.5">'18</text>
<rect x="746.50" y="559.46" width="10.3" height="61.46" fill="#92d050"/>
<rect x="746.50" y="620.92" width="10.3" height="51.28" fill="#0072c6"/>
<text transform="translate(745.18 687.51) scale(0.0942 0.0930)" font-size="100" font-weight="400" fill="#444" stroke="#444" stroke-width="1.5">'19</text>
<rect x="766.91" y="535.99" width="10.3" height="74.05" fill="#92d050"/>
<rect x="766.91" y="610.04" width="10.3" height="62.16" fill="#0072c6"/>
<text transform="translate(765.59 687.51) scale(0.0942 0.0930)" font-size="100" font-weight="400" fill="#444" stroke="#444" stroke-width="1.5">'20</text>
<rect x="787.32" y="544.11" width="10.3" height="71.76" fill="#92d050"/>
<rect x="787.32" y="615.87" width="10.3" height="56.33" fill="#0072c6"/>
<text transform="translate(785.99 687.60) scale(0.0950 0.0943)" font-size="100" font-weight="400" fill="#444" stroke="#444" stroke-width="1.5">'21</text>
<rect x="807.73" y="586.38" width="10.3" height="51.79" fill="#92d050"/>
<rect x="807.73" y="638.17" width="10.3" height="34.03" fill="#0072c6"/>
<text transform="translate(806.40 687.60) scale(0.0950 0.0943)" font-size="100" font-weight="400" fill="#444" stroke="#444" stroke-width="1.5">'22</text>
<path d="M547.55 585.53 C550.27 586.35 562.52 592.25 567.96 591.74 C573.40 591.23 582.93 581.58 588.37 581.72 C593.81 581.85 603.34 592.30 608.78 592.75 C614.22 593.20 623.75 588.20 629.19 585.10 C634.63 582.00 644.16 573.86 649.60 569.48 C655.04 565.10 664.57 554.09 670.01 552.27 C675.45 550.45 684.98 557.03 690.42 555.84 C695.86 554.66 705.39 544.40 710.83 543.41 C716.27 542.42 725.80 546.28 731.24 548.42 C736.68 550.56 746.21 561.11 751.65 559.46 C757.09 557.80 766.62 538.04 772.06 535.99 C777.50 533.95 787.03 537.39 792.47 544.11 C797.91 550.83 810.16 580.74 812.88 586.38" fill="none" stroke="#9b3fb5" stroke-width="1.8" stroke-linejoin="round"/>
<circle cx="547.55" cy="585.53" r="2.1" fill="#fff" stroke="#9b3fb5" stroke-width="1.2"/>
<circle cx="567.96" cy="591.74" r="2.1" fill="#fff" stroke="#9b3fb5" stroke-width="1.2"/>
<circle cx="588.37" cy="581.72" r="2.1" fill="#fff" stroke="#9b3fb5" stroke-width="1.2"/>
<circle cx="608.78" cy="592.75" r="2.1" fill="#fff" stroke="#9b3fb5" stroke-width="1.2"/>
<circle cx="629.19" cy="585.10" r="2.1" fill="#fff" stroke="#9b3fb5" stroke-width="1.2"/>
<circle cx="649.60" cy="569.48" r="2.1" fill="#fff" stroke="#9b3fb5" stroke-width="1.2"/>
<circle cx="670.01" cy="552.27" r="2.1" fill="#fff" stroke="#9b3fb5" stroke-width="1.2"/>
<circle cx="690.42" cy="555.84" r="2.1" fill="#fff" stroke="#9b3fb5" stroke-width="1.2"/>
<circle cx="710.83" cy="543.41" r="2.1" fill="#fff" stroke="#9b3fb5" stroke-width="1.2"/>
<circle cx="731.24" cy="548.42" r="2.1" fill="#fff" stroke="#9b3fb5" stroke-width="1.2"/>
<circle cx="751.65" cy="559.46" r="2.1" fill="#fff" stroke="#9b3fb5" stroke-width="1.2"/>
<circle cx="772.06" cy="535.99" r="2.1" fill="#fff" stroke="#9b3fb5" stroke-width="1.2"/>
<circle cx="792.47" cy="544.11" r="2.1" fill="#fff" stroke="#9b3fb5" stroke-width="1.2"/>
<circle cx="812.88" cy="586.38" r="2.1" fill="#fff" stroke="#9b3fb5" stroke-width="1.2"/>
<text transform="translate(535.90 577.93) scale(0.0908 0.0944)" font-size="100" font-weight="400" fill="#3c3c3c" stroke="#3c3c3c" stroke-width="3">223.1</text>
<text transform="translate(556.91 585.55) scale(0.0908 0.0944)" font-size="100" font-weight="400" fill="#3c3c3c" stroke="#3c3c3c" stroke-width="3">207.1</text>
<text transform="translate(576.82 575.42) scale(0.0905 0.0944)" font-size="100" font-weight="400" fill="#3c3c3c" stroke="#3c3c3c" stroke-width="3">232.9</text>
<text transform="translate(597.43 585.96) scale(0.0905 0.0944)" font-size="100" font-weight="400" fill="#3c3c3c" stroke="#3c3c3c" stroke-width="3">204.5</text>
<text transform="translate(617.84 579.30) scale(0.0908 0.0957)" font-size="100" font-weight="400" fill="#3c3c3c" stroke="#3c3c3c" stroke-width="3">224.2</text>
<text transform="translate(638.55 563.59) scale(0.0901 0.0944)" font-size="100" font-weight="400" fill="#3c3c3c" stroke="#3c3c3c" stroke-width="3">264.4</text>
<text transform="translate(657.25 546.48) scale(0.0905 0.0944)" font-size="100" font-weight="400" fill="#3c3c3c" stroke="#3c3c3c" stroke-width="3">308.7</text>
<text transform="translate(678.67 551.25) scale(0.0905 0.0944)" font-size="100" font-weight="400" fill="#3c3c3c" stroke="#3c3c3c" stroke-width="3">299.5</text>
<text transform="translate(698.57 535.82) scale(0.0901 0.0944)" font-size="100" font-weight="400" fill="#3c3c3c" stroke="#3c3c3c" stroke-width="3">331.5</text>
<text transform="translate(720.18 542.33) scale(0.0901 0.0944)" font-size="100" font-weight="400" fill="#3c3c3c" stroke="#3c3c3c" stroke-width="3">318.6</text>
<text transform="translate(740.50 551.66) scale(0.0908 0.0944)" font-size="100" font-weight="400" fill="#3c3c3c" stroke="#3c3c3c" stroke-width="3">290.2</text>
<text transform="translate(760.40 529.90) scale(0.0901 0.0944)" font-size="100" font-weight="400" fill="#3c3c3c" stroke="#3c3c3c" stroke-width="3">350.6</text>
<text transform="translate(781.71 538.02) scale(0.0905 0.0944)" font-size="100" font-weight="400" fill="#3c3c3c" stroke="#3c3c3c" stroke-width="3">329.7</text>
<text transform="translate(802.43 577.79) scale(0.0905 0.0944)" font-size="100" font-weight="400" fill="#3c3c3c" stroke="#3c3c3c" stroke-width="3">220.9</text>
</g>
</svg>
</body></html>
